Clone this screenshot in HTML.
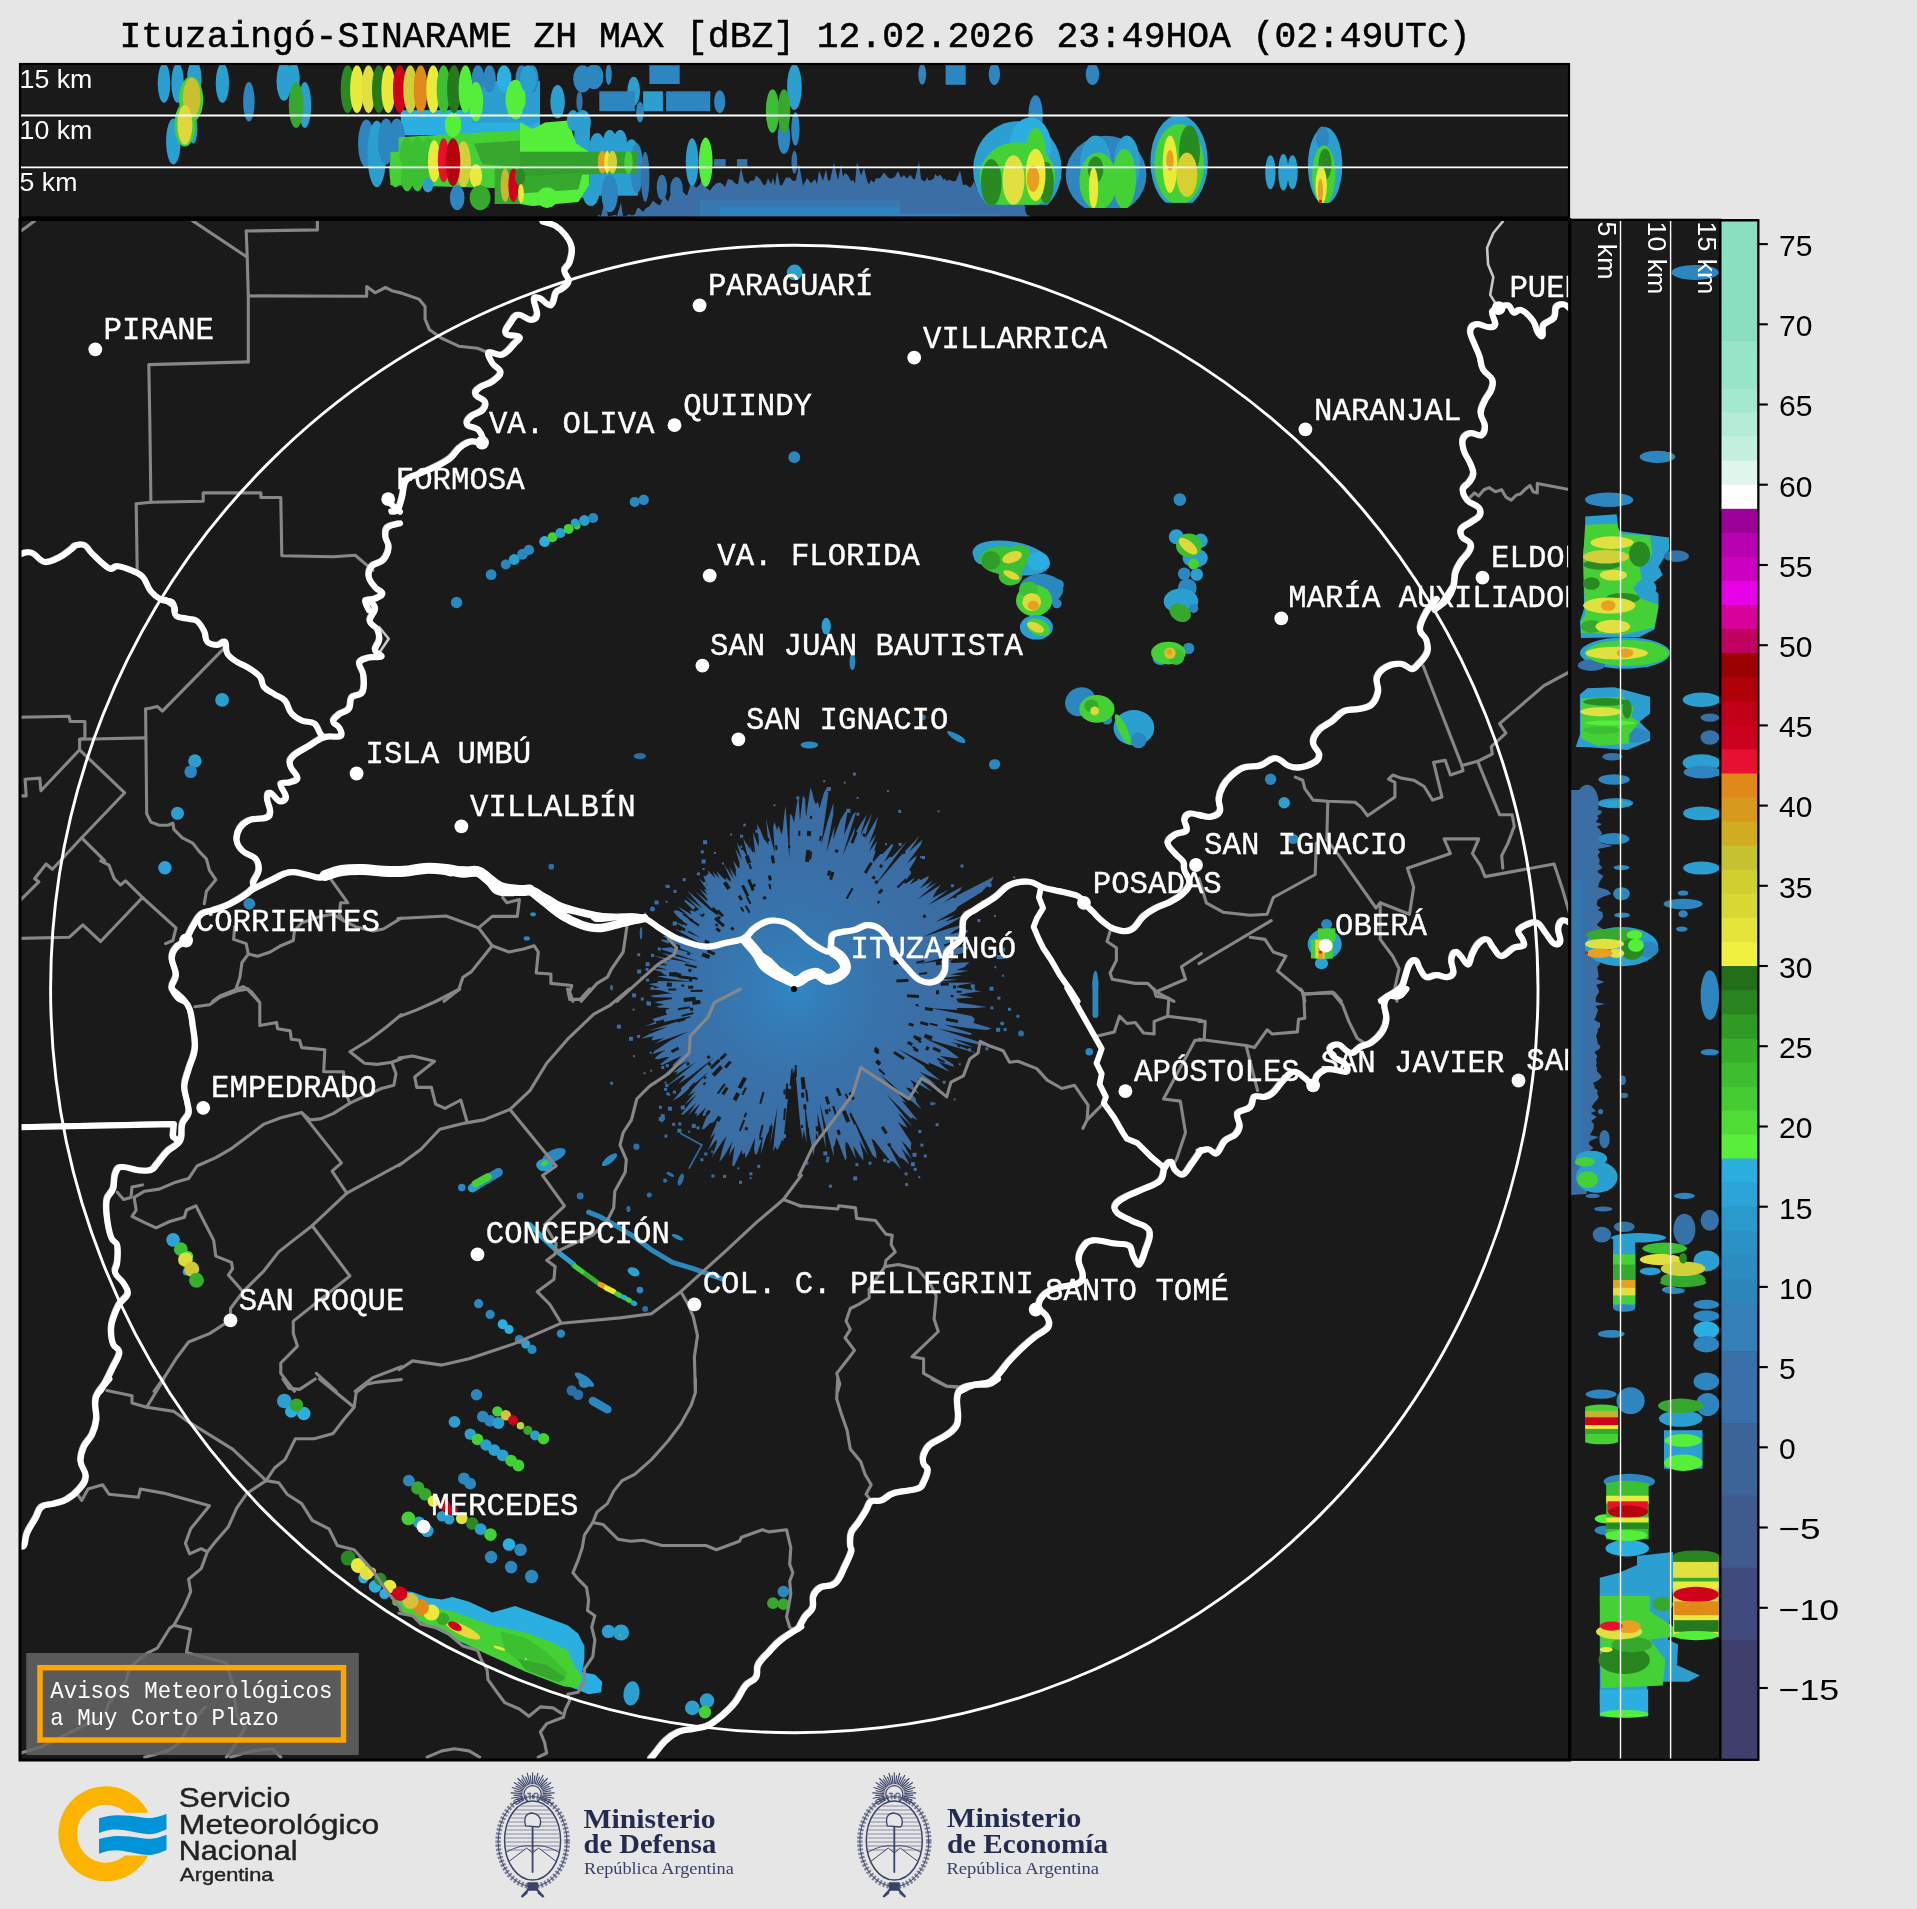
<!DOCTYPE html><html><head><meta charset="utf-8"><title>Radar</title><style>
html,body{margin:0;padding:0;background:#e6e6e6;}body{width:1917px;height:1909px;overflow:hidden;position:relative;font-family:"Liberation Sans",sans-serif;}
svg{position:absolute;left:0;top:0;display:block;will-change:transform;opacity:0.9999}
.mono{font-family:"Liberation Mono",monospace}.sans{font-family:"Liberation Sans",sans-serif}.serif{font-family:"Liberation Serif",serif}
</style></head><body>
<svg width="1917" height="1909" viewBox="0 0 1917 1909">
<rect width="1917" height="1909" fill="#e6e6e6"/>
<text class="mono" x="119.5" y="46.9" font-size="37.5" fill="#000" stroke="#000" stroke-width="0.55" textLength="1351" lengthAdjust="spacingAndGlyphs">Ituzaingó-SINARAME ZH MAX [dBZ] 12.02.2026 23:49HOA (02:49UTC)</text>
<defs><clipPath id="cm"><rect x="20" y="220" width="1549" height="1539"/></clipPath>
<clipPath id="ct"><rect x="20" y="64" width="1549" height="153"/></clipPath>
<clipPath id="cr"><rect x="1570" y="220" width="151" height="1539"/></clipPath>
<radialGradient id="rg" gradientUnits="userSpaceOnUse" cx="794" cy="989" r="210"><stop offset="0" stop-color="#2f88c4"/><stop offset="0.15" stop-color="#337db8"/><stop offset="0.4" stop-color="#3873ab"/><stop offset="0.65" stop-color="#3a6ea5"/><stop offset="1" stop-color="#3c6ba1"/></radialGradient>
</defs>
<rect x="19" y="63" width="1551" height="1697" fill="#1a1a1a"/>
<rect x="1569" y="219" width="190" height="1541" fill="#1a1a1a"/>
<g clip-path="url(#cm)">
<polygon points="965.3,989 981.3,991.2 968.4,993.1 958.4,994.7 973.6,997.4 956.5,998.5 956.9,1000.4 958.5,1002.4 987,1007 975.8,1008.1 956.2,1008 958.1,1010.1 931.1,1008.3 971.6,1016.1 974.6,1018.7 974.3,1020.8 973.2,1022.7 991.7,1028.6 986.6,1029.9 969,1028.3 943.5,1024.4 972.2,1033.4 970.1,1035.1 937.8,1028.4 984.1,1043.5 984.5,1046 953.1,1038.7 974.1,1047.5 950.3,1041.8 976.2,1052.9 947.9,1045 925,1038.4 946.3,1048.5 952.6,1053.1 959.2,1058 954.7,1058.3 946.3,1056.8 940.1,1056.1 953.3,1064.4 953.6,1066.8 938,1061.3 942.8,1065.9 950.2,1072 928.7,1062.6 928.7,1064.7 898.1,1049.1 923.9,1066 926.4,1069.6 940.5,1080.5 929.9,1076.2 919.3,1071.4 936.5,1085.1 919.3,1075.7 930.5,1085.8 916.3,1077.9 932,1091.7 919.9,1085 909.9,1079.5 913.7,1084.8 913.1,1086.6 920,1094.8 909.3,1088 905.8,1087.4 915.9,1098.8 916,1101.5 921.6,1109.4 900.5,1091.9 880.3,1074.3 906.6,1102.9 901.4,1100.2 917.7,1120.2 912.5,1117.6 910.8,1118.7 886.6,1094.3 912.8,1127.3 897.9,1112.8 907.4,1127.4 903.5,1125.9 897.9,1122 911.4,1142.9 910.8,1145.8 911.3,1150.4 901.4,1140.5 912,1159.6 901.3,1148.1 909.5,1164.6 902.8,1158.7 899.2,1157.3 886.9,1141.6 901.2,1169.8 893.5,1161.4 890.9,1161.4 883.1,1152 874.6,1140.7 871.4,1138.7 876,1152.2 876.6,1158.4 872.8,1155.4 849.1,1109 868.5,1156.2 859.3,1140.3 863.1,1154.5 863.4,1160.8 858.2,1153.3 853.1,1145.6 855.9,1159.1 848.2,1143.6 845.6,1141.7 845.4,1147.2 846.6,1157.7 845.4,1160.8 836.6,1137.6 835.6,1140.7 834.8,1144.8 833.4,1147.2 833.9,1157.3 819.6,1102.8 824.5,1132.3 826.1,1149 817.3,1112.9 817.9,1124.8 818.6,1138.6 815.9,1132.8 815.8,1144.3 814.6,1148.7 813.5,1155.7 809.1,1132.2 804.6,1102.5 806.6,1143.3 803.8,1129.3 802.7,1139.1 800.3,1125.3 797.9,1099.5 796,1076.9 795,1073.4 794,1068.3 793,1074 792.2,1067.8 791.2,1070 789.4,1087.4 787.3,1103.7 783.4,1141.2 781.7,1140 779.3,1146.6 777.1,1150.2 775.6,1146.5 773.1,1151.3 777.4,1107.1 770.4,1143.6 772.1,1122.1 768.9,1131.4 766.4,1135.4 760.9,1154.3 762.7,1136.4 756.9,1154.3 754.9,1154.1 754.1,1149 755.1,1137.5 749.4,1151.5 745.4,1158.4 745,1152.8 742.3,1154.6 741.8,1149.7 734.1,1166.3 732.1,1165.4 733.3,1155.7 734.7,1146.1 728.8,1156 732.4,1141.5 724.7,1155 719.4,1161.9 722.1,1150.5 726.5,1135.9 720.4,1144.5 711.8,1157.5 716.9,1142.4 716.3,1139.4 708,1150.6 715.6,1132.3 709.9,1138.7 716.4,1123.5 717,1118.8 712.8,1122.4 710.3,1123 704.4,1128.8 701.6,1129.5 704.3,1122 708.7,1112.3 703.6,1116.5 702.7,1114.6 706,1107.2 696.4,1117 697,1113.2 694.3,1113.6 700.1,1103.6 688.2,1115.1 696.3,1102.7 683.6,1114.5 681,1114.5 696.7,1094.5 684,1105.6 695.5,1091 688,1096.2 693.1,1088.8 708.3,1071.7 679.8,1096.8 672.8,1100.7 681.6,1090.2 680.8,1088.6 714.7,1057.2 689.1,1077 678,1084 685.3,1076 683.3,1075.5 665.2,1087.2 696.3,1061.8 675.5,1075.1 677.9,1071.3 673,1072.7 689.4,1059.6 664.2,1074.4 672.5,1066.9 673.1,1064.6 678.1,1059.6 681.1,1056 662.2,1065.1 659.8,1064.4 669.6,1057 666.3,1056.9 658.2,1059.2 654.6,1059 656.9,1055.9 665.2,1050 652.6,1053.9 654.5,1051.1 662.7,1045.7 670.3,1040.6 688.5,1031.6 654.4,1043.5 664,1038 652.1,1040.6 651.6,1039 654.1,1036.3 641.2,1038.6 649.1,1034.2 667.7,1026.8 648.4,1030.7 690.8,1017.3 690.1,1016.2 644.7,1026.2 655.2,1021.9 653.9,1020.5 652.4,1019.1 667.2,1014.4 666.1,1013.1 665.7,1011.6 665.8,1010.1 670.1,1007.9 660.1,1007.8 656,1006.8 664.3,1004.2 657.9,1003.3 654.4,1002 672.3,998.9 671.5,997.6 653.6,997.2 650,995.7 671.3,993.3 665.8,992 661.8,990.5 648.2,989 659.6,987.4 654.7,985.8 648.4,983.9 657.9,982.7 657.5,981.1 691.5,981.8 670.3,978.9 656.9,976.2 667.1,975.7 663.3,973.7 660.7,971.8 650.4,968.8 668.3,969.8 652.2,965.7 659.1,965.2 668,965.3 661,962.3 659.6,960.4 670.8,961.3 651.7,955.3 692,963.6 669.7,956.5 661.4,952.7 698.2,961.5 661.1,949.2 662.7,948 666.9,947.7 670.6,947.3 694.2,954 660.8,940.5 662.4,939.4 671.1,941 662.7,936 667,936 675.3,937.8 666.3,932.2 674.3,934 682.5,936.2 703.3,944.8 675.2,929.3 680.1,930.1 685.7,931.4 700.8,938 673.1,921.1 683.5,925.2 682.7,923 683.4,921.6 677,915.9 673.5,911.7 674.6,910.5 677.8,910.6 688.7,916.2 677.1,906.1 691.8,914.7 690.2,911.8 690.5,910.1 695.3,911.9 684.4,901.3 684.6,899.4 698.2,908.6 685.7,896 702.9,908.9 694.1,899 687.3,890.6 710,909.7 719.6,917.1 694.7,890.8 707.3,901.2 707.2,899.1 699.5,888.8 707.9,895.6 703.9,888.9 707.1,890.2 698.8,878.2 707.7,886.2 705.2,880.7 703.4,875.7 706,876.3 706.8,874.7 708.4,874 707.8,870.4 715.5,878.3 712.7,871.5 719.4,878.5 716.2,870.7 722.5,877.5 726.1,880.3 726.1,877.5 730.4,881.8 730.9,879.7 723.9,864.2 734,879.3 729,866.7 736.4,877.6 735.6,872.7 736,870 732.9,860 738.5,868.2 739.7,867 739.3,862.1 735.1,848 742.1,860.4 736.7,842.3 741.6,850.1 743.5,850.3 748.8,860.2 743.2,838.8 747.1,844.6 750.6,850 748.8,838 755.4,854.5 754,843.1 752.9,832.1 758.5,846.8 758.9,840.9 756.9,824 760.1,829.5 764,839.2 766.2,841.6 768.6,845 766,818.7 771.4,840.6 774.9,853.1 773.1,827 774.5,822.3 777.3,830.1 778.8,825.6 781.4,834.5 782.8,829.1 784,817.2 785.5,805.5 789.4,858.5 789.9,813.8 792,815.7 794,822.6 796.1,808.9 798.5,794.7 799.9,821.2 803,795.4 805.1,798.9 806,817 810.5,787.4 812.3,792.5 813.9,799.7 815.6,804 818.1,802.1 819.4,808.5 823.8,793.3 827.1,787.5 827.9,796.9 821.2,844.5 827.5,821.7 833.6,802.6 833.2,814.6 826.3,852.8 834.6,826 833.3,838.9 840.3,820 844.3,813.5 848.1,808.5 845.3,824.6 844,835.2 853.1,814.1 856.1,811.9 842.4,855.9 855,827.3 854,835.3 860.9,823.4 866.9,814.4 860.1,835.7 872.1,813.6 866.4,831.2 864.9,839.2 878.2,816.3 875.4,826.9 868.8,844.3 876.2,834.4 868.9,852 877.3,840.8 874.3,849.9 875.6,851.4 872.6,859.9 873.4,861.9 880.6,853.9 882.8,854 891.8,844.1 893.4,845.2 884.1,861.9 890.1,856.7 892.2,857 907.1,840.8 874.3,886.2 900.2,856.3 919.9,835.4 909.3,851.6 922.5,839.4 920.7,845 906.9,863.6 917,855.6 914.6,861.2 909.1,869.8 910.6,871.1 911.4,872.9 904,882.8 905.6,883.7 914.9,877.5 909.8,884.8 917.9,880 921.3,879.7 928.9,875.8 927.7,879.4 919.7,888.4 933,880.4 925.7,888.6 937,882.5 917.5,899.2 940.9,884.8 936.8,890.2 934.2,894.4 932.7,897.8 948.6,889.8 927.9,905.3 961.9,886.8 960.3,890.4 943.6,902.6 993.7,876.8 991.7,880.9 986.7,886.6 981.7,892 957.7,906.8 955.2,910.4 935.1,922.2 954.9,915.1 944.6,922 964.2,915.6 949.1,924.2 923,936.9 948.6,928.6 968,923.4 954.5,930.6 949.6,934.4 968.3,930.1 966.9,932.8 956.1,938.4 968.9,936.6 948.5,944.7 948.4,946.7 944.3,949.7 965.4,946.3 971,947 965.5,950.5 965.1,952.6 918.3,964.1 953.4,959 950,961.5 951.9,963.1 969.8,962.2 966.4,964.8 964.7,967 956.2,970 968.3,970.7 950,974.4 962.1,975.3 936,979.1 958,979.4 933.7,982.5 974,982.7 959,985.2 956.3,987.1" fill="url(#rg)"/>
<rect x="896.4" y="979.1" width="12" height="3" fill="#1a1a1a" transform="rotate(356 902.4 980.6)"/>
<rect x="956.6" y="990.8" width="5" height="2" fill="#1a1a1a" transform="rotate(1 959.1 991.8)"/>
<rect x="932.8" y="1048.3" width="8" height="3" fill="#1a1a1a" transform="rotate(23 936.8 1049.8)"/>
<rect x="722.8" y="883.6" width="8" height="4" fill="#1a1a1a" transform="rotate(237 726.8 885.6)"/>
<rect x="666.8" y="982.6" width="5" height="4" fill="#1a1a1a" transform="rotate(182 669.3 984.6)"/>
<rect x="688.1" y="921.2" width="12" height="2" fill="#1a1a1a" transform="rotate(214 694.1 922.2)"/>
<rect x="802.4" y="1105.3" width="5" height="3" fill="#1a1a1a" transform="rotate(85 804.9 1106.8)"/>
<rect x="781.7" y="1091.1" width="12" height="4" fill="#1a1a1a" transform="rotate(93 787.7 1093.1)"/>
<rect x="780.8" y="1088.5" width="12" height="2" fill="#1a1a1a" transform="rotate(94 786.8 1089.5)"/>
<rect x="877.0" y="901.2" width="3" height="2" fill="#1a1a1a" transform="rotate(314 878.5 902.2)"/>
<rect x="693.1" y="910.0" width="12" height="4" fill="#1a1a1a" transform="rotate(219 699.1 912.0)"/>
<rect x="767.0" y="838.6" width="3" height="2" fill="#1a1a1a" transform="rotate(260 768.5 839.6)"/>
<rect x="875.7" y="1060.5" width="5" height="4" fill="#1a1a1a" transform="rotate(41 878.2 1062.5)"/>
<rect x="730.9" y="927.2" width="3" height="3" fill="#1a1a1a" transform="rotate(224 732.4 928.7)"/>
<rect x="744.0" y="857.5" width="8" height="4" fill="#1a1a1a" transform="rotate(250 748.0 859.5)"/>
<rect x="806.5" y="831.5" width="5" height="4" fill="#1a1a1a" transform="rotate(276 809.0 833.5)"/>
<rect x="709.2" y="1062.5" width="12" height="3" fill="#1a1a1a" transform="rotate(136 715.2 1064.0)"/>
<rect x="915.6" y="1037.7" width="5" height="3" fill="#1a1a1a" transform="rotate(22 918.1 1039.2)"/>
<rect x="745.3" y="845.1" width="12" height="2" fill="#1a1a1a" transform="rotate(253 751.3 846.1)"/>
<rect x="796.8" y="832.3" width="5" height="2" fill="#1a1a1a" transform="rotate(272 799.3 833.3)"/>
<rect x="787.7" y="845.6" width="3" height="2" fill="#1a1a1a" transform="rotate(268 789.2 846.6)"/>
<rect x="800.6" y="1125.5" width="3" height="2" fill="#1a1a1a" transform="rotate(87 802.1 1126.5)"/>
<rect x="707.0" y="1055.6" width="3" height="3" fill="#1a1a1a" transform="rotate(141 708.5 1057.1)"/>
<rect x="935.9" y="961.0" width="5" height="4" fill="#1a1a1a" transform="rotate(350 938.4 963.0)"/>
<rect x="755.9" y="1096.9" width="12" height="2" fill="#1a1a1a" transform="rotate(106 761.9 1097.9)"/>
<rect x="656.1" y="1020.5" width="8" height="3" fill="#1a1a1a" transform="rotate(166 660.1 1022.0)"/>
<rect x="707.4" y="1125.2" width="5" height="4" fill="#1a1a1a" transform="rotate(121 709.9 1127.2)"/>
<rect x="929.7" y="1023.6" width="8" height="2" fill="#1a1a1a" transform="rotate(14 933.7 1024.6)"/>
<rect x="674.9" y="934.4" width="5" height="4" fill="#1a1a1a" transform="rotate(204 677.4 936.4)"/>
<rect x="681.5" y="1013.5" width="12" height="2" fill="#1a1a1a" transform="rotate(167 687.5 1014.5)"/>
<rect x="719.3" y="1055.0" width="8" height="3" fill="#1a1a1a" transform="rotate(136 723.3 1056.5)"/>
<rect x="789.8" y="1070.1" width="12" height="2" fill="#1a1a1a" transform="rotate(89 795.8 1071.1)"/>
<rect x="823.4" y="1098.9" width="8" height="3" fill="#1a1a1a" transform="rotate(73 827.4 1100.4)"/>
<rect x="677.9" y="1007.2" width="12" height="2" fill="#1a1a1a" transform="rotate(170 683.9 1008.2)"/>
<rect x="828.0" y="1109.1" width="3" height="2" fill="#1a1a1a" transform="rotate(74 829.5 1110.1)"/>
<rect x="752.5" y="884.0" width="3" height="3" fill="#1a1a1a" transform="rotate(249 754.0 885.5)"/>
<rect x="669.2" y="972.8" width="12" height="4" fill="#1a1a1a" transform="rotate(187 675.2 974.8)"/>
<rect x="685.1" y="940.7" width="8" height="2" fill="#1a1a1a" transform="rotate(204 689.1 941.7)"/>
<rect x="874.1" y="1050.3" width="5" height="3" fill="#1a1a1a" transform="rotate(37 876.6 1051.8)"/>
<rect x="809.5" y="816.4" width="3" height="2" fill="#1a1a1a" transform="rotate(276 811.0 817.4)"/>
<rect x="953.0" y="985.5" width="3" height="3" fill="#1a1a1a" transform="rotate(359 954.5 987.0)"/>
<rect x="875.0" y="880.6" width="3" height="3" fill="#1a1a1a" transform="rotate(308 876.5 882.1)"/>
<rect x="744.9" y="1127.2" width="3" height="3" fill="#1a1a1a" transform="rotate(109 746.4 1128.7)"/>
<rect x="846.3" y="1118.3" width="3" height="2" fill="#1a1a1a" transform="rotate(68 847.8 1119.3)"/>
<rect x="824.2" y="1110.2" width="5" height="3" fill="#1a1a1a" transform="rotate(75 826.7 1111.7)"/>
<rect x="678.5" y="975.8" width="12" height="3" fill="#1a1a1a" transform="rotate(186 684.5 977.3)"/>
<rect x="743.6" y="908.2" width="8" height="2" fill="#1a1a1a" transform="rotate(240 747.6 909.2)"/>
<rect x="684.8" y="964.9" width="12" height="2" fill="#1a1a1a" transform="rotate(193 690.8 965.9)"/>
<rect x="689.8" y="977.4" width="8" height="2" fill="#1a1a1a" transform="rotate(186 693.8 978.4)"/>
<rect x="703.0" y="1082.7" width="3" height="2" fill="#1a1a1a" transform="rotate(133 704.5 1083.7)"/>
<rect x="879.6" y="864.7" width="3" height="3" fill="#1a1a1a" transform="rotate(305 881.1 866.2)"/>
<rect x="855.6" y="824.5" width="3" height="3" fill="#1a1a1a" transform="rotate(291 857.1 826.0)"/>
<rect x="922.9" y="914.8" width="3" height="3" fill="#1a1a1a" transform="rotate(331 924.4 916.3)"/>
<rect x="944.0" y="943.4" width="8" height="2" fill="#1a1a1a" transform="rotate(344 948.0 944.4)"/>
<rect x="893.0" y="1054.0" width="12" height="3" fill="#1a1a1a" transform="rotate(32 899.0 1055.5)"/>
<rect x="913.3" y="1036.4" width="8" height="3" fill="#1a1a1a" transform="rotate(22 917.3 1037.9)"/>
<rect x="690.6" y="989.8" width="12" height="2" fill="#1a1a1a" transform="rotate(179 696.6 990.8)"/>
<rect x="836.2" y="1130.8" width="5" height="3" fill="#1a1a1a" transform="rotate(73 838.7 1132.3)"/>
<rect x="672.8" y="972.2" width="5" height="3" fill="#1a1a1a" transform="rotate(187 675.3 973.7)"/>
<rect x="692.4" y="1000.4" width="8" height="4" fill="#1a1a1a" transform="rotate(172 696.4 1002.4)"/>
<rect x="763.0" y="896.4" width="3" height="3" fill="#1a1a1a" transform="rotate(252 764.5 897.9)"/>
<rect x="723.9" y="1063.1" width="8" height="3" fill="#1a1a1a" transform="rotate(131 727.9 1064.6)"/>
<rect x="924.3" y="1035.0" width="8" height="4" fill="#1a1a1a" transform="rotate(20 928.3 1037.0)"/>
<rect x="690.1" y="1007.7" width="3" height="3" fill="#1a1a1a" transform="rotate(169 691.6 1009.2)"/>
<rect x="924.9" y="1007.6" width="8" height="3" fill="#1a1a1a" transform="rotate(8 928.9 1009.1)"/>
<rect x="778.6" y="1113.3" width="12" height="2" fill="#1a1a1a" transform="rotate(94 784.6 1114.3)"/>
<rect x="708.0" y="1062.6" width="3" height="3" fill="#1a1a1a" transform="rotate(138 709.5 1064.1)"/>
<rect x="677.9" y="928.6" width="3" height="2" fill="#1a1a1a" transform="rotate(207 679.4 929.6)"/>
<rect x="717.4" y="916.3" width="3" height="3" fill="#1a1a1a" transform="rotate(223 718.9 917.8)"/>
<rect x="764.3" y="1130.5" width="12" height="3" fill="#1a1a1a" transform="rotate(99 770.3 1132.0)"/>
<rect x="916.3" y="960.9" width="8" height="2" fill="#1a1a1a" transform="rotate(348 920.3 961.9)"/>
<rect x="742.8" y="1114.1" width="5" height="2" fill="#1a1a1a" transform="rotate(111 745.3 1115.1)"/>
<rect x="715.7" y="928.4" width="5" height="3" fill="#1a1a1a" transform="rotate(218 718.2 929.9)"/>
<rect x="797.2" y="1081.2" width="12" height="4" fill="#1a1a1a" transform="rotate(84 803.2 1083.2)"/>
<rect x="936.0" y="990.2" width="3" height="4" fill="#1a1a1a" transform="rotate(1 937.5 992.2)"/>
<rect x="711.3" y="909.4" width="8" height="3" fill="#1a1a1a" transform="rotate(225 715.3 910.9)"/>
<rect x="705.6" y="1111.1" width="5" height="3" fill="#1a1a1a" transform="rotate(125 708.1 1112.6)"/>
<rect x="747.7" y="865.5" width="5" height="2" fill="#1a1a1a" transform="rotate(250 750.2 866.5)"/>
<rect x="880.3" y="1128.7" width="8" height="3" fill="#1a1a1a" transform="rotate(57 884.3 1130.2)"/>
<rect x="711.4" y="1069.0" width="12" height="4" fill="#1a1a1a" transform="rotate(133 717.4 1071.0)"/>
<rect x="800.2" y="1093.7" width="5" height="3" fill="#1a1a1a" transform="rotate(85 802.7 1095.2)"/>
<rect x="953.7" y="896.0" width="3" height="2" fill="#1a1a1a" transform="rotate(330 955.2 897.0)"/>
<rect x="862.5" y="833.4" width="3" height="3" fill="#1a1a1a" transform="rotate(294 864.0 834.9)"/>
<rect x="872.3" y="876.1" width="3" height="3" fill="#1a1a1a" transform="rotate(306 873.8 877.6)"/>
<rect x="887.9" y="1143.4" width="3" height="3" fill="#1a1a1a" transform="rotate(59 889.4 1144.9)"/>
<rect x="721.0" y="1089.5" width="8" height="3" fill="#1a1a1a" transform="rotate(124 725.0 1091.0)"/>
<rect x="767.4" y="876.4" width="5" height="3" fill="#1a1a1a" transform="rotate(258 769.9 877.9)"/>
<rect x="716.0" y="1116.9" width="5" height="4" fill="#1a1a1a" transform="rotate(120 718.5 1118.9)"/>
<rect x="695.2" y="945.2" width="8" height="2" fill="#1a1a1a" transform="rotate(204 699.2 946.2)"/>
<rect x="827.8" y="874.3" width="8" height="3" fill="#1a1a1a" transform="rotate(288 831.8 875.8)"/>
<rect x="800.8" y="1094.6" width="12" height="2" fill="#1a1a1a" transform="rotate(83 806.8 1095.6)"/>
<rect x="679.5" y="922.1" width="8" height="2" fill="#1a1a1a" transform="rotate(211 683.5 923.1)"/>
<rect x="745.0" y="883.6" width="12" height="3" fill="#1a1a1a" transform="rotate(248 751.0 885.1)"/>
<rect x="953.0" y="916.1" width="5" height="2" fill="#1a1a1a" transform="rotate(336 955.5 917.1)"/>
<rect x="767.4" y="885.5" width="5" height="2" fill="#1a1a1a" transform="rotate(257 769.9 886.5)"/>
<rect x="755.3" y="1129.8" width="12" height="2" fill="#1a1a1a" transform="rotate(103 761.3 1130.8)"/>
<rect x="736.3" y="1080.9" width="12" height="4" fill="#1a1a1a" transform="rotate(119 742.3 1082.9)"/>
<rect x="847.7" y="1094.5" width="8" height="3" fill="#1a1a1a" transform="rotate(62 851.7 1096.0)"/>
<rect x="814.8" y="1127.3" width="5" height="3" fill="#1a1a1a" transform="rotate(81 817.3 1128.8)"/>
<rect x="919.1" y="972.5" width="8" height="2" fill="#1a1a1a" transform="rotate(353 923.1 973.5)"/>
<rect x="829.9" y="873.2" width="3" height="2" fill="#1a1a1a" transform="rotate(288 831.4 874.2)"/>
<rect x="668.3" y="943.4" width="12" height="3" fill="#1a1a1a" transform="rotate(200 674.3 944.9)"/>
<rect x="877.9" y="1070.9" width="8" height="2" fill="#1a1a1a" transform="rotate(43 881.9 1071.9)"/>
<rect x="707.1" y="951.1" width="8" height="3" fill="#1a1a1a" transform="rotate(204 711.1 952.6)"/>
<rect x="740.2" y="1090.2" width="8" height="2" fill="#1a1a1a" transform="rotate(116 744.2 1091.2)"/>
<rect x="687.1" y="952.7" width="3" height="2" fill="#1a1a1a" transform="rotate(199 688.6 953.7)"/>
<rect x="950.6" y="995.1" width="3" height="2" fill="#1a1a1a" transform="rotate(3 952.1 996.1)"/>
<rect x="846.6" y="1117.9" width="12" height="2" fill="#1a1a1a" transform="rotate(66 852.6 1118.9)"/>
<rect x="683.7" y="997.4" width="12" height="4" fill="#1a1a1a" transform="rotate(174 689.7 999.4)"/>
<rect x="701.9" y="953.8" width="8" height="4" fill="#1a1a1a" transform="rotate(201 705.9 955.8)"/>
<rect x="762.3" y="1137.6" width="12" height="2" fill="#1a1a1a" transform="rotate(100 768.3 1138.6)"/>
<rect x="675.1" y="932.1" width="5" height="2" fill="#1a1a1a" transform="rotate(206 677.6 933.1)"/>
<rect x="901.8" y="850.2" width="3" height="4" fill="#1a1a1a" transform="rotate(309 903.3 852.2)"/>
<rect x="744.7" y="899.2" width="8" height="2" fill="#1a1a1a" transform="rotate(243 748.7 900.2)"/>
<rect x="918.4" y="1040.6" width="3" height="2" fill="#1a1a1a" transform="rotate(23 919.9 1041.6)"/>
<rect x="893.3" y="960.0" width="8" height="4" fill="#1a1a1a" transform="rotate(345 897.3 962.0)"/>
<rect x="848.1" y="836.1" width="12" height="3" fill="#1a1a1a" transform="rotate(292 854.1 837.6)"/>
<rect x="736.0" y="1124.4" width="12" height="2" fill="#1a1a1a" transform="rotate(111 742.0 1125.4)"/>
<rect x="686.5" y="1062.3" width="3" height="3" fill="#1a1a1a" transform="rotate(145 688.0 1063.8)"/>
<rect x="907.0" y="994.6" width="12" height="3" fill="#1a1a1a" transform="rotate(3 913.0 996.1)"/>
<rect x="768.9" y="857.9" width="8" height="3" fill="#1a1a1a" transform="rotate(261 772.9 859.4)"/>
<rect x="716.2" y="911.9" width="8" height="3" fill="#1a1a1a" transform="rotate(226 720.2 913.4)"/>
<rect x="925.9" y="1046.4" width="3" height="4" fill="#1a1a1a" transform="rotate(24 927.4 1048.4)"/>
<rect x="782.0" y="1090.9" width="5" height="2" fill="#1a1a1a" transform="rotate(95 784.5 1091.9)"/>
<rect x="908.6" y="1023.1" width="5" height="3" fill="#1a1a1a" transform="rotate(17 911.1 1024.6)"/>
<rect x="843.3" y="1096.5" width="8" height="2" fill="#1a1a1a" transform="rotate(64 847.3 1097.5)"/>
<rect x="715.3" y="1087.7" width="12" height="2" fill="#1a1a1a" transform="rotate(126 721.3 1088.7)"/>
<rect x="688.2" y="985.8" width="5" height="3" fill="#1a1a1a" transform="rotate(181 690.7 987.3)"/>
<rect x="915.7" y="1004.2" width="3" height="2" fill="#1a1a1a" transform="rotate(7 917.2 1005.2)"/>
<rect x="704.5" y="940.5" width="5" height="3" fill="#1a1a1a" transform="rotate(208 707.0 942.0)"/>
<rect x="668.2" y="988.5" width="8" height="2" fill="#1a1a1a" transform="rotate(180 672.2 989.5)"/>
<rect x="907.5" y="1042.0" width="5" height="3" fill="#1a1a1a" transform="rotate(25 910.0 1043.5)"/>
<rect x="818.0" y="837.4" width="5" height="2" fill="#1a1a1a" transform="rotate(280 820.5 838.4)"/>
<rect x="773.8" y="846.5" width="5" height="2" fill="#1a1a1a" transform="rotate(263 776.3 847.5)"/>
<rect x="713.5" y="920.6" width="12" height="3" fill="#1a1a1a" transform="rotate(222 719.5 922.1)"/>
<rect x="681.3" y="984.6" width="3" height="2" fill="#1a1a1a" transform="rotate(182 682.8 985.6)"/>
<rect x="862.3" y="866.3" width="12" height="3" fill="#1a1a1a" transform="rotate(301 868.3 867.8)"/>
<rect x="737.9" y="896.3" width="5" height="3" fill="#1a1a1a" transform="rotate(240 740.4 897.8)"/>
<rect x="703.5" y="1076.5" width="3" height="2" fill="#1a1a1a" transform="rotate(135 705.0 1077.5)"/>
<rect x="688.4" y="968.9" width="3" height="3" fill="#1a1a1a" transform="rotate(190 689.9 970.4)"/>
<rect x="682.0" y="916.4" width="12" height="2" fill="#1a1a1a" transform="rotate(214 688.0 917.4)"/>
<rect x="732.4" y="1094.7" width="8" height="4" fill="#1a1a1a" transform="rotate(118 736.4 1096.7)"/>
<rect x="840.1" y="1114.5" width="12" height="4" fill="#1a1a1a" transform="rotate(68 846.1 1116.5)"/>
<rect x="957.6" y="1044.0" width="3" height="3" fill="#1a1a1a" transform="rotate(19 959.1 1045.5)"/>
<rect x="806.6" y="1128.7" width="3" height="2" fill="#1a1a1a" transform="rotate(84 808.1 1129.7)"/>
<rect x="835.1" y="849.6" width="3" height="3" fill="#1a1a1a" transform="rotate(287 836.6 851.1)"/>
<rect x="834.7" y="1090.6" width="8" height="3" fill="#1a1a1a" transform="rotate(67 838.7 1092.1)"/>
<rect x="692.7" y="976.9" width="3" height="2" fill="#1a1a1a" transform="rotate(186 694.2 977.9)"/>
<rect x="878.1" y="889.9" width="5" height="3" fill="#1a1a1a" transform="rotate(312 880.6 891.4)"/>
<rect x="913.5" y="1048.3" width="5" height="3" fill="#1a1a1a" transform="rotate(26 916.0 1049.8)"/>
<rect x="912.5" y="1046.5" width="3" height="2" fill="#1a1a1a" transform="rotate(26 914.0 1047.5)"/>
<rect x="826.5" y="871.7" width="5" height="3" fill="#1a1a1a" transform="rotate(287 829.0 873.2)"/>
<rect x="874.2" y="1047.9" width="5" height="3" fill="#1a1a1a" transform="rotate(36 876.7 1049.4)"/>
<rect x="843.6" y="892.5" width="12" height="2" fill="#1a1a1a" transform="rotate(300 849.6 893.5)"/>
<rect x="946.0" y="1018.8" width="12" height="3" fill="#1a1a1a" transform="rotate(11 952.0 1020.3)"/>
<rect x="937.0" y="1059.3" width="8" height="2" fill="#1a1a1a" transform="rotate(26 941.0 1060.3)"/>
<rect x="895.7" y="882.4" width="12" height="2" fill="#1a1a1a" transform="rotate(316 901.7 883.4)"/>
<rect x="688.7" y="1084.7" width="8" height="3" fill="#1a1a1a" transform="rotate(136 692.7 1086.2)"/>
<rect x="739.7" y="908.3" width="5" height="2" fill="#1a1a1a" transform="rotate(237 742.2 909.3)"/>
<rect x="801.7" y="853.9" width="12" height="4" fill="#1a1a1a" transform="rotate(276 807.7 855.9)"/>
<rect x="920.3" y="1022.1" width="8" height="3" fill="#1a1a1a" transform="rotate(15 924.3 1023.6)"/>
<rect x="715.1" y="923.9" width="3" height="2" fill="#1a1a1a" transform="rotate(220 716.6 924.9)"/>
<rect x="940.7" y="982.6" width="8" height="3" fill="#1a1a1a" transform="rotate(358 944.7 984.1)"/>
<rect x="806.7" y="854.5" width="8" height="2" fill="#1a1a1a" transform="rotate(277 810.7 855.5)"/>
<rect x="671.0" y="1048.4" width="8" height="3" fill="#1a1a1a" transform="rotate(153 675.0 1049.9)"/>
<rect x="677.3" y="1019.4" width="8" height="2" fill="#1a1a1a" transform="rotate(164 681.3 1020.4)"/>
<rect x="689.2" y="978.5" width="3" height="3" fill="#1a1a1a" transform="rotate(185 690.7 980.0)"/>
<rect x="759.2" y="1137.0" width="3" height="3" fill="#1a1a1a" transform="rotate(103 760.7 1138.5)"/>
<rect x="739.2" y="889.2" width="12" height="3" fill="#1a1a1a" transform="rotate(244 745.2 890.7)"/>
<rect x="829.0" y="1110.7" width="12" height="2" fill="#1a1a1a" transform="rotate(72 835.0 1111.7)"/>
<rect x="696.9" y="872.4" width="3" height="3" fill="#3a6ea5"/>
<rect x="757.2" y="1164.8" width="3" height="3" fill="#3a6ea5"/>
<rect x="739.0" y="1180.8" width="3" height="3" fill="#3a6ea5"/>
<rect x="990.4" y="1006.4" width="3" height="3" fill="#3a6ea5"/>
<rect x="668.2" y="1093.8" width="2" height="2" fill="#3a6ea5"/>
<rect x="886.9" y="790.1" width="2" height="2" fill="#3a6ea5"/>
<rect x="657.8" y="947.5" width="3" height="3" fill="#3a6ea5"/>
<rect x="942.7" y="1080.7" width="3" height="3" fill="#3a6ea5"/>
<rect x="1003.6" y="1028.1" width="3" height="3" fill="#3a6ea5"/>
<rect x="1002.1" y="974.7" width="2" height="2" fill="#3a6ea5"/>
<rect x="721.9" y="862.5" width="2" height="2" fill="#3a6ea5"/>
<rect x="678.3" y="1122.5" width="3" height="3" fill="#3a6ea5"/>
<rect x="632.6" y="1008.6" width="2" height="2" fill="#3a6ea5"/>
<rect x="1001.1" y="947.7" width="4" height="4" fill="#3a6ea5"/>
<rect x="649.7" y="1051.8" width="2" height="2" fill="#3a6ea5"/>
<rect x="970.8" y="984.3" width="4" height="4" fill="#3a6ea5"/>
<rect x="700.8" y="850.4" width="3" height="3" fill="#3a6ea5"/>
<rect x="637.1" y="969.5" width="4" height="4" fill="#3a6ea5"/>
<rect x="680.8" y="1105.5" width="4" height="4" fill="#3a6ea5"/>
<rect x="953.6" y="1098.5" width="2" height="2" fill="#3a6ea5"/>
<rect x="905.1" y="1183.1" width="3" height="3" fill="#3a6ea5"/>
<rect x="703.1" y="840.2" width="4" height="4" fill="#3a6ea5"/>
<rect x="824.2" y="791.7" width="4" height="4" fill="#3a6ea5"/>
<rect x="913.7" y="1167.8" width="3" height="3" fill="#3a6ea5"/>
<rect x="993.9" y="915.0" width="2" height="2" fill="#3a6ea5"/>
<rect x="933.5" y="1102.6" width="2" height="2" fill="#3a6ea5"/>
<rect x="825.3" y="794.0" width="2" height="2" fill="#3a6ea5"/>
<rect x="958.8" y="1063.2" width="2" height="2" fill="#3a6ea5"/>
<rect x="646.1" y="978.6" width="3" height="3" fill="#3a6ea5"/>
<rect x="826.9" y="787.1" width="4" height="4" fill="#3a6ea5"/>
<rect x="616.9" y="1024.6" width="4" height="4" fill="#3a6ea5"/>
<rect x="887.1" y="1160.1" width="3" height="3" fill="#3a6ea5"/>
<rect x="898.6" y="842.9" width="3" height="3" fill="#3a6ea5"/>
<rect x="923.8" y="1154.5" width="3" height="3" fill="#3a6ea5"/>
<rect x="650.2" y="1083.2" width="2" height="2" fill="#3a6ea5"/>
<rect x="665.8" y="1064.2" width="3" height="3" fill="#3a6ea5"/>
<rect x="846.4" y="808.8" width="4" height="4" fill="#3a6ea5"/>
<rect x="918.2" y="1176.2" width="2" height="2" fill="#3a6ea5"/>
<rect x="654.4" y="1082.3" width="2" height="2" fill="#3a6ea5"/>
<rect x="666.3" y="1092.3" width="3" height="3" fill="#3a6ea5"/>
<rect x="782.0" y="1134.1" width="4" height="4" fill="#3a6ea5"/>
<rect x="700.4" y="1158.2" width="3" height="3" fill="#3a6ea5"/>
<rect x="653.7" y="924.7" width="2" height="2" fill="#3a6ea5"/>
<rect x="664.1" y="1087.8" width="3" height="3" fill="#3a6ea5"/>
<rect x="823.3" y="1151.4" width="4" height="4" fill="#3a6ea5"/>
<rect x="658.9" y="1105.8" width="3" height="3" fill="#3a6ea5"/>
<rect x="648.7" y="1034.1" width="2" height="2" fill="#3a6ea5"/>
<rect x="904.6" y="1172.4" width="3" height="3" fill="#3a6ea5"/>
<rect x="664.6" y="1081.6" width="2" height="2" fill="#3a6ea5"/>
<rect x="755.3" y="829.8" width="3" height="3" fill="#3a6ea5"/>
<rect x="647.0" y="1001.6" width="4" height="4" fill="#3a6ea5"/>
<rect x="773.5" y="804.3" width="2" height="2" fill="#3a6ea5"/>
<rect x="997.4" y="996.6" width="3" height="3" fill="#3a6ea5"/>
<rect x="672.2" y="1122.8" width="3" height="3" fill="#3a6ea5"/>
<rect x="885.0" y="843.2" width="2" height="2" fill="#3a6ea5"/>
<rect x="711.4" y="1174.5" width="3" height="3" fill="#3a6ea5"/>
<rect x="968.1" y="1048.3" width="3" height="3" fill="#3a6ea5"/>
<rect x="654.6" y="900.5" width="4" height="4" fill="#3a6ea5"/>
<rect x="702.6" y="868.0" width="2" height="2" fill="#3a6ea5"/>
<rect x="749.7" y="1177.2" width="2" height="2" fill="#3a6ea5"/>
<rect x="665.3" y="1084.0" width="3" height="3" fill="#3a6ea5"/>
<rect x="704.3" y="1152.5" width="3" height="3" fill="#3a6ea5"/>
<rect x="843.7" y="781.6" width="2" height="2" fill="#3a6ea5"/>
<rect x="989.5" y="986.7" width="4" height="4" fill="#3a6ea5"/>
<rect x="682.7" y="878.1" width="3" height="3" fill="#3a6ea5"/>
<rect x="703.7" y="881.9" width="3" height="3" fill="#3a6ea5"/>
<rect x="672.7" y="921.6" width="4" height="4" fill="#3a6ea5"/>
<rect x="643.5" y="1072.2" width="2" height="2" fill="#3a6ea5"/>
<rect x="883.2" y="1158.8" width="3" height="3" fill="#3a6ea5"/>
<rect x="667.9" y="1106.7" width="4" height="4" fill="#3a6ea5"/>
<rect x="856.6" y="796.9" width="2" height="2" fill="#3a6ea5"/>
<rect x="898.2" y="809.9" width="3" height="3" fill="#3a6ea5"/>
<rect x="713.9" y="851.9" width="2" height="2" fill="#3a6ea5"/>
<rect x="743.2" y="824.4" width="2" height="2" fill="#3a6ea5"/>
<rect x="987.6" y="883.1" width="4" height="4" fill="#3a6ea5"/>
<rect x="711.2" y="1150.7" width="2" height="2" fill="#3a6ea5"/>
<rect x="910.9" y="1162.2" width="4" height="4" fill="#3a6ea5"/>
<rect x="996.1" y="1027.8" width="4" height="4" fill="#3a6ea5"/>
<rect x="853.2" y="1176.4" width="4" height="4" fill="#3a6ea5"/>
<rect x="632.1" y="993.4" width="4" height="4" fill="#3a6ea5"/>
<rect x="640.5" y="976.5" width="3" height="3" fill="#3a6ea5"/>
<rect x="823.2" y="780.2" width="2" height="2" fill="#3a6ea5"/>
<rect x="696.5" y="1126.4" width="3" height="3" fill="#3a6ea5"/>
<rect x="658.7" y="1117.0" width="4" height="4" fill="#3a6ea5"/>
<rect x="629.0" y="1036.8" width="4" height="4" fill="#3a6ea5"/>
<rect x="677.4" y="1128.7" width="4" height="4" fill="#3a6ea5"/>
<rect x="744.0" y="823.7" width="2" height="2" fill="#3a6ea5"/>
<rect x="740.1" y="834.7" width="3" height="3" fill="#3a6ea5"/>
<rect x="688.1" y="1130.7" width="2" height="2" fill="#3a6ea5"/>
<rect x="788.1" y="1085.9" width="3" height="3" fill="#3a6ea5"/>
<rect x="660.7" y="1114.1" width="4" height="4" fill="#3a6ea5"/>
<rect x="950.9" y="884.2" width="3" height="3" fill="#3a6ea5"/>
<rect x="1000.0" y="955.0" width="4" height="4" fill="#3a6ea5"/>
<rect x="672.9" y="1090.6" width="3" height="3" fill="#3a6ea5"/>
<rect x="796.3" y="796.5" width="3" height="3" fill="#3a6ea5"/>
<rect x="650.8" y="986.9" width="3" height="3" fill="#3a6ea5"/>
<rect x="651.7" y="923.3" width="3" height="3" fill="#3a6ea5"/>
<rect x="640.8" y="997.5" width="3" height="3" fill="#3a6ea5"/>
<rect x="856.4" y="812.7" width="3" height="3" fill="#3a6ea5"/>
<rect x="826.4" y="1156.6" width="3" height="3" fill="#3a6ea5"/>
<rect x="935.6" y="1123.2" width="3" height="3" fill="#3a6ea5"/>
<rect x="960.5" y="864.5" width="3" height="3" fill="#3a6ea5"/>
<rect x="664.4" y="1134.6" width="3" height="3" fill="#3a6ea5"/>
<rect x="665.5" y="884.8" width="3" height="3" fill="#3a6ea5"/>
<rect x="930.4" y="1102.2" width="3" height="3" fill="#3a6ea5"/>
<rect x="651.0" y="953.8" width="3" height="3" fill="#3a6ea5"/>
<rect x="749.4" y="1172.3" width="3" height="3" fill="#3a6ea5"/>
<rect x="646.3" y="1001.4" width="3" height="3" fill="#3a6ea5"/>
<rect x="852.9" y="772.6" width="3" height="3" fill="#3a6ea5"/>
<rect x="922.0" y="856.1" width="3" height="3" fill="#3a6ea5"/>
<rect x="673.5" y="889.9" width="3" height="3" fill="#3a6ea5"/>
<rect x="637.2" y="953.2" width="3" height="3" fill="#3a6ea5"/>
<rect x="723.1" y="1174.9" width="3" height="3" fill="#3a6ea5"/>
<rect x="701.6" y="859.5" width="4" height="4" fill="#3a6ea5"/>
<rect x="637.1" y="1034.9" width="3" height="3" fill="#3a6ea5"/>
<rect x="977.4" y="919.1" width="3" height="3" fill="#3a6ea5"/>
<rect x="917.7" y="878.8" width="2" height="2" fill="#3a6ea5"/>
<rect x="644.2" y="912.4" width="2" height="2" fill="#3a6ea5"/>
<rect x="735.5" y="1156.6" width="2" height="2" fill="#3a6ea5"/>
<rect x="855.4" y="1163.2" width="3" height="3" fill="#3a6ea5"/>
<rect x="920.1" y="856.2" width="2" height="2" fill="#3a6ea5"/>
<rect x="920.4" y="1143.6" width="3" height="3" fill="#3a6ea5"/>
<rect x="994.3" y="966.2" width="2" height="2" fill="#3a6ea5"/>
<rect x="633.0" y="1055.1" width="2" height="2" fill="#3a6ea5"/>
<rect x="645.6" y="962.2" width="4" height="4" fill="#3a6ea5"/>
<rect x="1013.2" y="876.3" width="2" height="2" fill="#3a6ea5"/>
<rect x="650.2" y="1069.7" width="2" height="2" fill="#3a6ea5"/>
<rect x="740.2" y="845.7" width="2" height="2" fill="#3a6ea5"/>
<rect x="918.3" y="1130.0" width="3" height="3" fill="#3a6ea5"/>
<rect x="825.9" y="1159.4" width="3" height="3" fill="#3a6ea5"/>
<rect x="1002.3" y="955.7" width="3" height="3" fill="#3a6ea5"/>
<rect x="937.5" y="810.3" width="2" height="2" fill="#3a6ea5"/>
<rect x="666.8" y="884.9" width="3" height="3" fill="#3a6ea5"/>
<rect x="963.6" y="911.2" width="3" height="3" fill="#3a6ea5"/>
<rect x="962.0" y="944.0" width="2" height="2" fill="#3a6ea5"/>
<rect x="737.3" y="1167.4" width="2" height="2" fill="#3a6ea5"/>
<rect x="661.3" y="1066.0" width="3" height="3" fill="#3a6ea5"/>
<rect x="730.1" y="833.5" width="2" height="2" fill="#3a6ea5"/>
<rect x="972.1" y="988.3" width="3" height="3" fill="#3a6ea5"/>
<rect x="996.7" y="955.1" width="4" height="4" fill="#3a6ea5"/>
<rect x="691.8" y="1123.9" width="4" height="4" fill="#3a6ea5"/>
<rect x="1007.9" y="1007.8" width="3" height="3" fill="#3a6ea5"/>
<rect x="985.4" y="1047.3" width="3" height="3" fill="#3a6ea5"/>
<rect x="645.6" y="967.9" width="3" height="3" fill="#3a6ea5"/>
<rect x="981.4" y="900.1" width="3" height="3" fill="#3a6ea5"/>
<rect x="912.5" y="1152.8" width="4" height="4" fill="#3a6ea5"/>
<rect x="828.9" y="1184.7" width="3" height="3" fill="#3a6ea5"/>
<rect x="805.4" y="1161.8" width="3" height="3" fill="#3a6ea5"/>
<rect x="665.6" y="900.8" width="2" height="2" fill="#3a6ea5"/>
<rect x="868.5" y="1161.7" width="3" height="3" fill="#3a6ea5"/>
<polygon points="399,1590.6 412.6,1592 427.2,1597.5 441.9,1599.6 452.4,1597.1 469.1,1601.7 492.2,1612.6 515.2,1605.9 544.6,1616.8 567.6,1625.2 578.1,1633.5 584.4,1646.1 584.4,1658.7 582.3,1672.3 594.9,1674.4 602.2,1681.7 601.2,1692.2 588.6,1694.3 578.1,1690.1 525.7,1670.2 462.9,1643 399,1610.5" fill="#2baee0"/>
<polygon points="399,1600 452.4,1611.5 494.3,1626.2 525.7,1632.5 550.9,1641.9 567.6,1650.3 573.9,1665 582.3,1677.5 578.1,1688 563.4,1686.3 525.7,1671.7 483.8,1652.8 441.9,1631.9 399,1610.5" fill="#45d135"/>
<polygon points="500.6,1631.4 525.7,1637.7 546.7,1652.4 567.6,1673.3 563.4,1681.7 525.7,1667.1 504.8,1650.3" fill="#3cc030"/>
<polygon points="517.3,1658.7 546.7,1665 565.5,1677.5 559.2,1682.8 525.7,1670.2" fill="#36a82e"/>
<ellipse cx="639.9" cy="756.1" rx="6.3" ry="3.1" fill="#2a6fa8"/>
<ellipse cx="551.3" cy="866.7" rx="2.9" ry="2.9" fill="#2a6fa8"/>
<ellipse cx="539.3" cy="895.9" rx="3.8" ry="2.9" fill="#2a88be"/>
<ellipse cx="533.1" cy="914.3" rx="2.9" ry="2.1" fill="#2a88be"/>
<ellipse cx="526.8" cy="938.4" rx="3.1" ry="2.1" fill="#2a88be"/>
<ellipse cx="652.5" cy="909.1" rx="2.5" ry="2.5" fill="#2a6fa8"/>
<ellipse cx="641" cy="933.2" rx="1.3" ry="6.3" fill="#2a6fa8"/>
<ellipse cx="699.6" cy="912.2" rx="4.2" ry="2.5" fill="#2a6fa8"/>
<ellipse cx="687.1" cy="930" rx="2.1" ry="2.1" fill="#2a6fa8"/>
<ellipse cx="611.6" cy="987.6" rx="1.5" ry="2.9" fill="#2a6fa8"/>
<ellipse cx="826.2" cy="626.2" rx="4.6" ry="8.4" fill="#2b9fd0"/>
<ellipse cx="852.4" cy="661.8" rx="2.9" ry="8.4" fill="#2a88be"/>
<ellipse cx="956.1" cy="737.2" rx="10.5" ry="2.9" fill="#2a88be" transform="rotate(32 956.1 737.2)"/>
<ellipse cx="809.4" cy="745" rx="8.8" ry="3.4" fill="#2a88be"/>
<ellipse cx="994.4" cy="764.9" rx="5.4" ry="4.6" fill="#2a88be"/>
<ellipse cx="922.6" cy="717.3" rx="3.4" ry="2.9" fill="#2a6fa8"/>
<ellipse cx="1095.4" cy="983.4" rx="2.9" ry="12.6" fill="#2a88be"/>
<ellipse cx="633.6" cy="1271.8" rx="6.3" ry="4.2" fill="#2b9fd0" transform="rotate(25 633.6 1271.8)"/>
<ellipse cx="609.5" cy="1159.7" rx="9.4" ry="3.4" fill="#2a88be" transform="rotate(-38 609.5 1159.7)"/>
<ellipse cx="554" cy="1155.5" rx="12.6" ry="5.9" fill="#2a88be" transform="rotate(-25 554 1155.5)"/>
<ellipse cx="544.6" cy="1165" rx="8.4" ry="6.3" fill="#2b9fd0"/>
<ellipse cx="544.6" cy="1163.3" rx="3.8" ry="2.5" fill="#45d135" transform="rotate(-30 544.6 1163.3)"/>
<ellipse cx="677.6" cy="1237.2" rx="6.3" ry="2.1" fill="#2a88be" transform="rotate(25 677.6 1237.2)"/>
<ellipse cx="628.4" cy="1209" rx="2.1" ry="3.1" fill="#2a6fa8"/>
<ellipse cx="584.4" cy="1379.7" rx="11.5" ry="3.8" fill="#2a88be" transform="rotate(35 584.4 1379.7)"/>
<ellipse cx="670.3" cy="1174.4" rx="4.2" ry="1.7" fill="#2a6fa8" transform="rotate(30 670.3 1174.4)"/>
<ellipse cx="680.8" cy="1179.6" rx="2.5" ry="6.3" fill="#2a6fa8" transform="rotate(20 680.8 1179.6)"/>
<ellipse cx="663" cy="1119.9" rx="3.1" ry="1.3" fill="#2a6fa8" transform="rotate(-50 663 1119.9)"/>
<ellipse cx="631.5" cy="1693.3" rx="8" ry="12.2" fill="#2b9fd0" transform="rotate(8 631.5 1693.3)"/>
<ellipse cx="462.9" cy="1630.4" rx="18.9" ry="5" fill="#e8d83a" transform="rotate(25 462.9 1630.4)"/>
<ellipse cx="454.9" cy="1626.2" rx="7.5" ry="3.8" fill="#d0021b" transform="rotate(28 454.9 1626.2)"/>
<ellipse cx="499.5" cy="1648.2" rx="6.3" ry="1.5" fill="#eaea3a" transform="rotate(20 499.5 1648.2)"/>
<ellipse cx="525.7" cy="1659.3" rx="1" ry="1" fill="#eaea3a"/>
<ellipse cx="1011.3" cy="558" rx="39.3" ry="16.5" fill="#2b9fd0" transform="rotate(10 1011.3 558)"/>
<ellipse cx="981.4" cy="554.9" rx="7.9" ry="9.4" fill="#2b9fd0"/>
<ellipse cx="1038" cy="561.1" rx="11" ry="9.4" fill="#2baee0"/>
<ellipse cx="1003.4" cy="560.4" rx="23.6" ry="14.1" fill="#3cbf33" transform="rotate(5 1003.4 560.4)"/>
<ellipse cx="990.9" cy="560.4" rx="9.4" ry="9.4" fill="#2f9e28"/>
<ellipse cx="1019.1" cy="553.3" rx="11" ry="8.6" fill="#3cbf33"/>
<ellipse cx="1012.1" cy="557.2" rx="10.2" ry="5.5" fill="#e0d83a" transform="rotate(-20 1012.1 557.2)"/>
<ellipse cx="1010.5" cy="576.1" rx="11.8" ry="9.4" fill="#3cbf33"/>
<ellipse cx="1011.3" cy="575" rx="8.6" ry="3.5" fill="#e0d83a" transform="rotate(25 1011.3 575)"/>
<ellipse cx="1041.1" cy="589.4" rx="22" ry="15.7" fill="#2a88be"/>
<ellipse cx="1056.9" cy="603.6" rx="4.7" ry="4.7" fill="#2a88be"/>
<ellipse cx="1058.4" cy="584.7" rx="5.5" ry="5.5" fill="#2a88be"/>
<ellipse cx="1034.1" cy="600.4" rx="18.1" ry="15.7" fill="#45d135"/>
<ellipse cx="1028.6" cy="589.4" rx="9.4" ry="7.9" fill="#3cbf33"/>
<ellipse cx="1031.7" cy="602" rx="9.4" ry="9.1" fill="#e0d83a"/>
<ellipse cx="1033.3" cy="605.5" rx="5.7" ry="4.7" fill="#e8a020"/>
<ellipse cx="1036.4" cy="627.2" rx="16.5" ry="12.3" fill="#2b9fd0"/>
<ellipse cx="1038.3" cy="627.2" rx="12.3" ry="7.9" fill="#45d135" transform="rotate(25 1038.3 627.2)"/>
<ellipse cx="1035.6" cy="627.2" rx="9.1" ry="4.4" fill="#e0d83a" transform="rotate(25 1035.6 627.2)"/>
<ellipse cx="1179.8" cy="499.5" rx="6.3" ry="6.3" fill="#2a88be"/>
<ellipse cx="1176.3" cy="536.8" rx="7.5" ry="7.5" fill="#2b9fd0"/>
<ellipse cx="1200.7" cy="540.7" rx="7.1" ry="7.1" fill="#2b9fd0"/>
<ellipse cx="1195.2" cy="558" rx="12.6" ry="9.4" fill="#2b9fd0"/>
<ellipse cx="1188.9" cy="545.4" rx="12.9" ry="11.8" fill="#3cbf33"/>
<ellipse cx="1188.1" cy="546.2" rx="11.3" ry="5.3" fill="#e0d83a" transform="rotate(40 1188.1 546.2)"/>
<ellipse cx="1193.6" cy="564" rx="5.5" ry="5.5" fill="#45d135"/>
<ellipse cx="1184.2" cy="573.7" rx="6.3" ry="6.3" fill="#2a88be"/>
<ellipse cx="1196.7" cy="574.5" rx="6.3" ry="6.3" fill="#2b9fd0"/>
<ellipse cx="1187.3" cy="587.9" rx="9.4" ry="9.4" fill="#2a88be"/>
<ellipse cx="1181" cy="601.2" rx="17.3" ry="12.6" fill="#2b9fd0"/>
<ellipse cx="1193.6" cy="608.3" rx="4.7" ry="4.7" fill="#2a88be"/>
<ellipse cx="1180.2" cy="612.7" rx="11.3" ry="8.6" fill="#36a82e" transform="rotate(30 1180.2 612.7)"/>
<ellipse cx="1188.6" cy="648.4" rx="5.7" ry="5.7" fill="#2a88be"/>
<ellipse cx="1160.6" cy="658.6" rx="7.9" ry="6.3" fill="#2b9fd0"/>
<ellipse cx="1168.4" cy="653.1" rx="17.3" ry="11.3" fill="#45d135"/>
<ellipse cx="1176.3" cy="657" rx="7.9" ry="7.9" fill="#3cbf33"/>
<ellipse cx="1170" cy="653.1" rx="5.7" ry="5.7" fill="#e0c030"/>
<ellipse cx="1169.2" cy="652.3" rx="2.8" ry="2.8" fill="#e8a020"/>
<ellipse cx="1080.4" cy="701.8" rx="15.7" ry="14.1" fill="#2a88be" transform="rotate(-30 1080.4 701.8)"/>
<ellipse cx="1107.2" cy="719.9" rx="5" ry="4.7" fill="#2a88be"/>
<ellipse cx="1096.9" cy="708.9" rx="17.6" ry="13.8" fill="#45d135"/>
<ellipse cx="1091.4" cy="705.7" rx="7.1" ry="6.3" fill="#36a82e"/>
<ellipse cx="1094.6" cy="710.8" rx="4.4" ry="4.4" fill="#e0d83a"/>
<ellipse cx="1133.9" cy="727.7" rx="20.4" ry="17.6" fill="#2b9fd0"/>
<ellipse cx="1138.6" cy="740.3" rx="7.9" ry="7.9" fill="#2a88be"/>
<ellipse cx="1122.9" cy="729.3" rx="4.4" ry="16.5" fill="#45d135" transform="rotate(-25 1122.9 729.3)"/>
<ellipse cx="957.9" cy="737.2" rx="8.6" ry="2.5" fill="#2a88be" transform="rotate(30 957.9 737.2)"/>
<ellipse cx="994.8" cy="763.9" rx="5.5" ry="4.7" fill="#2a88be"/>
<ellipse cx="1326.6" cy="924.3" rx="5.5" ry="5.3" fill="#2e86c0"/>
<ellipse cx="1321.5" cy="963.2" rx="6.6" ry="6" fill="#2ba3d8"/>
<ellipse cx="1324.7" cy="944.1" rx="17" ry="15.1" fill="#2b9fd0"/>
<path d="M472.3 1188 L498.5 1172.3" fill="none" stroke="#2a88be" stroke-width="8.8" stroke-linecap="round" stroke-linejoin="round"/>
<path d="M472.3 1188 L475.4 1185.9" fill="none" stroke="#2b9fd0" stroke-width="8.4" stroke-linecap="round" stroke-linejoin="round"/>
<path d="M475.4 1183.8 L488 1176.9" fill="none" stroke="#45d135" stroke-width="7.5" stroke-linecap="round" stroke-linejoin="round"/>
<path d="M529.9 1224.7 L546.7 1241.4 L559.2 1253 L573.9 1264.5" fill="none" stroke="#2b9fd0" stroke-width="5" stroke-linecap="round" stroke-linejoin="round"/>
<path d="M573.9 1265.5 L597 1282.3" fill="none" stroke="#36ae2e" stroke-width="5" stroke-linecap="round" stroke-linejoin="round"/>
<path d="M575 1266.2 L582.3 1271.8" fill="none" stroke="#45d135" stroke-width="4.6" stroke-linecap="round" stroke-linejoin="round"/>
<path d="M600.1 1284.4 L604.3 1286.5" fill="none" stroke="#e0a020" stroke-width="5.4" stroke-linecap="round" stroke-linejoin="round"/>
<path d="M606.4 1288 L613.7 1291.7" fill="none" stroke="#e8e83a" stroke-width="5.4" stroke-linecap="round" stroke-linejoin="round"/>
<path d="M616.9 1293.8 L620 1295.5" fill="none" stroke="#45d135" stroke-width="5" stroke-linecap="round" stroke-linejoin="round"/>
<path d="M623.2 1297 L625.2 1298" fill="none" stroke="#2baee0" stroke-width="5" stroke-linecap="round" stroke-linejoin="round"/>
<path d="M628 1299.7 L629.4 1300.5" fill="none" stroke="#45d135" stroke-width="5" stroke-linecap="round" stroke-linejoin="round"/>
<path d="M633 1302.8 L634.7 1303.7" fill="none" stroke="#2b9fd0" stroke-width="5" stroke-linecap="round" stroke-linejoin="round"/>
<path d="M588.6 1212.1 L601.2 1217.3 L617.9 1226.8 L634.7 1237.2 L651.4 1249.8 L672.4 1262.4 L693.3 1268.7 L722.7 1279.2" fill="none" stroke="#2a88be" stroke-width="5" stroke-linecap="round" stroke-linejoin="round"/>
<path d="M680.8 1133.5 L701.7 1145.1" fill="none" stroke="#2a6fa8" stroke-width="1.7" stroke-linecap="round" stroke-linejoin="round"/>
<path d="M701.7 1145.1 L689.2 1168.1" fill="none" stroke="#2a6fa8" stroke-width="1.7" stroke-linecap="round" stroke-linejoin="round"/>
<path d="M1095.4 981.6 L1095.4 1015.1" fill="none" stroke="#2a88be" stroke-width="5.9" stroke-linecap="round" stroke-linejoin="round"/>
<path d="M592.8 1401 L607.4 1409.3" fill="none" stroke="#2a88be" stroke-width="8.4" stroke-linecap="round" stroke-linejoin="round"/>
<circle cx="794.6" cy="272.4" r="7.8" fill="#2b9fd0"/>
<circle cx="794.3" cy="457.2" r="5.9" fill="#2a88be"/>
<circle cx="634.7" cy="501.9" r="5" fill="#2a88be"/>
<circle cx="643.7" cy="499.8" r="5.2" fill="#2a88be"/>
<circle cx="491.1" cy="574.6" r="5.4" fill="#2a88be"/>
<circle cx="505.8" cy="564.5" r="5" fill="#2a88be"/>
<circle cx="514.2" cy="559.5" r="5.4" fill="#2b9fd0"/>
<circle cx="522.6" cy="554.1" r="5.4" fill="#2a88be"/>
<circle cx="528.9" cy="549.9" r="5.2" fill="#2a88be"/>
<circle cx="544.6" cy="541.5" r="5.4" fill="#2baee0"/>
<circle cx="552.5" cy="537.3" r="5" fill="#45d135"/>
<circle cx="560.3" cy="533.1" r="5" fill="#2b9fd0"/>
<circle cx="568.7" cy="528.9" r="5" fill="#45d135"/>
<circle cx="577.1" cy="526" r="3.4" fill="#45d135"/>
<circle cx="575" cy="522.6" r="4.2" fill="#2b9fd0"/>
<circle cx="584.4" cy="520.5" r="5.4" fill="#2b9fd0"/>
<circle cx="593.2" cy="518" r="5" fill="#2a88be"/>
<circle cx="456.6" cy="602.5" r="5.7" fill="#2a88be"/>
<circle cx="1179.7" cy="499.6" r="5.9" fill="#2a88be"/>
<circle cx="222.1" cy="699.9" r="6.9" fill="#2b9fd0"/>
<circle cx="194.9" cy="760.9" r="6.7" fill="#2b9fd0"/>
<circle cx="190.7" cy="771.8" r="6.3" fill="#2e86c0"/>
<circle cx="177.5" cy="813.3" r="6.5" fill="#2b9fd0"/>
<circle cx="164.9" cy="867.8" r="6.7" fill="#2ba0dc"/>
<circle cx="249.3" cy="903.8" r="5.9" fill="#2a88be"/>
<circle cx="1270.6" cy="779.2" r="5.7" fill="#2a88be"/>
<circle cx="1284.2" cy="802.8" r="5.7" fill="#2b9fd0"/>
<circle cx="1293.2" cy="838.9" r="5.2" fill="#2a88be"/>
<circle cx="173.1" cy="1239.8" r="6.9" fill="#2ba3d8"/>
<circle cx="180.8" cy="1249.2" r="6.9" fill="#3cbf33"/>
<circle cx="188" cy="1256.1" r="5.2" fill="#4fe03a"/>
<circle cx="186.5" cy="1271.8" r="3.8" fill="#2ba3d8"/>
<circle cx="185.4" cy="1259.7" r="7.3" fill="#dede3a"/>
<circle cx="191.7" cy="1269.1" r="7.5" fill="#cfc93a"/>
<circle cx="196.5" cy="1280.2" r="7.5" fill="#36ae2e"/>
<circle cx="461.8" cy="1187.6" r="3.8" fill="#2a88be"/>
<circle cx="478.6" cy="1303.7" r="4.6" fill="#2a88be"/>
<circle cx="490.1" cy="1314.4" r="4.6" fill="#2a88be"/>
<circle cx="502.7" cy="1324.2" r="5" fill="#2baee0"/>
<circle cx="509" cy="1329.4" r="4.6" fill="#2baee0"/>
<circle cx="519.4" cy="1339.5" r="4.6" fill="#2a88be"/>
<circle cx="525.7" cy="1344.1" r="4.6" fill="#2b9fd0"/>
<circle cx="532" cy="1349.4" r="4.6" fill="#2a88be"/>
<circle cx="560.9" cy="1333.6" r="4.2" fill="#2a88be"/>
<circle cx="639.9" cy="1290.1" r="3.4" fill="#2a88be"/>
<circle cx="645.2" cy="1308.9" r="2.9" fill="#2a6fa8"/>
<circle cx="580.2" cy="1196" r="3.4" fill="#2a6fa8"/>
<circle cx="636.4" cy="1146.7" r="3.1" fill="#2a6fa8"/>
<circle cx="649.3" cy="1194.9" r="2.5" fill="#2a6fa8"/>
<circle cx="665.1" cy="1180.7" r="2.1" fill="#2a6fa8"/>
<circle cx="611.6" cy="1083.2" r="1.7" fill="#2a6fa8"/>
<circle cx="1089.2" cy="1051.8" r="3.8" fill="#2a88be"/>
<circle cx="1017.9" cy="1016.2" r="1.7" fill="#2a6fa8"/>
<circle cx="1021.1" cy="1033.4" r="2.9" fill="#2a6fa8"/>
<circle cx="1002.2" cy="1023.5" r="2.1" fill="#2a6fa8"/>
<circle cx="284.3" cy="1401" r="7.3" fill="#2b9fd0"/>
<circle cx="291.3" cy="1411.4" r="6.3" fill="#2baee0"/>
<circle cx="303.8" cy="1413.5" r="6.7" fill="#2baee0"/>
<circle cx="296.5" cy="1405.1" r="6.7" fill="#36a82e"/>
<circle cx="363.5" cy="1578" r="5.2" fill="#2baee0"/>
<circle cx="375.1" cy="1586.4" r="6.3" fill="#2baee0"/>
<circle cx="384.5" cy="1593.7" r="5.2" fill="#2baee0"/>
<circle cx="348.2" cy="1558.1" r="7.5" fill="#2a8a22"/>
<circle cx="358.3" cy="1565.4" r="7.5" fill="#eaea3a"/>
<circle cx="366.7" cy="1572.8" r="7.1" fill="#e0e040"/>
<circle cx="371.9" cy="1571.7" r="4.2" fill="#eaea3a"/>
<circle cx="380.3" cy="1579.1" r="6.3" fill="#2a8a22"/>
<circle cx="389.7" cy="1586.4" r="6.7" fill="#eaea3a"/>
<circle cx="396" cy="1602.1" r="3.8" fill="#45d135"/>
<circle cx="398.1" cy="1593.7" r="6.3" fill="#d0021b"/>
<circle cx="476.5" cy="1394.7" r="5.7" fill="#2a88be"/>
<circle cx="454.5" cy="1421.9" r="5.9" fill="#2b9fd0"/>
<circle cx="482.8" cy="1416.7" r="5.9" fill="#2a88be"/>
<circle cx="490.1" cy="1420.9" r="5.9" fill="#2a88be"/>
<circle cx="498.5" cy="1423" r="5.9" fill="#2b9fd0"/>
<circle cx="497.4" cy="1411.4" r="5.2" fill="#45d135"/>
<circle cx="505.8" cy="1415.2" r="5.2" fill="#d8c03a"/>
<circle cx="513.1" cy="1420.2" r="5" fill="#d0021b"/>
<circle cx="520.5" cy="1425.7" r="3.8" fill="#b8d83a"/>
<circle cx="527.8" cy="1430.3" r="4.6" fill="#36a82e"/>
<circle cx="535.1" cy="1435.5" r="5" fill="#2b9fd0"/>
<circle cx="543.5" cy="1438.7" r="5.7" fill="#45d135"/>
<circle cx="470.2" cy="1434.1" r="5.7" fill="#2b9fd0"/>
<circle cx="477.5" cy="1439.3" r="5.9" fill="#45d135"/>
<circle cx="485.9" cy="1445" r="5.7" fill="#2b9fd0"/>
<circle cx="494.3" cy="1450.2" r="5.9" fill="#2b9fd0"/>
<circle cx="502.7" cy="1455.4" r="5.9" fill="#2b9fd0"/>
<circle cx="511.1" cy="1460.7" r="5.9" fill="#45d135"/>
<circle cx="518.4" cy="1465.5" r="5.9" fill="#45d135"/>
<circle cx="463.9" cy="1478.5" r="5.9" fill="#2a88be"/>
<circle cx="470.2" cy="1483.7" r="5.9" fill="#2a88be"/>
<circle cx="441.9" cy="1516.2" r="5.2" fill="#2b9fd0"/>
<circle cx="449.2" cy="1519.3" r="5.2" fill="#2b9fd0"/>
<circle cx="408.8" cy="1480.6" r="5.9" fill="#2a88be"/>
<circle cx="417.8" cy="1487.9" r="6.7" fill="#36a82e"/>
<circle cx="425.1" cy="1494.2" r="6.3" fill="#36a82e"/>
<circle cx="433.5" cy="1501.1" r="5.9" fill="#eaea3a"/>
<circle cx="445" cy="1505.7" r="5.4" fill="#d0021b"/>
<circle cx="452.4" cy="1510.3" r="5.4" fill="#d0021b"/>
<circle cx="461.8" cy="1518.3" r="5.9" fill="#e0e040"/>
<circle cx="472.3" cy="1523.5" r="6.3" fill="#2a8a22"/>
<circle cx="480.7" cy="1529.2" r="5.9" fill="#2b9fd0"/>
<circle cx="490.5" cy="1534.6" r="6.3" fill="#45d135"/>
<circle cx="418.9" cy="1522.5" r="5.9" fill="#2b9fd0"/>
<circle cx="427.2" cy="1530.9" r="6.3" fill="#2b9fd0"/>
<circle cx="408.4" cy="1518.3" r="6.9" fill="#45d135"/>
<circle cx="509" cy="1544.5" r="6.3" fill="#2baee0"/>
<circle cx="520.5" cy="1549.7" r="6.3" fill="#2a88be"/>
<circle cx="491.1" cy="1557.1" r="6.3" fill="#2a88be"/>
<circle cx="511.1" cy="1567.1" r="6.3" fill="#2a88be"/>
<circle cx="531.6" cy="1576.5" r="6.7" fill="#2a88be"/>
<circle cx="584.4" cy="1382.1" r="5.9" fill="#2a88be"/>
<circle cx="571.8" cy="1390.5" r="5.2" fill="#2a6fa8"/>
<circle cx="578.1" cy="1394.7" r="5.2" fill="#2a6fa8"/>
<circle cx="783.4" cy="1591.6" r="5.9" fill="#2a88be"/>
<circle cx="773" cy="1603.2" r="5.9" fill="#36a82e"/>
<circle cx="783.4" cy="1604.2" r="5.9" fill="#36a82e"/>
<circle cx="608.5" cy="1631.4" r="6.7" fill="#2b9fd0"/>
<circle cx="621.1" cy="1632.5" r="8" fill="#2b9fd0"/>
<circle cx="620" cy="1635.2" r="1.3" fill="#45d135"/>
<circle cx="692.3" cy="1707.9" r="7.3" fill="#2b9fd0"/>
<circle cx="707" cy="1700.6" r="7.3" fill="#2b9fd0"/>
<circle cx="704.9" cy="1712.1" r="6.3" fill="#45d135"/>
<circle cx="443" cy="1618.9" r="6.3" fill="#36a82e"/>
<circle cx="431.4" cy="1612.6" r="8" fill="#eaea3a"/>
<circle cx="421" cy="1607.3" r="8" fill="#e08a1a"/>
<circle cx="410.5" cy="1601.1" r="8" fill="#d8c03a"/>
<circle cx="400" cy="1593.7" r="7.3" fill="#d0021b"/>
<polygon points="1317.8,928.3 1335.4,928.3 1335.4,940.9 1317.8,940.9" fill="#45d135"/>
<polygon points="1310.9,939.7 1332.9,939.7 1332.9,958.5 1310.9,958.5" fill="#45d135"/>
<polygon points="1315.3,939.7 1324.7,939.7 1324.7,958.5 1315.3,958.5" fill="#e0d83a"/>
<polygon points="1318.4,947.8 1323.1,947.8 1323.1,958.5 1318.4,958.5" fill="#e8a020"/>
<polygon points="1319,951 1321.9,951 1321.9,953.5 1319,953.5" fill="#e8102a"/>
<g fill="none" stroke="#878787" stroke-width="3.1" stroke-linejoin="round" stroke-linecap="round">
<path d="M21 231 L34.6 220.9"/>
<path d="M192.8 220.9 L246.2 256.5"/>
<path d="M246.2 231 L247.2 256.5 L248.3 295.9 L248.3 361.9"/>
<path d="M246.2 231 L317.4 229.9 L317.4 220.9"/>
<path d="M248.3 295.9 L366.7 296.3 L366.7 286.5 L375.1 292.8 L385.5 287.5 L391.8 290.7 L400 292.8"/>
<path d="M248.3 361.9 L148.8 364.6 L149.8 419.5 L150.9 502.3"/>
<path d="M136.2 503.8 L150.9 502.3 L203.2 501.3 L203.2 492.9 L260.9 492.9 L260.9 497.5 L280.8 497.5 L281.8 555.7 L333.2 556.8 L355.2 555.3 L373 570.4"/>
<path d="M136.2 503.8 L137.2 570.4"/>
<path d="M399 292.3 L418.9 299.1 L425.1 306.4 L425.1 319 L429.3 329.4 L440.9 337.8 L458.7 346.2 L477.5 348.3 L488 352.5"/>
<path d="M1470.3 497.1 L1474.5 492.9 L1478.7 496 L1483.9 489.7 L1489.2 487.6 L1495.4 491.8 L1501.7 489.7 L1505.9 497.1 L1511.2 500.2 L1516.4 495 L1520.6 493.9 L1525.8 488.7 L1530 485.5 L1533.2 491.8 L1537.3 492.9 L1537.3 483.4 L1569.8 489.7"/>
<path d="M18.9 717.3 L69.1 716.3 L70.2 721.5 L84.9 721.5 L84.9 738.3 L79.6 739.3 L79.6 749.8"/>
<path d="M79.6 739.3 L145.6 737.9"/>
<path d="M145.6 709 L146.7 813.7 L150.9 822.1 L159.2 825.2 L167.6 825.2 L172.9 823.2 L173.9 829.4 L182.3 837.8 L192.8 843.1 L199.1 851.4 L206.4 858.8 L209.5 870.3 L215.8 879.7 L206.4 891.3 L204.3 903.8"/>
<path d="M145.6 709 L150.9 707.9 L157.2 706.4 L162.4 711.1 L224.2 648.2"/>
<path d="M79.6 749.8 L124.7 792.8 L81.7 837.8 L52.4 869.3 L46.1 864 L34.6 878.7 L38.8 881.8 L18.9 901.7"/>
<path d="M79.6 749.8 L40.9 790.7 L39.8 778.1 L25.1 779.2 L26.2 795.9 L18.9 795.9"/>
<path d="M81.7 837.8 L104.8 860.9 L100.6 860.9 L109 865.1 L114.2 878.7 L120.5 885 L125.7 880.8 L142.5 897.5 L176 927.9 L172.9 940.5 L165.5 943.6"/>
<path d="M142.5 897.5 L100.6 941.5 L82.8 924.8 L69.1 937.3 L18.9 938.4"/>
<path d="M331.1 879.7 L347.8 902.8 L340.5 902.8 L339.4 914.3 L343.6 920.6"/>
<path d="M234.7 926.9 L233.6 939.4 L246.2 943.6 L248.3 954.1 L257.7 956.2 L270.3 952 L280.8 945.7 L293.3 940.5 L294.4 931.1 L301.7 922.7 L320.6 916.4 L333.2 914.3 L343.6 920.6 L356.2 926.9 L373 931.1 L383.4 929 L401.3 918.1"/>
<path d="M248.3 954.1 L242 962.5 L239.9 977.2 L235.7 989.7 L243.1 986.6 L251.4 991.8 L258.8 1001.3"/>
<path d="M235.7 989.7 L220 996 L212.7 1001.3"/>
<path d="M397.9 918.5 L446.1 916 L478.6 927.9 L492.2 945.7 L471.2 971.9 L462.9 977.2 L458.7 989.7 L444 1001.3"/>
<path d="M478.6 927.9 L492.2 916.4 L517.3 916.4 L519.4 899.6 L506.9 902.8 L502.7 897.5"/>
<path d="M492.2 945.7 L509 952 L523.6 948.9 L534.1 945.7 L538.3 952 L536.2 973 L550.9 974 L550.9 983.4 L571.8 985.5 L569.7 991.8 L572.9 1001.3"/>
<path d="M627.3 923.7 L623.2 952 L611.6 968.8 L607.4 977.2 L597 983.4 L581.2 1001.3"/>
<path d="M668.2 938.4 L676.6 947.8 L674.5 954.1 L657.7 964.6 L638.9 981.4 L616.9 1001.3"/>
<path d="M1110.1 931.1 L1107 941.5 L1116.4 947.8 L1116.4 960.4 L1110.1 973 L1112.2 979.3 L1135.3 983.4 L1147.8 983.4 L1156.2 991.8 L1174 1001.3"/>
<path d="M1201.3 953.7 L1181.4 966.7 L1185.5 979.3 L1156.2 991.8"/>
<path d="M1423.2 666 L1461.9 765.5"/>
<path d="M1569.8 671.7 L1543.6 685.9 L1535.3 693.2 L1499.6 723.6 L1505.9 733.1 L1491.3 746.7 L1492.3 754 L1477.6 761.3 L1461.9 765.5 L1463 770.8 L1450.4 775 L1445.2 760.3 L1433.6 762.4 L1442 797 L1432.6 800.1 L1424.2 786.5 L1413.7 780.2 L1401.2 778.1 L1392.8 775 L1388.6 779.2 L1394.9 782.3 L1394.9 797 L1384.4 804.3 L1367.6 815.8 L1361.3 807.4 L1355.1 802.2 L1327.8 801.2 L1313.1 800.1 L1304.8 788.6 L1302.7 780.2 L1295.3 777.1"/>
<path d="M1477.6 761.3 L1499.6 814.8 L1512.2 814.8 L1514.3 826.3 L1508 843.1 L1501.7 855.6 L1502.8 868.2"/>
<path d="M1327.8 801.2 L1326.8 839.9 L1338.3 854.6 L1376 908 L1380.2 902.8 L1409.5 914.3 L1413.7 887.1 L1407.4 868.2 L1450.4 853.5 L1444.1 838.9 L1478.7 838.9 L1472.4 853.5 L1480.8 866.1 L1485 876.6 L1502.8 873.4 L1554.1 864 L1562.5 889.2 L1569.8 914.3"/>
<path d="M1316.3 843.1 L1315.2 874.5 L1294.3 886 L1273.3 897.5 L1267.1 914.3 L1250.3 915.3 L1223 912.2 L1206.3 902.8 L1199 878.7"/>
<path d="M1271.2 920.6 L1199 963.5"/>
<path d="M1250.3 937.3 L1265 939.4 L1273.3 952 L1285.9 956.2 L1277.5 970.9 L1302.7 991.8 L1304.8 1001.3"/>
<path d="M1302.7 993.9 L1334.1 992.9 L1341.4 1001.3"/>
<path d="M1380.2 902.8 L1380.2 939.4 L1392.8 956.2 L1399.1 968.8 L1394.9 987.6 L1397 1001.3"/>
<path d="M194.9 1006.8 L209.5 1004.7 L220 997.3 L236.8 991 L248.3 989"/>
<path d="M247.2 989 L259.8 1002.6 L259.8 1025.6 L276.6 1022.5 L277.6 1028.8 L290.2 1030.9 L291.3 1039.2 L299.6 1040.3 L301.7 1047.6 L324.8 1049.7 L323.7 1071.7 L343.6 1071.7 L343.6 1088.5 L349.9 1103.1"/>
<path d="M401.3 1014.7 L385.5 1027.7 L368.8 1040.3 L349.9 1051.8 L364.6 1063.3 L377.2 1064.4 L391.8 1062.3 L401.3 1058.7"/>
<path d="M391.8 1062.3 L396 1073.8 L393.9 1085.3 L381.4 1088.5 L349.9 1103.1 L333.2 1113.6 L320.6 1118.9 L310.1 1119.9 L301.7 1112.6 L280.8 1117.8 L264 1124.1 L247.2 1136.7 L230.5 1149.2 L215.8 1157.6 L197 1166 L188.6 1178.6 L173.9 1182.8 L159.2 1189.1 L144.6 1191.2 L134.1 1197.4 L136.2 1210 L132 1216.3 L144.6 1222.6 L156.1 1227.8 L169.7 1221.5 L184.4 1217.3 L186.5 1210 L195.9 1205.8 L213.7 1240.4 L215.8 1256.1 L231.5 1262.4 L232.6 1268.7 L228.4 1275 L243.1 1291.7"/>
<path d="M117.3 1192.2 L123.6 1199.5 L131 1197.4 L132 1187 L142.5 1184.9"/>
<path d="M301.7 1112.6 L341.5 1162.9 L332.1 1171.2 L346.8 1193.2 L401.3 1163.5"/>
<path d="M346.8 1193.2 L312.2 1225.7 L293.3 1240.4 L278.7 1251.9 L264 1270.8 L243.1 1291.7 L230.5 1308.5 L230.5 1320 L209.5 1333.6 L188.6 1342 L176 1358.8 L165.5 1375.5 L154 1391.3"/>
<path d="M312.2 1225.7 L349.9 1276 L293.3 1321.1 L293.3 1333.6 L297.5 1346.2 L280.8 1363 L280.8 1373.4 L294.4 1391.3"/>
<path d="M401.3 1366.7 L373 1377.6 L355.2 1391.3"/>
<path d="M316.4 1373.4 L336.3 1391.3"/>
<path d="M399 1016.6 L416.8 1009.9 L435.6 1001.5 L459.7 989"/>
<path d="M567.6 989 L569.7 999.4 L580.2 999.4 L589.6 989"/>
<path d="M629.4 989 L609.5 1005.7 L593.8 1014.1 L567.6 1039.2 L546.7 1063.3 L529.9 1090.6 L510 1109.4 L483.8 1119.9 L465 1123.1 L439.8 1129.3 L421 1149.2 L399 1165.6"/>
<path d="M399 1058.1 L412.6 1056 L434.6 1061.2 L414.7 1077 L416.8 1087.4 L431.4 1087.4 L435.6 1104.2 L445 1108.4 L460.8 1100 L467.1 1122"/>
<path d="M510 1109.4 L556.1 1166 L542.5 1175.4 L564.5 1205.8 L544.6 1224.7 L556.1 1243.5 L555.1 1254 L546.7 1260.3 L555.1 1266.6 L554 1279.2 L537.2 1291.7 L549.8 1304.3 L561.3 1323.2"/>
<path d="M556.1 1251.9 L573.9 1243.5 L592.8 1235.2 L607.4 1220.5 L613.7 1207.9 L614.8 1191.2 L625.2 1172.3 L626.3 1159.7 L620 1145.1 L623.2 1132.5 L631.5 1119.9 L636.8 1099 L649.3 1086.4 L668.2 1073.8 L689.2 1052.9 L690.2 1036.1 L708 1017.2 L714.3 1002.6 L740.5 989"/>
<path d="M399 1369.7 L412.6 1360.9 L441.9 1365.1 L469.1 1358.8 L513.1 1344.1 L561.3 1323.2 L620 1317.9 L651.4 1313.7 L680.8 1291.7 L726.9 1249.8 L756.2 1222.6 L783.4 1199.5 L801.3 1175.4"/>
<path d="M783.4 1199.5 L801.3 1206.2"/>
<path d="M680.8 1291.7 L688.1 1304.3 L693.3 1316.9 L697.5 1335.7 L694.4 1356.7 L695.4 1391.3"/>
<path d="M799 1175.4 L812.6 1147.2 L833.5 1119.9 L852.4 1094.8 L860.8 1067.5 L909 1099 L921.5 1078 L928.9 1082.2 L946.7 1096.9 L950.9 1082.2 L963.4 1075.9 L969.7 1059.1 L978.1 1052.9 L980.2 1041.3 L988.6 1045.5 L1003.2 1050.8 L1009.5 1062.3 L1017.9 1061.2 L1036.8 1068.6 L1047.2 1080.1 L1061.9 1088.5 L1074.5 1085.3 L1088.1 1105.2 L1087.1 1119.9 L1082.9 1128.3"/>
<path d="M1087.1 1119.9 L1101.7 1105.2"/>
<path d="M799 1205.8 L837.7 1209 L838.8 1205.8 L855.5 1207.9 L856.6 1218.4 L875.4 1220.5 L885.9 1234.1 L892.2 1235.2 L891.1 1244.6 L895.3 1251.9 L885.9 1260.3 L884.9 1266.6 L869.1 1289.6 L869.1 1298 L858.7 1304.3 L850.3 1308.5 L846.1 1321.1 L850.3 1329.4 L845 1337.8 L854.5 1350.4 L848.2 1358.8 L836.7 1373.4 L839.8 1383.9 L837.7 1391.3"/>
<path d="M884.9 1266.6 L898.5 1264.5 L917.3 1268.7 L929.9 1283.3 L936.2 1295.9 L934.1 1319 L938.3 1331.5 L912.1 1356.7 L923.6 1358.8 L923.6 1373.4 L946.7 1386 L961.3 1387.1"/>
<path d="M1154.1 989 L1156.2 996.3 L1168.8 998.4 L1167.7 1016.2 L1201.3 1020.4"/>
<path d="M1097.5 1036.1 L1114.3 1031.9 L1119.5 1016.2 L1126.9 1023.5 L1135.3 1022.5 L1143.6 1033 L1154.1 1034 L1154.1 1021.4 L1167.7 1016.2"/>
<path d="M1201.3 1040.3 L1195 1040.3 L1163.5 1099 L1180.3 1101.1 L1185.5 1132.5 L1177.2 1157.6 L1175.1 1161.8"/>
<path d="M1199 1021.4 L1205.2 1021.4 L1204.2 1039.2"/>
<path d="M1199 1039.2 L1246.1 1045.5 L1254.5 1047.6 L1267.1 1029.8 L1272.3 1034 L1297.4 1031.9 L1298.5 1019.3 L1304.8 1018.3 L1303.7 994.2 L1300.6 989"/>
<path d="M1303.7 994.2 L1332 992.1 L1342.5 1004.7 L1348.8 1021.4 L1357.2 1038.2 L1363.4 1042.4"/>
<path d="M1246.1 1045.5 L1257.6 1090.6"/>
<path d="M106.9 1390.5 L132 1395.7 L132 1403 L146.7 1407.2 L173.9 1411.4 L188.6 1421.9 L232.6 1449.1 L266.1 1480.6"/>
<path d="M163.9 1379 L146.7 1407.2"/>
<path d="M401.3 1379.6 L377.2 1382.1 L366.7 1384.2 L356.2 1392.6 L354.1 1407.2 L343.6 1419.8 L333.2 1433.4 L314.3 1438.7 L295.4 1438.7 L285 1459.6 L274.5 1468 L266.1 1480.6 L247.2 1493.1 L236.8 1507.8 L228.4 1526.7 L215.8 1541.3 L207.4 1551.8 L201.2 1568.6 L188.6 1579.1 L190.7 1591.6 L184.4 1606.3 L173.9 1625.2 L190.7 1629.3 L186.5 1652.4 L226.3 1662.9 L232.6 1683.8 L236.8 1715.3 L245.2 1727.8 L232.6 1748.8 L226.3 1757.2"/>
<path d="M173.9 1625.2 L169.7 1628.3 L157.2 1648.2 L146.7 1653.4 L129.9 1667.1 L125.7 1681.7 L109 1702.7 L104.8 1715.3 L83.8 1725.7 L62.9 1736.2 L41.9 1746.7 L21 1753"/>
<path d="M266.1 1480.6 L278.7 1482.7 L287.1 1494.2 L301.7 1503.6 L312.2 1520.4 L329 1528.8 L337.3 1545.5 L354.1 1549.7 L373 1570.7 L385.5 1589.5 L401.3 1609.4"/>
<path d="M77.5 1494.2 L81.7 1500.5 L88 1489 L102.7 1484.8 L109 1494.2 L138.3 1497.3 L140.4 1489 L163.4 1493.1 L209.5 1505.7 L190.7 1528.8 L185.4 1543.4 L189.6 1553.9 L201.2 1548.7 L207.4 1551.8"/>
<path d="M282.9 1379 L289.2 1388.4 L299.6 1389.4 L315.3 1379"/>
<path d="M319.5 1379 L354.1 1407.2"/>
<path d="M144.6 1757.2 L167.6 1750.9 L180.2 1742.5 L188.6 1725.7 L205.3 1706.9"/>
<path d="M230.5 1757.2 L251.4 1750.9 L272.4 1748.8 L280.8 1757.2"/>
<path d="M695.4 1379 L695.4 1392.6 L691.3 1405.1 L680.8 1424 L668.2 1440.8 L651.4 1459.6 L634.7 1474.3 L622.1 1480.6 L613.7 1491.1 L607.4 1503.6 L597 1512 L592.8 1522.5 L584.4 1535.1 L582.3 1547.6 L578.1 1560.2 L572.9 1572.8 L578.1 1579.1 L586.5 1587.4 L588.6 1600 L587.5 1610.5 L594.9 1615.7 L591.7 1627.2 L594.9 1639.8 L592.8 1656.6 L584.4 1669.2 L584.4 1681.7 L578.1 1692.2 L567.6 1694.3 L569.7 1700.6 L565.5 1709 L563.4 1717.3 L546.7 1723.6 L540.4 1732 L544.6 1742.5 L546.7 1753 L538.3 1757.2"/>
<path d="M592.8 1522.5 L603.2 1524.6 L617.9 1539.2 L630.5 1541.3 L643.1 1540.3 L661.9 1545.5 L705.9 1545.5 L716.4 1549.7 L739.4 1541.3 L741.5 1537.2 L762.5 1529.8 L768.8 1531.9 L786.6 1529.8 L790.8 1547.6 L789.7 1564.4 L792.9 1572.8 L789.7 1581.2 L790.8 1593.7 L788.7 1606.3 L786.6 1616.8 L789.7 1627.2 L796 1631.4"/>
<path d="M399 1613.2 L412.6 1615.7 L421 1624.1 L437.7 1628.3 L448.2 1633.5 L462.9 1646.1 L477.5 1650.3 L481.7 1660.8 L487 1669.2 L488 1679.6 L498.5 1694.3 L504.8 1702.7 L519.4 1709 L528.9 1716.3 L540.4 1706.9 L553 1707.9 L561.3 1713.2"/>
<path d="M427.2 1757.2 L441.9 1750.9 L454.5 1748.8 L469.1 1750.9 L479.6 1757.2"/>
<path d="M837.7 1379 L836.7 1398.9 L841.9 1415.6 L847.1 1430.3 L850.3 1449.1 L860.8 1461.7 L865 1474.3 L871.2 1484.8 L866 1494.2 L871.2 1500.5"/>
<path d="M932 1379 L946.7 1386.3 L957.2 1387.3"/>
</g>
<g fill="none" stroke="#c8c8c8" stroke-width="2.6" stroke-linejoin="round" stroke-linecap="round">
<path d="M1502.8 221.5 L1493.3 233 L1487.1 247.7 L1488.1 264.5 L1493.3 277.1 L1490.2 294.9 L1498.6 308.1"/>
<path d="M379.3 627.2 L388.7 638.8 L380.3 651.3"/>
</g>
<g fill="none" stroke="#cfcfcf" stroke-width="3" stroke-linejoin="round" stroke-linecap="round" transform="translate(-2,-1.5)">
<path d="M18.9 554.7 C21.4 554.3 26.2 551.1 31.4 552.6 C36.6 554.1 39.1 561.2 45 562 C50.9 562.8 55.6 559.3 60.8 556.8 C66.0 554.3 68.1 551.7 71.2 549.4 C74.3 547.1 73.8 546.1 76.5 545.3 C79.2 544.5 81.8 543.6 84.9 545.3 C88.0 547.0 87.4 549.0 92.2 553.6 C97.0 558.2 104.0 565.8 109 568.3 C114.0 570.8 113.3 566.0 117.3 566.2 C121.3 566.4 123.9 567.3 128.9 569.4 C133.9 571.5 138.1 572.3 142.5 576.7 C146.9 581.1 147.1 586.8 150.9 591.4 C154.7 596.0 157.1 597.6 161.3 599.7 C165.5 601.8 169.1 599.7 171.8 601.8 C174.5 603.9 174.4 608.4 175 610"/>
<path d="M385.5 499.2 L400 511.7"/>
<path d="M400 523.3 C397.5 524.1 390.5 524.7 387.6 527.4 C384.7 530.1 385.3 532.9 385.5 536.9 C385.7 540.9 389.1 542.7 388.7 547.3 C388.3 551.9 386.8 556.1 383.4 559.9 C380.0 563.7 374.8 562.8 371.9 566.2 C369.0 569.6 368.2 572.5 368.8 576.7 C369.4 580.9 372.4 583.9 375.1 587.2 C377.8 590.5 382.4 591.1 382.4 593.4 C382.4 595.7 378.5 597.2 375.1 598.7 C371.7 600.2 366.9 598.5 365.6 600.8 C364.3 603.1 368.2 608.2 368.8 610"/>
<path d="M542.5 221.5 C545.0 222.3 550.5 223.0 555.1 225.7 C559.7 228.4 562.2 230.7 565.5 235.1 C568.8 239.5 571.0 242.2 571.8 247.7 C572.6 253.2 571.2 257.8 569.7 262.4 C568.2 267.0 564.7 267.0 564.5 270.8 C564.3 274.6 569.1 277.6 568.7 281.2 C568.3 284.8 564.9 286.3 562.4 288.6 C559.9 290.9 558.4 289.5 556.1 292.8 C553.8 296.1 554.3 304.3 550.9 305.3 C547.5 306.3 542.7 299.0 539.3 298 C535.9 297.0 534.5 296.7 534.1 300.1 C533.7 303.5 537.8 310.8 537.2 314.8 C536.6 318.8 534.8 320.0 531 320 C527.2 320.0 522.4 314.4 518.4 314.8 C514.4 315.2 513.6 318.3 511.1 322.1 C508.6 325.9 504.1 330.7 505.8 333.6 C507.5 336.5 517.7 334.7 519.4 336.8 C521.1 338.9 517.5 340.5 514.2 344.1 C510.9 347.7 507.7 352.9 502.7 354.6 C497.7 356.3 491.2 350.8 489.1 352.5 C487.0 354.2 489.9 359.0 492.2 363 C494.5 367.0 500.6 368.6 500.6 372.4 C500.6 376.2 496.2 378.9 492.2 381.8 C488.2 384.7 484.1 384.6 480.7 387.1 C477.3 389.6 474.6 391.5 475.4 394.4 C476.2 397.3 483.4 398.6 484.9 401.7 C486.4 404.8 485.5 407.2 482.8 410.1 C480.1 413.0 474.3 413.5 471.2 416.4 C468.1 419.3 465.6 422.1 467.1 424.8 C468.6 427.5 475.5 426.4 478.6 430 C481.7 433.6 484.3 440.3 482.8 442.6 C481.3 444.9 475.8 440.5 471.2 441.5 C466.6 442.5 463.9 444.4 459.7 447.8 C455.5 451.2 455.1 454.5 450.3 458.3 C445.5 462.1 441.9 463.6 435.6 466.7 C429.3 469.8 424.8 471.3 418.9 474 C413.0 476.7 409.7 475.7 406.3 480.3 C402.9 484.9 403.8 491.2 402.1 497.1 C400.4 503.0 400.0 506.7 397.9 509.6 C395.8 512.5 392.9 511.3 391.6 511.7"/>
<path d="M1498.6 308.1 C1500.5 307.5 1504.9 304.4 1508 305.3 C1511.1 306.2 1511.2 311.7 1513.9 312.7 C1516.6 313.7 1517.7 308.5 1521.6 310.2 C1525.5 311.9 1530.0 316.6 1533.2 321.1 C1536.4 325.6 1535.9 329.7 1537.8 332.6 C1539.7 335.5 1541.4 337.2 1542.6 335.7 C1543.8 334.2 1541.3 328.8 1543.6 325.2 C1545.9 321.6 1551.6 321.5 1554.1 317.9 C1556.6 314.3 1554.3 310.1 1556.2 307.4 C1558.1 304.7 1560.8 304.1 1563.5 304.3 C1566.2 304.5 1568.5 307.7 1569.8 308.5"/>
<path d="M1498.6 308.1 C1497.3 309.0 1492.9 309.5 1492.3 312.7 C1491.7 315.9 1496.0 321.3 1495.4 324.2 C1494.8 327.1 1493.0 327.3 1489.2 327.3 C1485.4 327.3 1480.4 323.4 1476.6 324.2 C1472.8 325.0 1470.7 327.5 1470.3 331.5 C1469.9 335.5 1472.6 339.1 1474.5 344.1 C1476.4 349.1 1478.0 351.7 1479.7 356.7 C1481.4 361.7 1480.4 364.6 1482.9 369.2 C1485.4 373.8 1490.6 375.5 1492.3 379.7 C1494.0 383.9 1492.8 386.0 1491.3 390.2 C1489.8 394.4 1487.1 396.1 1485 400.7 C1482.9 405.3 1480.8 408.2 1480.8 413.2 C1480.8 418.2 1484.8 421.4 1485 425.8 C1485.2 430.2 1484.7 433.7 1481.8 435.2 C1478.9 436.7 1474.1 432.4 1470.3 433.2 C1466.5 434.0 1464.3 435.8 1463 439.4 C1461.7 443.0 1462.5 446.2 1464 451 C1465.5 455.8 1468.4 458.9 1470.3 463.5 C1472.2 468.1 1473.6 470.2 1473.4 474 C1473.2 477.8 1471.4 479.3 1469.3 482.4 C1467.2 485.5 1463.4 486.1 1463 489.7 C1462.6 493.3 1464.1 496.6 1467.2 500.2 C1470.3 503.8 1476.2 504.4 1478.7 507.5 C1481.2 510.6 1481.2 513.0 1479.7 515.9 C1478.2 518.8 1474.9 519.7 1471.3 522.2 C1467.7 524.7 1463.8 525.6 1461.9 528.5 C1460.0 531.4 1460.2 534.0 1461.9 536.9 C1463.6 539.8 1468.8 540.3 1470.3 543.2 C1471.8 546.1 1471.2 547.7 1469.3 551.5 C1467.4 555.3 1463.6 557.8 1460.9 562 C1458.2 566.2 1457.1 567.5 1455.6 572.5 C1454.1 577.5 1455.2 581.8 1453.5 587.2 C1451.8 592.6 1450.5 595.5 1447.2 599.7 C1443.9 603.9 1439.3 606.0 1436.8 608.1 C1434.3 610.2 1435.1 609.6 1434.7 610"/>
<path d="M165.5 600 C167.2 601.3 171.8 603.2 173.9 606.3 C176.0 609.4 173.1 613.2 176 615.7 C178.9 618.2 184.4 617.8 188.6 618.9 C192.8 620.0 193.9 618.5 197 621 C200.1 623.5 202.2 627.2 204.3 631.4 C206.4 635.6 204.7 639.2 207.4 641.9 C210.1 644.6 214.3 645.0 217.9 645 C221.5 645.0 223.3 640.2 225.2 641.9 C227.1 643.6 225.0 649.4 227.3 653.4 C229.6 657.4 232.8 659.1 236.8 661.8 C240.8 664.5 242.6 664.2 247.2 667.1 C251.8 670.0 256.4 672.5 259.8 676.5 C263.2 680.5 261.1 683.4 264 687 C266.9 690.6 270.3 691.6 274.5 694.3 C278.7 697.0 281.6 696.8 285 700.6 C288.4 704.4 288.0 709.1 291.3 713.1 C294.6 717.1 297.1 718.4 301.7 720.5 C306.3 722.6 310.5 720.9 314.3 723.6 C318.1 726.3 318.5 731.4 320.6 734.1 C322.7 736.8 324.0 736.6 324.8 737.2"/>
<path d="M368.8 600 C370.1 601.7 374.9 604.2 375.1 608.4 C375.3 612.6 369.4 616.8 369.8 621 C370.2 625.2 375.3 625.5 377.2 629.3 C379.1 633.1 379.7 635.6 379.3 639.8 C378.9 644.0 374.7 646.9 375.1 650.3 C375.5 653.7 382.7 655.1 381.4 656.6 C380.1 658.1 373.2 656.3 368.8 657.6 C364.4 658.9 360.5 659.3 359.4 662.9 C358.3 666.5 362.9 669.5 363.5 675.4 C364.1 681.3 364.8 687.8 362.5 692.2 C360.2 696.6 354.7 694.0 352 697.4 C349.3 700.8 351.4 705.6 348.9 709 C346.4 712.4 342.5 711.7 339.4 714.2 C336.3 716.7 333.2 718.8 333.2 721.5 C333.2 724.2 337.9 724.9 339.4 727.8 C340.9 730.7 343.4 734.3 340.5 736.2 C337.6 738.1 331.3 735.1 324.8 737.2 C318.3 739.3 314.3 742.9 308 746.7 C301.7 750.5 296.9 752.3 293.3 756.1 C289.7 759.9 289.4 761.1 290.2 765.5 C291.0 769.9 297.5 774.7 297.5 778.1 C297.5 781.5 293.5 781.0 290.2 782.3 C286.9 783.6 281.6 781.5 280.8 784.4 C280.0 787.3 286.2 793.6 286 797 C285.8 800.4 282.8 802.0 279.7 801.2 C276.6 800.4 272.8 793.2 270.3 792.8 C267.8 792.4 267.2 795.3 267.2 799.1 C267.2 802.9 270.5 807.8 270.3 811.6 C270.1 815.4 270.1 816.2 266.1 817.9 C262.1 819.6 255.6 817.9 250.4 820 C245.2 822.1 242.6 824.2 239.9 828.4 C237.2 832.6 236.2 836.4 236.8 841 C237.4 845.6 239.3 847.8 243.1 851.4 C246.9 855.0 252.5 855.0 255.6 858.8 C258.7 862.6 259.2 865.7 258.8 870.3 C258.4 874.9 255.0 877.8 253.5 881.8 C252.0 885.8 256.0 885.8 251.4 890.2 C246.8 894.6 238.0 899.8 230.5 903.8 C223.0 907.8 219.6 908.0 213.7 910.1 C207.8 912.2 205.4 910.9 201.2 914.3 C197.0 917.7 196.0 921.7 192.8 926.9 C189.6 932.1 188.8 936.3 185.4 940.5 C182.0 944.7 178.7 944.2 176 947.8 C173.3 951.4 171.8 952.8 171.8 958.3 C171.8 963.8 176.0 969.2 176 975.1 C176.0 981.0 171.4 983.0 171.8 987.6 C172.2 992.2 175.6 995.4 178.1 998.1 C180.6 1000.8 183.1 1000.7 184.4 1001.3"/>
<path d="M397.9 871.3 C400.8 871.1 408.0 871.1 412.6 870.3 C417.2 869.5 416.4 867.8 421 867.2 C425.6 866.6 429.7 866.0 435.6 867.2 C441.5 868.4 444.8 873.0 450.3 873.4 C455.8 873.8 457.5 869.3 462.9 869.3 C468.3 869.3 472.5 870.9 477.5 873.4 C482.5 875.9 484.2 878.2 488 881.8 C491.8 885.4 492.2 889.0 496.4 891.3 C500.6 893.6 503.6 893.3 509 893.3 C514.4 893.3 518.6 891.9 523.6 891.3 C528.6 890.7 529.9 889.0 534.1 890.2 C538.3 891.4 540.4 894.1 544.6 897.5 C548.8 900.9 550.5 904.5 555.1 907 C559.7 909.5 563.0 909.1 567.6 910.1 C572.2 911.1 572.6 910.9 578.1 912.2 C583.6 913.5 591.5 915.6 594.9 916.4"/>
<path d="M1060 891.3 C1061.6 891.7 1064.5 892.3 1068.2 893.3 C1071.9 894.3 1075.6 894.6 1078.7 896.5 C1081.8 898.4 1081.0 899.7 1083.9 902.8 C1086.8 905.9 1089.7 908.6 1093.3 912.2 C1096.9 915.8 1097.5 917.2 1101.7 920.6 C1105.9 924.0 1108.4 927.1 1114.3 929 C1120.2 930.9 1125.2 932.5 1131.1 930 C1137.0 927.5 1138.6 920.8 1143.6 916.4 C1148.6 912.0 1150.7 910.9 1156.2 908 C1161.7 905.1 1165.5 904.6 1170.9 901.7 C1176.3 898.8 1179.6 897.1 1183.4 893.3 C1187.2 889.5 1189.5 887.5 1189.7 882.9 C1189.9 878.3 1185.8 874.5 1184.5 870.3 C1183.2 866.1 1185.3 865.3 1183.4 861.9 C1181.5 858.5 1178.2 857.3 1175.1 853.5 C1172.0 849.7 1167.7 846.9 1167.7 843.1 C1167.7 839.3 1171.3 837.2 1175.1 834.7 C1178.9 832.2 1184.7 833.4 1186.6 830.5 C1188.5 827.6 1183.9 823.4 1184.5 820 C1185.1 816.6 1186.3 814.5 1189.7 813.7 C1193.1 812.9 1199.0 815.4 1201.3 815.8"/>
<path d="M1436.8 599 C1434.7 601.7 1429.7 606.5 1426.3 612.6 C1422.9 618.7 1420.0 623.9 1420 629.3 C1420.0 634.7 1424.8 635.2 1426.3 639.8 C1427.8 644.4 1429.0 647.4 1427.3 652.4 C1425.6 657.4 1421.0 661.7 1417.9 665 C1414.8 668.3 1414.9 669.3 1411.6 669.1 C1408.3 668.9 1406.2 664.3 1401.2 663.9 C1396.2 663.5 1391.3 664.4 1386.5 667.1 C1381.7 669.8 1378.8 672.5 1377.1 677.5 C1375.4 682.5 1379.2 686.7 1378.1 692.2 C1377.0 697.7 1375.6 701.4 1371.8 704.8 C1368.0 708.2 1364.6 707.7 1359.2 709 C1353.8 710.3 1350.0 708.6 1344.6 711.1 C1339.2 713.6 1337.0 717.7 1332 721.5 C1327.0 725.3 1323.2 725.7 1319.4 729.9 C1315.6 734.1 1313.1 737.5 1313.1 742.5 C1313.1 747.5 1319.4 750.9 1319.4 755.1 C1319.4 759.3 1317.3 760.9 1313.1 763.4 C1308.9 765.9 1303.5 767.2 1298.5 767.6 C1293.5 768.0 1292.6 767.4 1288 765.5 C1283.4 763.6 1280.8 758.2 1275.4 758.2 C1270.0 758.2 1267.1 763.6 1260.8 765.5 C1254.5 767.4 1249.9 765.5 1244 767.6 C1238.1 769.7 1235.6 772.2 1231.4 776 C1227.2 779.8 1225.5 781.9 1223 786.5 C1220.5 791.1 1219.5 794.1 1218.9 799.1 C1218.3 804.1 1221.6 808.0 1219.9 811.6 C1218.2 815.2 1214.7 816.3 1210.5 816.9 C1206.3 817.5 1201.3 815.2 1199 814.8"/>
<path d="M1569.8 922.7 C1568.3 922.3 1564.8 919.3 1562.5 920.6 C1560.2 921.9 1558.7 924.8 1558.3 929 C1557.9 933.2 1561.2 938.6 1560.4 941.5 C1559.6 944.4 1557.0 945.3 1554.1 943.6 C1551.2 941.9 1549.1 937.4 1545.7 933.2 C1542.3 929.0 1541.1 924.4 1537.3 922.7 C1533.5 921.0 1530.7 923.1 1526.9 924.8 C1523.1 926.5 1519.3 928.2 1518.5 931.1 C1517.7 934.0 1521.7 936.5 1522.7 939.4 C1523.7 942.3 1525.4 944.0 1523.7 945.7 C1522.0 947.4 1518.7 945.7 1514.3 947.8 C1509.9 949.9 1505.9 956.2 1501.7 956.2 C1497.5 956.2 1496.2 951.2 1493.3 947.8 C1490.4 944.4 1490.0 940.2 1487.1 939.4 C1484.2 938.6 1481.6 940.7 1478.7 943.6 C1475.8 946.5 1474.5 949.9 1472.4 954.1 C1470.3 958.3 1470.5 964.2 1468.2 964.6 C1465.9 965.0 1463.4 958.7 1460.9 956.2 C1458.4 953.7 1457.5 951.2 1455.6 952 C1453.7 952.8 1451.8 956.2 1451.4 960.4 C1451.0 964.6 1454.3 969.6 1453.5 973 C1452.7 976.4 1450.5 976.8 1447.2 977.2 C1443.9 977.6 1441.0 975.1 1436.8 975.1 C1432.6 975.1 1429.7 978.5 1426.3 977.2 C1422.9 975.9 1422.1 972.2 1420 968.8 C1417.9 965.4 1417.9 961.2 1415.8 960.4 C1413.7 959.6 1411.6 961.2 1409.5 964.6 C1407.4 968.0 1407.0 972.6 1405.3 977.2 C1403.6 981.8 1404.5 983.8 1401.2 987.6 C1397.9 991.4 1392.6 993.3 1388.6 996 C1384.6 998.7 1382.7 1000.2 1381.2 1001.3"/>
<path d="M171.8 989 C173.9 990.9 178.7 994.4 182.3 998.4 C185.9 1002.4 187.5 1003.5 189.6 1008.9 C191.7 1014.3 191.7 1017.6 192.8 1025.6 C193.9 1033.6 195.7 1039.9 194.9 1048.7 C194.1 1057.5 190.7 1062.1 188.6 1069.6 C186.5 1077.1 184.6 1079.7 184.4 1086.4 C184.2 1093.1 186.7 1097.7 187.5 1103.1 C188.3 1108.5 189.6 1109.4 188.6 1113.6 C187.6 1117.8 184.0 1118.6 182.3 1124.1 C180.6 1129.6 183.1 1135.5 180.2 1140.9 C177.3 1146.3 172.2 1146.7 167.6 1151.3 C163.0 1155.9 160.5 1160.1 157.2 1163.9 C153.9 1167.7 154.7 1168.9 150.9 1170.2 C147.1 1171.5 144.2 1170.8 138.3 1170.2 C132.4 1169.6 126.1 1166.3 121.5 1167.1 C116.9 1167.9 116.9 1170.0 115.2 1174.4 C113.5 1178.8 114.8 1184.1 113.1 1189.1 C111.4 1194.1 108.1 1194.1 106.9 1199.5 C105.7 1204.9 106.1 1208.8 106.9 1216.3 C107.7 1223.8 109.0 1231.3 111.1 1237.2 C113.2 1243.1 116.1 1240.6 117.3 1245.6 C118.5 1250.6 117.7 1256.9 117.3 1262.4 C116.9 1267.9 113.9 1268.7 115.2 1272.9 C116.5 1277.1 121.1 1279.1 123.6 1283.3 C126.1 1287.5 128.6 1289.6 127.8 1293.8 C127.0 1298.0 122.3 1299.3 119.4 1304.3 C116.5 1309.3 114.8 1314.0 113.1 1319 C111.4 1324.0 111.1 1324.4 111.1 1329.4 C111.1 1334.4 111.4 1339.5 113.1 1344.1 C114.8 1348.7 119.4 1347.9 119.4 1352.5 C119.4 1357.1 116.0 1360.9 113.1 1367.2 C110.2 1373.5 107.4 1379.1 104.8 1383.9 C102.2 1388.7 101.1 1389.8 100.2 1391.3"/>
<path d="M18.9 1127.2 L173.9 1124.1 L172.9 1136.7 L178.1 1140.9"/>
<path d="M1201.3 1150.3 C1199.4 1153.0 1195.4 1159.1 1191.8 1163.9 C1188.2 1168.7 1186.7 1173.1 1183.4 1174.4 C1180.1 1175.7 1177.6 1172.7 1175.1 1170.2 C1172.6 1167.7 1173.0 1162.2 1170.9 1161.8 C1168.8 1161.4 1166.7 1164.3 1164.6 1168.1 C1162.5 1171.9 1164.6 1176.5 1160.4 1180.7 C1156.2 1184.9 1150.3 1186.0 1143.6 1189.1 C1136.9 1192.2 1132.3 1193.5 1126.9 1196.4 C1121.5 1199.3 1118.5 1200.6 1116.4 1203.7 C1114.3 1206.8 1113.5 1208.7 1116.4 1212.1 C1119.3 1215.5 1125.2 1217.6 1131.1 1220.5 C1137.0 1223.4 1141.9 1223.9 1145.7 1226.8 C1149.5 1229.7 1149.9 1230.6 1149.9 1235.2 C1149.9 1239.8 1147.8 1243.9 1145.7 1249.8 C1143.6 1255.7 1141.9 1263.2 1139.4 1264.5 C1136.9 1265.8 1135.3 1259.9 1133.2 1256.1 C1131.1 1252.3 1132.8 1248.1 1129 1245.6 C1125.2 1243.1 1121.4 1244.5 1114.3 1243.5 C1107.2 1242.5 1099.6 1239.6 1093.3 1240.4 C1087.0 1241.2 1085.8 1243.7 1082.9 1247.7 C1080.0 1251.7 1078.7 1254.8 1078.7 1260.3 C1078.7 1265.8 1082.9 1270.4 1082.9 1275 C1082.9 1279.6 1083.3 1280.8 1078.7 1283.3 C1074.1 1285.8 1066.5 1285.4 1059.8 1287.5 C1053.1 1289.6 1049.4 1290.0 1045.2 1293.8 C1041.0 1297.6 1038.5 1301.8 1038.9 1306.4 C1039.3 1311.0 1045.3 1312.7 1047.2 1316.9 C1049.1 1321.1 1050.4 1323.5 1048.3 1327.3 C1046.2 1331.1 1041.6 1331.9 1036.8 1335.7 C1032.0 1339.5 1029.7 1341.2 1024.2 1346.2 C1018.7 1351.2 1014.1 1355.9 1009.5 1360.9 C1004.9 1365.9 1005.0 1367.2 1001.2 1371.4 C997.4 1375.6 996.2 1379.1 990.7 1381.8 C985.2 1384.5 980.0 1383.1 973.9 1385 C967.8 1386.9 963.0 1390.0 960.3 1391.3"/>
<path d="M1406.4 989 C1404.9 990.5 1402.7 994.8 1399.1 996.3 C1395.5 997.8 1391.5 994.6 1388.6 996.3 C1385.7 998.0 1384.8 1000.1 1384.4 1004.7 C1384.0 1009.3 1386.9 1013.9 1386.5 1019.3 C1386.1 1024.7 1385.2 1027.3 1382.3 1031.9 C1379.4 1036.5 1376.0 1039.5 1371.8 1042.4 C1367.6 1045.3 1365.1 1044.5 1361.3 1046.6 C1357.5 1048.7 1355.9 1052.1 1353 1052.9 C1350.1 1053.7 1349.6 1052.5 1346.7 1050.8 C1343.8 1049.1 1341.7 1044.9 1338.3 1044.5 C1334.9 1044.1 1330.7 1046.2 1329.9 1048.7 C1329.1 1051.2 1331.2 1054.2 1334.1 1057.1 C1337.0 1060.0 1342.1 1060.4 1344.6 1063.3 C1347.1 1066.2 1348.8 1070.4 1346.7 1071.7 C1344.6 1073.0 1338.3 1070.0 1334.1 1069.6 C1329.9 1069.2 1329.1 1068.3 1325.7 1069.6 C1322.3 1070.9 1319.8 1072.8 1317.3 1075.9 C1314.8 1079.0 1315.6 1084.9 1313.1 1085.3 C1310.6 1085.7 1308.6 1080.7 1304.8 1078 C1301.0 1075.3 1298.5 1071.3 1294.3 1071.7 C1290.1 1072.1 1288.0 1075.9 1283.8 1080.1 C1279.6 1084.3 1277.1 1089.3 1273.3 1092.7 C1269.5 1096.1 1268.8 1096.1 1265 1096.9 C1261.2 1097.7 1257.4 1094.8 1254.5 1096.9 C1251.6 1099.0 1253.7 1104.0 1250.3 1107.3 C1246.9 1110.6 1239.8 1109.8 1237.7 1113.6 C1235.6 1117.4 1240.2 1122.0 1239.8 1126.2 C1239.4 1130.4 1238.5 1131.7 1235.6 1134.6 C1232.7 1137.5 1228.9 1137.1 1225.1 1140.9 C1221.3 1144.7 1220.1 1151.7 1216.8 1153.4 C1213.5 1155.1 1212.0 1149.5 1208.4 1149.2 C1204.8 1148.9 1200.9 1151.3 1199 1151.8"/>
<path d="M109.4 1379 C107.2 1381.7 101.3 1387.8 98.5 1392.6 C95.7 1397.4 95.7 1397.6 95.3 1403 C94.9 1408.4 97.0 1413.5 96.4 1419.8 C95.8 1426.1 94.7 1429.0 92.2 1434.5 C89.7 1440.0 86.1 1441.7 83.8 1447.1 C81.5 1452.5 80.3 1455.8 80.7 1461.7 C81.1 1467.6 86.1 1470.9 85.9 1476.4 C85.7 1481.9 83.4 1484.4 79.6 1489 C75.8 1493.6 72.1 1496.5 67.1 1499.4 C62.1 1502.3 59.5 1502.1 54.5 1503.6 C49.5 1505.1 45.7 1503.9 41.9 1506.8 C38.1 1509.7 38.5 1513.1 35.6 1518.3 C32.7 1523.5 29.5 1527.6 27.2 1533 C24.9 1538.4 25.8 1542.9 24.1 1545.5 C22.4 1548.1 19.9 1545.9 18.9 1546"/>
<path d="M801.3 1626.8 C797.3 1629.4 787.9 1634.7 781.4 1639.8 C774.9 1644.9 773.4 1647.4 768.8 1652.4 C764.2 1657.4 760.8 1660.0 758.3 1665 C755.8 1670.0 758.7 1673.3 756.2 1677.5 C753.7 1681.7 749.9 1680.9 745.7 1685.9 C741.5 1690.9 739.9 1696.8 735.3 1702.7 C730.7 1708.6 728.2 1710.7 722.7 1715.3 C717.2 1719.9 713.9 1723.0 708 1725.7 C702.1 1728.4 699.2 1727.6 693.3 1728.9 C687.4 1730.2 684.1 1729.7 678.7 1732 C673.3 1734.3 670.7 1736.2 666.1 1740.4 C661.5 1744.6 658.7 1749.2 655.6 1753 C652.5 1756.8 651.4 1758.0 650.4 1759.3"/>
<path d="M998 1379 C996.1 1380.0 993.8 1383.0 988.6 1384.2 C983.4 1385.4 977.3 1384.2 971.8 1385.2 C966.3 1386.2 964.2 1386.7 961.3 1389.4 C958.4 1392.1 957.8 1393.2 957.2 1398.9 C956.6 1404.6 958.6 1411.8 958.2 1417.7 C957.8 1423.6 957.8 1424.4 955.1 1428.2 C952.4 1432.0 949.6 1433.2 944.6 1436.6 C939.6 1440.0 934.1 1441.2 929.9 1445 C925.7 1448.8 924.9 1451.6 923.6 1455.4 C922.3 1459.2 922.8 1460.9 923.6 1463.8 C924.4 1466.7 927.8 1466.3 927.8 1470.1 C927.8 1473.9 925.7 1478.9 923.6 1482.7 C921.5 1486.5 923.2 1486.9 917.3 1489 C911.4 1491.1 901.4 1490.8 894.3 1493.1 C887.2 1495.4 886.3 1498.8 881.7 1500.5 C877.1 1502.2 874.3 1499.4 871.2 1501.5 C868.1 1503.6 868.5 1506.8 866 1511 C863.5 1515.2 861.6 1518.1 858.7 1522.5 C855.8 1526.9 853.0 1528.4 851.3 1533 C849.6 1537.6 850.3 1541.7 850.3 1545.5 C850.3 1549.3 852.4 1547.6 851.3 1551.8 C850.2 1556.0 848.1 1560.2 845 1566.5 C841.9 1572.8 840.4 1579.0 835.6 1583.2 C830.8 1587.4 825.4 1584.9 821 1587.4 C816.6 1589.9 815.3 1591.6 813.6 1595.8 C811.9 1600.0 814.3 1604.2 812.6 1608.4 C810.9 1612.6 807.9 1612.8 805.2 1616.8 C802.5 1620.8 800.2 1626.0 799 1628.3"/>
<path d="M251.4 890.2 C255.2 888.3 262.7 884.4 270.3 880.8 C277.9 877.2 282.1 873.7 289.2 872.4 C296.3 871.1 299.6 873.5 305.9 874.5 C312.2 875.5 314.7 878.0 320.6 877.6 C326.5 877.2 328.2 874.3 335.3 872.4 C342.4 870.5 347.8 868.8 356.2 868.2 C364.6 867.6 368.2 868.7 377.2 869.3 C386.2 869.9 396.5 870.9 401.3 871.3"/>
<path d="M594 917.8 C595.2 918.0 594.0 919.2 600 919 C606.0 918.8 615.4 916.8 624.1 916.6 C632.8 916.4 636.2 915.4 643.4 917.8 C650.6 920.2 653.0 924.4 660.2 928.7 C667.4 933.0 670.3 935.9 679.5 939.5 C688.7 943.1 696.8 946.0 706 946.7 C715.2 947.4 717.6 944.8 725.3 943.1 C733.0 941.4 738.8 941.2 744.6 938.3 C750.4 935.4 749.4 932.2 754.2 928.7 C759.0 925.2 762.9 922.4 768.7 921 C774.5 919.6 777.8 920.4 783.1 921.9 C788.4 923.4 790.4 925.2 795.2 928.7 C800.0 932.2 801.9 935.4 807.2 939.5 C812.5 943.6 817.1 947.0 821.7 949.2 C826.3 951.4 827.9 953.1 830.1 950.4 C832.3 947.7 830.3 939.5 832.5 935.9 C834.7 932.3 836.4 933.5 841 932.3 C845.6 931.1 850.1 931.3 855.4 929.9 C860.7 928.5 862.7 925.3 867.5 925.1 C872.3 924.9 875.2 925.6 879.5 928.7 C883.8 931.8 885.8 935.4 889.2 940.7 C892.6 946.0 892.6 949.4 896.4 955.2 C900.2 961.0 903.6 964.5 908.4 969.6 C913.2 974.7 915.2 978.1 920.5 980.5 C925.8 982.9 930.1 983.4 934.9 981.7 C939.7 980.0 942.2 977.8 944.6 972 C947.0 966.2 943.6 959.5 947 952.8 C950.4 946.1 958.0 945.1 961.4 938.3 C964.8 931.5 961.0 924.8 963.9 919 C966.8 913.2 969.6 913.7 975.9 909.4 C982.2 905.1 988.5 902.1 995.2 897.3 C1001.9 892.5 1002.9 888.4 1009.6 885.3 C1016.3 882.2 1022.1 881.2 1028.9 881.7 C1035.7 882.2 1037.2 885.8 1043.4 887.7 C1049.6 889.6 1056.7 890.6 1060 891.3"/>
<path d="M754.2 950.4 L768.7 960 L778.3 969.6 L790.4 976.9"/>
<path d="M529.5 889.9 C532.8 891.4 539.9 894.1 546.2 897.2 C552.5 900.3 553.7 902.7 560.8 905.6 C567.9 908.5 573.3 909.7 581.7 911.8 C590.1 913.9 593.8 915.0 602.6 916 C611.4 917.0 617.2 916.6 625.5 917 C633.8 917.4 640.5 917.9 644.3 918.1"/>
</g>
<g fill="none" stroke="#fff" stroke-width="6.1" stroke-linejoin="round" stroke-linecap="round">
<path d="M18.9 554.7 C21.4 554.3 26.2 551.1 31.4 552.6 C36.6 554.1 39.1 561.2 45 562 C50.9 562.8 55.6 559.3 60.8 556.8 C66.0 554.3 68.1 551.7 71.2 549.4 C74.3 547.1 73.8 546.1 76.5 545.3 C79.2 544.5 81.8 543.6 84.9 545.3 C88.0 547.0 87.4 549.0 92.2 553.6 C97.0 558.2 104.0 565.8 109 568.3 C114.0 570.8 113.3 566.0 117.3 566.2 C121.3 566.4 123.9 567.3 128.9 569.4 C133.9 571.5 138.1 572.3 142.5 576.7 C146.9 581.1 147.1 586.8 150.9 591.4 C154.7 596.0 157.1 597.6 161.3 599.7 C165.5 601.8 169.1 599.7 171.8 601.8 C174.5 603.9 174.4 608.4 175 610"/>
<path d="M385.5 499.2 L400 511.7"/>
<path d="M400 523.3 C397.5 524.1 390.5 524.7 387.6 527.4 C384.7 530.1 385.3 532.9 385.5 536.9 C385.7 540.9 389.1 542.7 388.7 547.3 C388.3 551.9 386.8 556.1 383.4 559.9 C380.0 563.7 374.8 562.8 371.9 566.2 C369.0 569.6 368.2 572.5 368.8 576.7 C369.4 580.9 372.4 583.9 375.1 587.2 C377.8 590.5 382.4 591.1 382.4 593.4 C382.4 595.7 378.5 597.2 375.1 598.7 C371.7 600.2 366.9 598.5 365.6 600.8 C364.3 603.1 368.2 608.2 368.8 610"/>
<path d="M542.5 221.5 C545.0 222.3 550.5 223.0 555.1 225.7 C559.7 228.4 562.2 230.7 565.5 235.1 C568.8 239.5 571.0 242.2 571.8 247.7 C572.6 253.2 571.2 257.8 569.7 262.4 C568.2 267.0 564.7 267.0 564.5 270.8 C564.3 274.6 569.1 277.6 568.7 281.2 C568.3 284.8 564.9 286.3 562.4 288.6 C559.9 290.9 558.4 289.5 556.1 292.8 C553.8 296.1 554.3 304.3 550.9 305.3 C547.5 306.3 542.7 299.0 539.3 298 C535.9 297.0 534.5 296.7 534.1 300.1 C533.7 303.5 537.8 310.8 537.2 314.8 C536.6 318.8 534.8 320.0 531 320 C527.2 320.0 522.4 314.4 518.4 314.8 C514.4 315.2 513.6 318.3 511.1 322.1 C508.6 325.9 504.1 330.7 505.8 333.6 C507.5 336.5 517.7 334.7 519.4 336.8 C521.1 338.9 517.5 340.5 514.2 344.1 C510.9 347.7 507.7 352.9 502.7 354.6 C497.7 356.3 491.2 350.8 489.1 352.5 C487.0 354.2 489.9 359.0 492.2 363 C494.5 367.0 500.6 368.6 500.6 372.4 C500.6 376.2 496.2 378.9 492.2 381.8 C488.2 384.7 484.1 384.6 480.7 387.1 C477.3 389.6 474.6 391.5 475.4 394.4 C476.2 397.3 483.4 398.6 484.9 401.7 C486.4 404.8 485.5 407.2 482.8 410.1 C480.1 413.0 474.3 413.5 471.2 416.4 C468.1 419.3 465.6 422.1 467.1 424.8 C468.6 427.5 475.5 426.4 478.6 430 C481.7 433.6 484.3 440.3 482.8 442.6 C481.3 444.9 475.8 440.5 471.2 441.5 C466.6 442.5 463.9 444.4 459.7 447.8 C455.5 451.2 455.1 454.5 450.3 458.3 C445.5 462.1 441.9 463.6 435.6 466.7 C429.3 469.8 424.8 471.3 418.9 474 C413.0 476.7 409.7 475.7 406.3 480.3 C402.9 484.9 403.8 491.2 402.1 497.1 C400.4 503.0 400.0 506.7 397.9 509.6 C395.8 512.5 392.9 511.3 391.6 511.7"/>
<path d="M1498.6 308.1 C1500.5 307.5 1504.9 304.4 1508 305.3 C1511.1 306.2 1511.2 311.7 1513.9 312.7 C1516.6 313.7 1517.7 308.5 1521.6 310.2 C1525.5 311.9 1530.0 316.6 1533.2 321.1 C1536.4 325.6 1535.9 329.7 1537.8 332.6 C1539.7 335.5 1541.4 337.2 1542.6 335.7 C1543.8 334.2 1541.3 328.8 1543.6 325.2 C1545.9 321.6 1551.6 321.5 1554.1 317.9 C1556.6 314.3 1554.3 310.1 1556.2 307.4 C1558.1 304.7 1560.8 304.1 1563.5 304.3 C1566.2 304.5 1568.5 307.7 1569.8 308.5"/>
<path d="M1498.6 308.1 C1497.3 309.0 1492.9 309.5 1492.3 312.7 C1491.7 315.9 1496.0 321.3 1495.4 324.2 C1494.8 327.1 1493.0 327.3 1489.2 327.3 C1485.4 327.3 1480.4 323.4 1476.6 324.2 C1472.8 325.0 1470.7 327.5 1470.3 331.5 C1469.9 335.5 1472.6 339.1 1474.5 344.1 C1476.4 349.1 1478.0 351.7 1479.7 356.7 C1481.4 361.7 1480.4 364.6 1482.9 369.2 C1485.4 373.8 1490.6 375.5 1492.3 379.7 C1494.0 383.9 1492.8 386.0 1491.3 390.2 C1489.8 394.4 1487.1 396.1 1485 400.7 C1482.9 405.3 1480.8 408.2 1480.8 413.2 C1480.8 418.2 1484.8 421.4 1485 425.8 C1485.2 430.2 1484.7 433.7 1481.8 435.2 C1478.9 436.7 1474.1 432.4 1470.3 433.2 C1466.5 434.0 1464.3 435.8 1463 439.4 C1461.7 443.0 1462.5 446.2 1464 451 C1465.5 455.8 1468.4 458.9 1470.3 463.5 C1472.2 468.1 1473.6 470.2 1473.4 474 C1473.2 477.8 1471.4 479.3 1469.3 482.4 C1467.2 485.5 1463.4 486.1 1463 489.7 C1462.6 493.3 1464.1 496.6 1467.2 500.2 C1470.3 503.8 1476.2 504.4 1478.7 507.5 C1481.2 510.6 1481.2 513.0 1479.7 515.9 C1478.2 518.8 1474.9 519.7 1471.3 522.2 C1467.7 524.7 1463.8 525.6 1461.9 528.5 C1460.0 531.4 1460.2 534.0 1461.9 536.9 C1463.6 539.8 1468.8 540.3 1470.3 543.2 C1471.8 546.1 1471.2 547.7 1469.3 551.5 C1467.4 555.3 1463.6 557.8 1460.9 562 C1458.2 566.2 1457.1 567.5 1455.6 572.5 C1454.1 577.5 1455.2 581.8 1453.5 587.2 C1451.8 592.6 1450.5 595.5 1447.2 599.7 C1443.9 603.9 1439.3 606.0 1436.8 608.1 C1434.3 610.2 1435.1 609.6 1434.7 610"/>
<path d="M165.5 600 C167.2 601.3 171.8 603.2 173.9 606.3 C176.0 609.4 173.1 613.2 176 615.7 C178.9 618.2 184.4 617.8 188.6 618.9 C192.8 620.0 193.9 618.5 197 621 C200.1 623.5 202.2 627.2 204.3 631.4 C206.4 635.6 204.7 639.2 207.4 641.9 C210.1 644.6 214.3 645.0 217.9 645 C221.5 645.0 223.3 640.2 225.2 641.9 C227.1 643.6 225.0 649.4 227.3 653.4 C229.6 657.4 232.8 659.1 236.8 661.8 C240.8 664.5 242.6 664.2 247.2 667.1 C251.8 670.0 256.4 672.5 259.8 676.5 C263.2 680.5 261.1 683.4 264 687 C266.9 690.6 270.3 691.6 274.5 694.3 C278.7 697.0 281.6 696.8 285 700.6 C288.4 704.4 288.0 709.1 291.3 713.1 C294.6 717.1 297.1 718.4 301.7 720.5 C306.3 722.6 310.5 720.9 314.3 723.6 C318.1 726.3 318.5 731.4 320.6 734.1 C322.7 736.8 324.0 736.6 324.8 737.2"/>
<path d="M368.8 600 C370.1 601.7 374.9 604.2 375.1 608.4 C375.3 612.6 369.4 616.8 369.8 621 C370.2 625.2 375.3 625.5 377.2 629.3 C379.1 633.1 379.7 635.6 379.3 639.8 C378.9 644.0 374.7 646.9 375.1 650.3 C375.5 653.7 382.7 655.1 381.4 656.6 C380.1 658.1 373.2 656.3 368.8 657.6 C364.4 658.9 360.5 659.3 359.4 662.9 C358.3 666.5 362.9 669.5 363.5 675.4 C364.1 681.3 364.8 687.8 362.5 692.2 C360.2 696.6 354.7 694.0 352 697.4 C349.3 700.8 351.4 705.6 348.9 709 C346.4 712.4 342.5 711.7 339.4 714.2 C336.3 716.7 333.2 718.8 333.2 721.5 C333.2 724.2 337.9 724.9 339.4 727.8 C340.9 730.7 343.4 734.3 340.5 736.2 C337.6 738.1 331.3 735.1 324.8 737.2 C318.3 739.3 314.3 742.9 308 746.7 C301.7 750.5 296.9 752.3 293.3 756.1 C289.7 759.9 289.4 761.1 290.2 765.5 C291.0 769.9 297.5 774.7 297.5 778.1 C297.5 781.5 293.5 781.0 290.2 782.3 C286.9 783.6 281.6 781.5 280.8 784.4 C280.0 787.3 286.2 793.6 286 797 C285.8 800.4 282.8 802.0 279.7 801.2 C276.6 800.4 272.8 793.2 270.3 792.8 C267.8 792.4 267.2 795.3 267.2 799.1 C267.2 802.9 270.5 807.8 270.3 811.6 C270.1 815.4 270.1 816.2 266.1 817.9 C262.1 819.6 255.6 817.9 250.4 820 C245.2 822.1 242.6 824.2 239.9 828.4 C237.2 832.6 236.2 836.4 236.8 841 C237.4 845.6 239.3 847.8 243.1 851.4 C246.9 855.0 252.5 855.0 255.6 858.8 C258.7 862.6 259.2 865.7 258.8 870.3 C258.4 874.9 255.0 877.8 253.5 881.8 C252.0 885.8 256.0 885.8 251.4 890.2 C246.8 894.6 238.0 899.8 230.5 903.8 C223.0 907.8 219.6 908.0 213.7 910.1 C207.8 912.2 205.4 910.9 201.2 914.3 C197.0 917.7 196.0 921.7 192.8 926.9 C189.6 932.1 188.8 936.3 185.4 940.5 C182.0 944.7 178.7 944.2 176 947.8 C173.3 951.4 171.8 952.8 171.8 958.3 C171.8 963.8 176.0 969.2 176 975.1 C176.0 981.0 171.4 983.0 171.8 987.6 C172.2 992.2 175.6 995.4 178.1 998.1 C180.6 1000.8 183.1 1000.7 184.4 1001.3"/>
<path d="M397.9 871.3 C400.8 871.1 408.0 871.1 412.6 870.3 C417.2 869.5 416.4 867.8 421 867.2 C425.6 866.6 429.7 866.0 435.6 867.2 C441.5 868.4 444.8 873.0 450.3 873.4 C455.8 873.8 457.5 869.3 462.9 869.3 C468.3 869.3 472.5 870.9 477.5 873.4 C482.5 875.9 484.2 878.2 488 881.8 C491.8 885.4 492.2 889.0 496.4 891.3 C500.6 893.6 503.6 893.3 509 893.3 C514.4 893.3 518.6 891.9 523.6 891.3 C528.6 890.7 529.9 889.0 534.1 890.2 C538.3 891.4 540.4 894.1 544.6 897.5 C548.8 900.9 550.5 904.5 555.1 907 C559.7 909.5 563.0 909.1 567.6 910.1 C572.2 911.1 572.6 910.9 578.1 912.2 C583.6 913.5 591.5 915.6 594.9 916.4"/>
<path d="M1060 891.3 C1061.6 891.7 1064.5 892.3 1068.2 893.3 C1071.9 894.3 1075.6 894.6 1078.7 896.5 C1081.8 898.4 1081.0 899.7 1083.9 902.8 C1086.8 905.9 1089.7 908.6 1093.3 912.2 C1096.9 915.8 1097.5 917.2 1101.7 920.6 C1105.9 924.0 1108.4 927.1 1114.3 929 C1120.2 930.9 1125.2 932.5 1131.1 930 C1137.0 927.5 1138.6 920.8 1143.6 916.4 C1148.6 912.0 1150.7 910.9 1156.2 908 C1161.7 905.1 1165.5 904.6 1170.9 901.7 C1176.3 898.8 1179.6 897.1 1183.4 893.3 C1187.2 889.5 1189.5 887.5 1189.7 882.9 C1189.9 878.3 1185.8 874.5 1184.5 870.3 C1183.2 866.1 1185.3 865.3 1183.4 861.9 C1181.5 858.5 1178.2 857.3 1175.1 853.5 C1172.0 849.7 1167.7 846.9 1167.7 843.1 C1167.7 839.3 1171.3 837.2 1175.1 834.7 C1178.9 832.2 1184.7 833.4 1186.6 830.5 C1188.5 827.6 1183.9 823.4 1184.5 820 C1185.1 816.6 1186.3 814.5 1189.7 813.7 C1193.1 812.9 1199.0 815.4 1201.3 815.8"/>
<path d="M1436.8 599 C1434.7 601.7 1429.7 606.5 1426.3 612.6 C1422.9 618.7 1420.0 623.9 1420 629.3 C1420.0 634.7 1424.8 635.2 1426.3 639.8 C1427.8 644.4 1429.0 647.4 1427.3 652.4 C1425.6 657.4 1421.0 661.7 1417.9 665 C1414.8 668.3 1414.9 669.3 1411.6 669.1 C1408.3 668.9 1406.2 664.3 1401.2 663.9 C1396.2 663.5 1391.3 664.4 1386.5 667.1 C1381.7 669.8 1378.8 672.5 1377.1 677.5 C1375.4 682.5 1379.2 686.7 1378.1 692.2 C1377.0 697.7 1375.6 701.4 1371.8 704.8 C1368.0 708.2 1364.6 707.7 1359.2 709 C1353.8 710.3 1350.0 708.6 1344.6 711.1 C1339.2 713.6 1337.0 717.7 1332 721.5 C1327.0 725.3 1323.2 725.7 1319.4 729.9 C1315.6 734.1 1313.1 737.5 1313.1 742.5 C1313.1 747.5 1319.4 750.9 1319.4 755.1 C1319.4 759.3 1317.3 760.9 1313.1 763.4 C1308.9 765.9 1303.5 767.2 1298.5 767.6 C1293.5 768.0 1292.6 767.4 1288 765.5 C1283.4 763.6 1280.8 758.2 1275.4 758.2 C1270.0 758.2 1267.1 763.6 1260.8 765.5 C1254.5 767.4 1249.9 765.5 1244 767.6 C1238.1 769.7 1235.6 772.2 1231.4 776 C1227.2 779.8 1225.5 781.9 1223 786.5 C1220.5 791.1 1219.5 794.1 1218.9 799.1 C1218.3 804.1 1221.6 808.0 1219.9 811.6 C1218.2 815.2 1214.7 816.3 1210.5 816.9 C1206.3 817.5 1201.3 815.2 1199 814.8"/>
<path d="M1569.8 922.7 C1568.3 922.3 1564.8 919.3 1562.5 920.6 C1560.2 921.9 1558.7 924.8 1558.3 929 C1557.9 933.2 1561.2 938.6 1560.4 941.5 C1559.6 944.4 1557.0 945.3 1554.1 943.6 C1551.2 941.9 1549.1 937.4 1545.7 933.2 C1542.3 929.0 1541.1 924.4 1537.3 922.7 C1533.5 921.0 1530.7 923.1 1526.9 924.8 C1523.1 926.5 1519.3 928.2 1518.5 931.1 C1517.7 934.0 1521.7 936.5 1522.7 939.4 C1523.7 942.3 1525.4 944.0 1523.7 945.7 C1522.0 947.4 1518.7 945.7 1514.3 947.8 C1509.9 949.9 1505.9 956.2 1501.7 956.2 C1497.5 956.2 1496.2 951.2 1493.3 947.8 C1490.4 944.4 1490.0 940.2 1487.1 939.4 C1484.2 938.6 1481.6 940.7 1478.7 943.6 C1475.8 946.5 1474.5 949.9 1472.4 954.1 C1470.3 958.3 1470.5 964.2 1468.2 964.6 C1465.9 965.0 1463.4 958.7 1460.9 956.2 C1458.4 953.7 1457.5 951.2 1455.6 952 C1453.7 952.8 1451.8 956.2 1451.4 960.4 C1451.0 964.6 1454.3 969.6 1453.5 973 C1452.7 976.4 1450.5 976.8 1447.2 977.2 C1443.9 977.6 1441.0 975.1 1436.8 975.1 C1432.6 975.1 1429.7 978.5 1426.3 977.2 C1422.9 975.9 1422.1 972.2 1420 968.8 C1417.9 965.4 1417.9 961.2 1415.8 960.4 C1413.7 959.6 1411.6 961.2 1409.5 964.6 C1407.4 968.0 1407.0 972.6 1405.3 977.2 C1403.6 981.8 1404.5 983.8 1401.2 987.6 C1397.9 991.4 1392.6 993.3 1388.6 996 C1384.6 998.7 1382.7 1000.2 1381.2 1001.3"/>
<path d="M171.8 989 C173.9 990.9 178.7 994.4 182.3 998.4 C185.9 1002.4 187.5 1003.5 189.6 1008.9 C191.7 1014.3 191.7 1017.6 192.8 1025.6 C193.9 1033.6 195.7 1039.9 194.9 1048.7 C194.1 1057.5 190.7 1062.1 188.6 1069.6 C186.5 1077.1 184.6 1079.7 184.4 1086.4 C184.2 1093.1 186.7 1097.7 187.5 1103.1 C188.3 1108.5 189.6 1109.4 188.6 1113.6 C187.6 1117.8 184.0 1118.6 182.3 1124.1 C180.6 1129.6 183.1 1135.5 180.2 1140.9 C177.3 1146.3 172.2 1146.7 167.6 1151.3 C163.0 1155.9 160.5 1160.1 157.2 1163.9 C153.9 1167.7 154.7 1168.9 150.9 1170.2 C147.1 1171.5 144.2 1170.8 138.3 1170.2 C132.4 1169.6 126.1 1166.3 121.5 1167.1 C116.9 1167.9 116.9 1170.0 115.2 1174.4 C113.5 1178.8 114.8 1184.1 113.1 1189.1 C111.4 1194.1 108.1 1194.1 106.9 1199.5 C105.7 1204.9 106.1 1208.8 106.9 1216.3 C107.7 1223.8 109.0 1231.3 111.1 1237.2 C113.2 1243.1 116.1 1240.6 117.3 1245.6 C118.5 1250.6 117.7 1256.9 117.3 1262.4 C116.9 1267.9 113.9 1268.7 115.2 1272.9 C116.5 1277.1 121.1 1279.1 123.6 1283.3 C126.1 1287.5 128.6 1289.6 127.8 1293.8 C127.0 1298.0 122.3 1299.3 119.4 1304.3 C116.5 1309.3 114.8 1314.0 113.1 1319 C111.4 1324.0 111.1 1324.4 111.1 1329.4 C111.1 1334.4 111.4 1339.5 113.1 1344.1 C114.8 1348.7 119.4 1347.9 119.4 1352.5 C119.4 1357.1 116.0 1360.9 113.1 1367.2 C110.2 1373.5 107.4 1379.1 104.8 1383.9 C102.2 1388.7 101.1 1389.8 100.2 1391.3"/>
<path d="M18.9 1127.2 L173.9 1124.1 L172.9 1136.7 L178.1 1140.9"/>
<path d="M1201.3 1150.3 C1199.4 1153.0 1195.4 1159.1 1191.8 1163.9 C1188.2 1168.7 1186.7 1173.1 1183.4 1174.4 C1180.1 1175.7 1177.6 1172.7 1175.1 1170.2 C1172.6 1167.7 1173.0 1162.2 1170.9 1161.8 C1168.8 1161.4 1166.7 1164.3 1164.6 1168.1 C1162.5 1171.9 1164.6 1176.5 1160.4 1180.7 C1156.2 1184.9 1150.3 1186.0 1143.6 1189.1 C1136.9 1192.2 1132.3 1193.5 1126.9 1196.4 C1121.5 1199.3 1118.5 1200.6 1116.4 1203.7 C1114.3 1206.8 1113.5 1208.7 1116.4 1212.1 C1119.3 1215.5 1125.2 1217.6 1131.1 1220.5 C1137.0 1223.4 1141.9 1223.9 1145.7 1226.8 C1149.5 1229.7 1149.9 1230.6 1149.9 1235.2 C1149.9 1239.8 1147.8 1243.9 1145.7 1249.8 C1143.6 1255.7 1141.9 1263.2 1139.4 1264.5 C1136.9 1265.8 1135.3 1259.9 1133.2 1256.1 C1131.1 1252.3 1132.8 1248.1 1129 1245.6 C1125.2 1243.1 1121.4 1244.5 1114.3 1243.5 C1107.2 1242.5 1099.6 1239.6 1093.3 1240.4 C1087.0 1241.2 1085.8 1243.7 1082.9 1247.7 C1080.0 1251.7 1078.7 1254.8 1078.7 1260.3 C1078.7 1265.8 1082.9 1270.4 1082.9 1275 C1082.9 1279.6 1083.3 1280.8 1078.7 1283.3 C1074.1 1285.8 1066.5 1285.4 1059.8 1287.5 C1053.1 1289.6 1049.4 1290.0 1045.2 1293.8 C1041.0 1297.6 1038.5 1301.8 1038.9 1306.4 C1039.3 1311.0 1045.3 1312.7 1047.2 1316.9 C1049.1 1321.1 1050.4 1323.5 1048.3 1327.3 C1046.2 1331.1 1041.6 1331.9 1036.8 1335.7 C1032.0 1339.5 1029.7 1341.2 1024.2 1346.2 C1018.7 1351.2 1014.1 1355.9 1009.5 1360.9 C1004.9 1365.9 1005.0 1367.2 1001.2 1371.4 C997.4 1375.6 996.2 1379.1 990.7 1381.8 C985.2 1384.5 980.0 1383.1 973.9 1385 C967.8 1386.9 963.0 1390.0 960.3 1391.3"/>
<path d="M1406.4 989 C1404.9 990.5 1402.7 994.8 1399.1 996.3 C1395.5 997.8 1391.5 994.6 1388.6 996.3 C1385.7 998.0 1384.8 1000.1 1384.4 1004.7 C1384.0 1009.3 1386.9 1013.9 1386.5 1019.3 C1386.1 1024.7 1385.2 1027.3 1382.3 1031.9 C1379.4 1036.5 1376.0 1039.5 1371.8 1042.4 C1367.6 1045.3 1365.1 1044.5 1361.3 1046.6 C1357.5 1048.7 1355.9 1052.1 1353 1052.9 C1350.1 1053.7 1349.6 1052.5 1346.7 1050.8 C1343.8 1049.1 1341.7 1044.9 1338.3 1044.5 C1334.9 1044.1 1330.7 1046.2 1329.9 1048.7 C1329.1 1051.2 1331.2 1054.2 1334.1 1057.1 C1337.0 1060.0 1342.1 1060.4 1344.6 1063.3 C1347.1 1066.2 1348.8 1070.4 1346.7 1071.7 C1344.6 1073.0 1338.3 1070.0 1334.1 1069.6 C1329.9 1069.2 1329.1 1068.3 1325.7 1069.6 C1322.3 1070.9 1319.8 1072.8 1317.3 1075.9 C1314.8 1079.0 1315.6 1084.9 1313.1 1085.3 C1310.6 1085.7 1308.6 1080.7 1304.8 1078 C1301.0 1075.3 1298.5 1071.3 1294.3 1071.7 C1290.1 1072.1 1288.0 1075.9 1283.8 1080.1 C1279.6 1084.3 1277.1 1089.3 1273.3 1092.7 C1269.5 1096.1 1268.8 1096.1 1265 1096.9 C1261.2 1097.7 1257.4 1094.8 1254.5 1096.9 C1251.6 1099.0 1253.7 1104.0 1250.3 1107.3 C1246.9 1110.6 1239.8 1109.8 1237.7 1113.6 C1235.6 1117.4 1240.2 1122.0 1239.8 1126.2 C1239.4 1130.4 1238.5 1131.7 1235.6 1134.6 C1232.7 1137.5 1228.9 1137.1 1225.1 1140.9 C1221.3 1144.7 1220.1 1151.7 1216.8 1153.4 C1213.5 1155.1 1212.0 1149.5 1208.4 1149.2 C1204.8 1148.9 1200.9 1151.3 1199 1151.8"/>
<path d="M109.4 1379 C107.2 1381.7 101.3 1387.8 98.5 1392.6 C95.7 1397.4 95.7 1397.6 95.3 1403 C94.9 1408.4 97.0 1413.5 96.4 1419.8 C95.8 1426.1 94.7 1429.0 92.2 1434.5 C89.7 1440.0 86.1 1441.7 83.8 1447.1 C81.5 1452.5 80.3 1455.8 80.7 1461.7 C81.1 1467.6 86.1 1470.9 85.9 1476.4 C85.7 1481.9 83.4 1484.4 79.6 1489 C75.8 1493.6 72.1 1496.5 67.1 1499.4 C62.1 1502.3 59.5 1502.1 54.5 1503.6 C49.5 1505.1 45.7 1503.9 41.9 1506.8 C38.1 1509.7 38.5 1513.1 35.6 1518.3 C32.7 1523.5 29.5 1527.6 27.2 1533 C24.9 1538.4 25.8 1542.9 24.1 1545.5 C22.4 1548.1 19.9 1545.9 18.9 1546"/>
<path d="M801.3 1626.8 C797.3 1629.4 787.9 1634.7 781.4 1639.8 C774.9 1644.9 773.4 1647.4 768.8 1652.4 C764.2 1657.4 760.8 1660.0 758.3 1665 C755.8 1670.0 758.7 1673.3 756.2 1677.5 C753.7 1681.7 749.9 1680.9 745.7 1685.9 C741.5 1690.9 739.9 1696.8 735.3 1702.7 C730.7 1708.6 728.2 1710.7 722.7 1715.3 C717.2 1719.9 713.9 1723.0 708 1725.7 C702.1 1728.4 699.2 1727.6 693.3 1728.9 C687.4 1730.2 684.1 1729.7 678.7 1732 C673.3 1734.3 670.7 1736.2 666.1 1740.4 C661.5 1744.6 658.7 1749.2 655.6 1753 C652.5 1756.8 651.4 1758.0 650.4 1759.3"/>
<path d="M998 1379 C996.1 1380.0 993.8 1383.0 988.6 1384.2 C983.4 1385.4 977.3 1384.2 971.8 1385.2 C966.3 1386.2 964.2 1386.7 961.3 1389.4 C958.4 1392.1 957.8 1393.2 957.2 1398.9 C956.6 1404.6 958.6 1411.8 958.2 1417.7 C957.8 1423.6 957.8 1424.4 955.1 1428.2 C952.4 1432.0 949.6 1433.2 944.6 1436.6 C939.6 1440.0 934.1 1441.2 929.9 1445 C925.7 1448.8 924.9 1451.6 923.6 1455.4 C922.3 1459.2 922.8 1460.9 923.6 1463.8 C924.4 1466.7 927.8 1466.3 927.8 1470.1 C927.8 1473.9 925.7 1478.9 923.6 1482.7 C921.5 1486.5 923.2 1486.9 917.3 1489 C911.4 1491.1 901.4 1490.8 894.3 1493.1 C887.2 1495.4 886.3 1498.8 881.7 1500.5 C877.1 1502.2 874.3 1499.4 871.2 1501.5 C868.1 1503.6 868.5 1506.8 866 1511 C863.5 1515.2 861.6 1518.1 858.7 1522.5 C855.8 1526.9 853.0 1528.4 851.3 1533 C849.6 1537.6 850.3 1541.7 850.3 1545.5 C850.3 1549.3 852.4 1547.6 851.3 1551.8 C850.2 1556.0 848.1 1560.2 845 1566.5 C841.9 1572.8 840.4 1579.0 835.6 1583.2 C830.8 1587.4 825.4 1584.9 821 1587.4 C816.6 1589.9 815.3 1591.6 813.6 1595.8 C811.9 1600.0 814.3 1604.2 812.6 1608.4 C810.9 1612.6 807.9 1612.8 805.2 1616.8 C802.5 1620.8 800.2 1626.0 799 1628.3"/>
<path d="M251.4 890.2 C255.2 888.3 262.7 884.4 270.3 880.8 C277.9 877.2 282.1 873.7 289.2 872.4 C296.3 871.1 299.6 873.5 305.9 874.5 C312.2 875.5 314.7 878.0 320.6 877.6 C326.5 877.2 328.2 874.3 335.3 872.4 C342.4 870.5 347.8 868.8 356.2 868.2 C364.6 867.6 368.2 868.7 377.2 869.3 C386.2 869.9 396.5 870.9 401.3 871.3"/>
<path d="M594 917.8 C595.2 918.0 594.0 919.2 600 919 C606.0 918.8 615.4 916.8 624.1 916.6 C632.8 916.4 636.2 915.4 643.4 917.8 C650.6 920.2 653.0 924.4 660.2 928.7 C667.4 933.0 670.3 935.9 679.5 939.5 C688.7 943.1 696.8 946.0 706 946.7 C715.2 947.4 717.6 944.8 725.3 943.1 C733.0 941.4 738.8 941.2 744.6 938.3 C750.4 935.4 749.4 932.2 754.2 928.7 C759.0 925.2 762.9 922.4 768.7 921 C774.5 919.6 777.8 920.4 783.1 921.9 C788.4 923.4 790.4 925.2 795.2 928.7 C800.0 932.2 801.9 935.4 807.2 939.5 C812.5 943.6 817.1 947.0 821.7 949.2 C826.3 951.4 827.9 953.1 830.1 950.4 C832.3 947.7 830.3 939.5 832.5 935.9 C834.7 932.3 836.4 933.5 841 932.3 C845.6 931.1 850.1 931.3 855.4 929.9 C860.7 928.5 862.7 925.3 867.5 925.1 C872.3 924.9 875.2 925.6 879.5 928.7 C883.8 931.8 885.8 935.4 889.2 940.7 C892.6 946.0 892.6 949.4 896.4 955.2 C900.2 961.0 903.6 964.5 908.4 969.6 C913.2 974.7 915.2 978.1 920.5 980.5 C925.8 982.9 930.1 983.4 934.9 981.7 C939.7 980.0 942.2 977.8 944.6 972 C947.0 966.2 943.6 959.5 947 952.8 C950.4 946.1 958.0 945.1 961.4 938.3 C964.8 931.5 961.0 924.8 963.9 919 C966.8 913.2 969.6 913.7 975.9 909.4 C982.2 905.1 988.5 902.1 995.2 897.3 C1001.9 892.5 1002.9 888.4 1009.6 885.3 C1016.3 882.2 1022.1 881.2 1028.9 881.7 C1035.7 882.2 1037.2 885.8 1043.4 887.7 C1049.6 889.6 1056.7 890.6 1060 891.3"/>
<path d="M754.2 950.4 L768.7 960 L778.3 969.6 L790.4 976.9"/>
<path d="M529.5 889.9 C532.8 891.4 539.9 894.1 546.2 897.2 C552.5 900.3 553.7 902.7 560.8 905.6 C567.9 908.5 573.3 909.7 581.7 911.8 C590.1 913.9 593.8 915.0 602.6 916 C611.4 917.0 617.2 916.6 625.5 917 C633.8 917.4 640.5 917.9 644.3 918.1"/>
</g>
<g fill="none" stroke="#fff" stroke-width="5.8" stroke-linejoin="round" stroke-linecap="round">
<path d="M1041 887.1 L1038.9 897.5 L1043.1 908 L1036.8 918.5 L1033.6 926.9 L1038.9 939.4 L1043.1 947.8 L1051.4 960.4 L1059.8 975.1 L1070.3 989.7 L1077.6 1001.3"/>
<path d="M1067.2 987.9 L1101.7 1048.7 L1096.5 1063.3 L1101.7 1073.8 L1099.6 1084.3 L1105.9 1096.9 L1103.8 1103.1 L1114.3 1117.8 L1122.7 1132.5 L1126.9 1138.8 L1137.3 1143 L1152 1157.6 L1164.6 1168.1"/>
</g>
<g fill="none" stroke="#fff" stroke-width="8.5" stroke-linejoin="round" stroke-linecap="round">
<path d="M529.5 889.9 C532.8 892.6 539.5 898.3 546.2 903.5 C552.9 908.7 555.8 911.7 562.9 916 C570.0 920.3 574.6 922.6 581.7 925 C588.8 927.4 591.3 928.2 598.4 928.1 C605.5 928.0 610.1 925.9 617.2 924.3 C624.3 922.7 628.5 921.4 633.9 920.2 C639.3 919.0 642.2 918.5 644.3 918.1"/>
</g>
<g fill="none" stroke="#fff" stroke-width="11" stroke-linejoin="round" stroke-linecap="round">
<path d="M745.8 940.2 C748.0 942.7 753.0 947.9 756.6 952.8 C760.2 957.7 760.5 961.0 763.9 964.8 C767.3 968.6 769.2 969.3 773.5 972 C777.8 974.7 780.9 976.2 785.5 978.1 C790.1 980.0 792.1 982.2 796.4 981.7 C800.7 981.2 803.1 977.4 807.2 975.7 C811.3 974.0 813.0 972.6 816.9 973.3 C820.8 974.0 822.2 978.8 826.5 979.3 C830.8 979.8 834.8 977.9 838.6 975.7 C842.4 973.5 844.6 971.8 845.3 968.4 C846.0 965.0 844.6 962.2 842.2 958.8 C839.8 955.4 835.1 953.0 833.3 951.6"/>
<path d="M325 875.5 C328.3 874.5 334.2 871.7 341.7 870.5 C349.2 869.3 354.2 869.3 362.6 869.5 C371.0 869.7 375.2 870.9 383.5 871.3 C391.8 871.7 396.0 871.9 404.3 871.3 C412.6 870.7 416.8 868.8 425.2 868.4 C433.6 868.0 438.6 868.7 446.1 869.5 C453.6 870.3 456.5 871.8 462.8 872.2 C469.1 872.6 472.4 870.3 477.4 871.5 C482.4 872.7 483.2 875.2 487.8 878.4 C492.4 881.6 494.0 885.0 500.3 887.4 C506.6 889.8 513.3 890.0 519.1 890.5 C524.9 891.0 527.4 890.0 529.5 889.9"/>
</g>
<circle cx="794.3" cy="989" r="743.7" fill="none" stroke="#fff" stroke-width="2.9"/>
<circle cx="794" cy="989" r="3" fill="#000"/>
<circle cx="699.6" cy="305.3" r="6.9" fill="#fff"/>
<circle cx="674.5" cy="425.2" r="6.9" fill="#fff"/>
<circle cx="482.1" cy="442.6" r="6.9" fill="#fff"/>
<circle cx="709.7" cy="575.6" r="6.9" fill="#fff"/>
<circle cx="914.2" cy="357.7" r="6.9" fill="#fff"/>
<circle cx="1305.4" cy="429.4" r="6.9" fill="#fff"/>
<circle cx="1498.6" cy="308.1" r="6.9" fill="#fff"/>
<circle cx="1482.5" cy="577.7" r="6.9" fill="#fff"/>
<circle cx="356.6" cy="773.5" r="6.9" fill="#fff"/>
<circle cx="186.1" cy="940.5" r="6.9" fill="#fff"/>
<circle cx="702.4" cy="665.6" r="6.9" fill="#fff"/>
<circle cx="738.4" cy="739.3" r="6.9" fill="#fff"/>
<circle cx="461.4" cy="826.3" r="6.9" fill="#fff"/>
<circle cx="1083.9" cy="902.8" r="6.9" fill="#fff"/>
<circle cx="1281.3" cy="618.4" r="6.9" fill="#fff"/>
<circle cx="1196" cy="865" r="6.9" fill="#fff"/>
<circle cx="1325.7" cy="945.7" r="6.9" fill="#fff"/>
<circle cx="203.2" cy="1107.8" r="6.9" fill="#fff"/>
<circle cx="230.5" cy="1320.4" r="6.9" fill="#fff"/>
<circle cx="477.5" cy="1254.4" r="6.9" fill="#fff"/>
<circle cx="694.4" cy="1304.3" r="6.9" fill="#fff"/>
<circle cx="1125.4" cy="1091.2" r="6.9" fill="#fff"/>
<circle cx="1035.7" cy="1309.5" r="6.9" fill="#fff"/>
<circle cx="1313.1" cy="1085.3" r="6.9" fill="#fff"/>
<circle cx="1518.5" cy="1080.5" r="6.9" fill="#fff"/>
<circle cx="423.5" cy="1526.7" r="6.9" fill="#fff"/>
<circle cx="388.2" cy="499.2" r="6.9" fill="#fff"/>
<circle cx="95.3" cy="349.3" r="6.9" fill="#fff"/>
<text class="mono" x="707.9" y="294.9" font-size="32" fill="#fff" stroke="#fff" stroke-width="0.4" textLength="165.6" lengthAdjust="spacingAndGlyphs">PARAGUARÍ</text>
<text class="mono" x="683.2" y="415.3" font-size="32" fill="#fff" stroke="#fff" stroke-width="0.4" textLength="128.8" lengthAdjust="spacingAndGlyphs">QUIINDY</text>
<text class="mono" x="488.9" y="432.5" font-size="32" fill="#fff" stroke="#fff" stroke-width="0.4" textLength="165.6" lengthAdjust="spacingAndGlyphs">VA. OLIVA</text>
<text class="mono" x="717.3" y="565.2" font-size="32" fill="#fff" stroke="#fff" stroke-width="0.4" textLength="202.4" lengthAdjust="spacingAndGlyphs">VA. FLORIDA</text>
<text class="mono" x="923.1" y="347.9" font-size="32" fill="#fff" stroke="#fff" stroke-width="0.4" textLength="184" lengthAdjust="spacingAndGlyphs">VILLARRICA</text>
<text class="mono" x="1314.1" y="419.5" font-size="32" fill="#fff" stroke="#fff" stroke-width="0.4" textLength="147.2" lengthAdjust="spacingAndGlyphs">NARANJAL</text>
<text class="mono" x="1509.4" y="297" font-size="32" fill="#fff" stroke="#fff" stroke-width="0.4" textLength="239.2" lengthAdjust="spacingAndGlyphs">PUERTO IGUAZÚ</text>
<text class="mono" x="1491.1" y="567.3" font-size="32" fill="#fff" stroke="#fff" stroke-width="0.4" textLength="147.2" lengthAdjust="spacingAndGlyphs">ELDORADO</text>
<text class="mono" x="365.5" y="763.4" font-size="32" fill="#fff" stroke="#fff" stroke-width="0.4" textLength="165.6" lengthAdjust="spacingAndGlyphs">ISLA UMBÚ</text>
<text class="mono" x="195.8" y="930.6" font-size="32" fill="#fff" stroke="#fff" stroke-width="0.4" textLength="184" lengthAdjust="spacingAndGlyphs">CORRIENTES</text>
<text class="mono" x="710" y="654.9" font-size="32" fill="#fff" stroke="#fff" stroke-width="0.4" textLength="312.8" lengthAdjust="spacingAndGlyphs">SAN JUAN BAUTISTA</text>
<text class="mono" x="746" y="728.9" font-size="32" fill="#fff" stroke="#fff" stroke-width="0.4" textLength="202.4" lengthAdjust="spacingAndGlyphs">SAN IGNACIO</text>
<text class="mono" x="470.1" y="815.8" font-size="32" fill="#fff" stroke="#fff" stroke-width="0.4" textLength="165.6" lengthAdjust="spacingAndGlyphs">VILLALBÍN</text>
<text class="mono" x="850.6" y="957.9" font-size="32" fill="#fff" stroke="#fff" stroke-width="0.4" textLength="165.6" lengthAdjust="spacingAndGlyphs">ITUZAINGÓ</text>
<text class="mono" x="1092.8" y="893.3" font-size="32" fill="#fff" stroke="#fff" stroke-width="0.4" textLength="128.8" lengthAdjust="spacingAndGlyphs">POSADAS</text>
<text class="mono" x="1288.3" y="607" font-size="32" fill="#fff" stroke="#fff" stroke-width="0.4" textLength="312.8" lengthAdjust="spacingAndGlyphs">MARÍA AUXILIADORA</text>
<text class="mono" x="1204.1" y="854" font-size="32" fill="#fff" stroke="#fff" stroke-width="0.4" textLength="202.4" lengthAdjust="spacingAndGlyphs">SAN IGNACIO</text>
<text class="mono" x="1335" y="935.3" font-size="32" fill="#fff" stroke="#fff" stroke-width="0.4" textLength="92" lengthAdjust="spacingAndGlyphs">OBERÁ</text>
<text class="mono" x="211.1" y="1096.9" font-size="32" fill="#fff" stroke="#fff" stroke-width="0.4" textLength="165.6" lengthAdjust="spacingAndGlyphs">EMPEDRADO</text>
<text class="mono" x="238.8" y="1310" font-size="32" fill="#fff" stroke="#fff" stroke-width="0.4" textLength="165.6" lengthAdjust="spacingAndGlyphs">SAN ROQUE</text>
<text class="mono" x="485.8" y="1243.1" font-size="32" fill="#fff" stroke="#fff" stroke-width="0.4" textLength="184" lengthAdjust="spacingAndGlyphs">CONCEPCIÓN</text>
<text class="mono" x="702.7" y="1293.2" font-size="32" fill="#fff" stroke="#fff" stroke-width="0.4" textLength="331.2" lengthAdjust="spacingAndGlyphs">COL. C. PELLEGRINI</text>
<text class="mono" x="1134.1" y="1080.5" font-size="32" fill="#fff" stroke="#fff" stroke-width="0.4" textLength="165.6" lengthAdjust="spacingAndGlyphs">APÓSTOLES</text>
<text class="mono" x="1045" y="1299.7" font-size="32" fill="#fff" stroke="#fff" stroke-width="0.4" textLength="184" lengthAdjust="spacingAndGlyphs">SANTO TOMÉ</text>
<text class="mono" x="1320.4" y="1071.7" font-size="32" fill="#fff" stroke="#fff" stroke-width="0.4" textLength="184" lengthAdjust="spacingAndGlyphs">SAN JAVIER</text>
<text class="mono" x="1526.3" y="1069.6" font-size="32" fill="#fff" stroke="#fff" stroke-width="0.4" textLength="165.6" lengthAdjust="spacingAndGlyphs">SAN PEDRO</text>
<text class="mono" x="431.3" y="1515.1" font-size="32" fill="#fff" stroke="#fff" stroke-width="0.4" textLength="147.2" lengthAdjust="spacingAndGlyphs">MERCEDES</text>
<text class="mono" x="395.8" y="488.7" font-size="32" fill="#fff" stroke="#fff" stroke-width="0.4" textLength="128.8" lengthAdjust="spacingAndGlyphs">FORMOSA</text>
<text class="mono" x="103.6" y="338.9" font-size="32" fill="#fff" stroke="#fff" stroke-width="0.4" textLength="110.4" lengthAdjust="spacingAndGlyphs">PIRANE</text>
<rect x="26.3" y="1653" width="332.5" height="102" fill="rgba(102,102,102,0.85)"/>
<rect x="40" y="1667.7" width="303.5" height="72.3" fill="none" stroke="#ffa500" stroke-width="5.5"/>
<text class="mono" x="50.3" y="1697.8" font-size="24.4" fill="#fff" textLength="282.2" lengthAdjust="spacingAndGlyphs">Avisos Meteorológicos</text>
<text class="mono" x="50.3" y="1724.7" font-size="24.4" fill="#fff" textLength="228.5" lengthAdjust="spacingAndGlyphs">a Muy Corto Plazo</text>
</g>
<g clip-path="url(#ct)">
<polygon points="598,217 598,214.4 601,216 605,199.7 608,216 612,215.8 615,214.8 617,216 621,202.4 623,216 626,216 629,214.3 632,215.4 635,214.2 637,208.6 639,207.8 643,212 646,207.9 649,206.7 653,200.7 657,204 660,205.6 664,195.7 668,201.6 671,193.6 675,188.7 678,190.1 681,187.2 683,192.1 687,195.8 691,183.1 693,184.6 696,187.7 700,184.4 703,174.2 706,187.4 710,190.7 712,187.8 716,183.5 720,182.4 723,184.6 725,186.9 728,179.1 732,180.1 735,183.3 738,184.6 741,167.5 744,180.8 748,184.1 750,181.1 754,180.5 756,175.4 760,178.9 764,185.5 766,184.1 768,178.3 771,183.9 773,177.9 775,185.8 777,171.2 780,184.9 782,185.4 786,177.4 790,177.7 793,180.9 796,180.4 799,164.1 803,185.8 807,178.1 811,183.3 815,179.1 817,184.2 819,170.6 823,180.7 826,169.5 828,180.5 830,180.6 834,162.7 838,180 841,164.4 843,176.9 845,172.7 848,175.5 851,181.2 853,179.7 855,183.5 857,162.3 861,175.6 864,167.8 867,180.5 869,184.5 871,180.1 874,182.5 876,178.2 880,178.2 884,172.5 888,177.4 891,178.8 895,176.8 898,171 901,177.7 904,175.1 908,180.5 911,180.5 915,179 919,161.7 921,178.9 925,182.3 927,176.9 929,181.9 933,182.9 935,173.7 939,178.5 943,180.6 945,178.6 947,181.3 949,179.5 953,181.4 956,180.7 960,170.5 963,185.1 966,184.4 970,187.8 972,185.6 974,181.3 977,190 980,188.1 982,185.8 986,190 990,192 994,195.4 998,196 1000,194.1 1003,194.6 1005,196.9 1007,198.9 1011,202.9 1015,204.6 1019,201.9 1023,198.9 1025,210.8 1027,215 1029,215.4 1030,217" fill="#3a6ea5"/>
<rect x="700" y="200" width="300" height="17" fill="#3878b0"/>
<rect x="720" y="207" width="240" height="10" fill="#2f86c0" opacity="0.8"/>
<ellipse cx="164.0" cy="83.0" rx="6.3" ry="19.8" fill="#2b9fd0"/>
<ellipse cx="177.6" cy="83.0" rx="6.3" ry="19.8" fill="#2b9fd0"/>
<ellipse cx="194.3" cy="78.8" rx="7.3" ry="18.8" fill="#2b9fd0"/>
<ellipse cx="222.4" cy="83.0" rx="6.7" ry="19.8" fill="#2b9fd0"/>
<ellipse cx="284.0" cy="80.9" rx="7.5" ry="19.8" fill="#2b9fd0"/>
<ellipse cx="293.4" cy="78.8" rx="6.3" ry="16.7" fill="#2b9fd0"/>
<ellipse cx="173.4" cy="141.4" rx="7.3" ry="23.0" fill="#2b9fd0"/>
<ellipse cx="193.2" cy="128.9" rx="4.2" ry="14.6" fill="#2b9fd0"/>
<ellipse cx="191.1" cy="99.6" rx="12.1" ry="23.0" fill="#45d135"/>
<ellipse cx="184.9" cy="124.7" rx="10.4" ry="21.9" fill="#45d135"/>
<ellipse cx="191.7" cy="97.6" rx="8.8" ry="19.8" fill="#c8c030"/>
<ellipse cx="184.9" cy="124.7" rx="7.5" ry="19.8" fill="#e0d83a"/>
<ellipse cx="248.9" cy="101.7" rx="5.8" ry="19.8" fill="#2e86c0"/>
<ellipse cx="304.8" cy="104.9" rx="6.3" ry="23.0" fill="#2b9fd0"/>
<ellipse cx="296.1" cy="104.9" rx="7.3" ry="23.0" fill="#36a82e"/>
<rect x="400.8" y="110.1" width="139.2" height="25.0" fill="#2baee0"/>
<rect x="471.8" y="80.9" width="68.2" height="41.7" fill="#2b9fd0"/>
<ellipse cx="478.0" cy="78.8" rx="6.3" ry="13.6" fill="#2e86c0"/>
<ellipse cx="489.5" cy="78.8" rx="6.3" ry="13.6" fill="#2e86c0"/>
<ellipse cx="521.8" cy="78.8" rx="6.3" ry="13.6" fill="#2e86c0"/>
<ellipse cx="532.3" cy="78.8" rx="6.3" ry="13.6" fill="#2e86c0"/>
<ellipse cx="504.1" cy="78.8" rx="7.3" ry="13.6" fill="#2baee0"/>
<ellipse cx="366.4" cy="143.5" rx="8.3" ry="24.0" fill="#2e86c0"/>
<ellipse cx="376.8" cy="153.9" rx="9.4" ry="33.4" fill="#2b9fd0"/>
<ellipse cx="386.2" cy="141.4" rx="8.3" ry="23.0" fill="#2e86c0"/>
<ellipse cx="396.7" cy="139.3" rx="8.3" ry="20.9" fill="#2e86c0"/>
<rect x="390.4" y="151.8" width="149.6" height="33.4" fill="#45d135"/>
<polygon points="398.7,137.2 540.0,128.9 540.0,189.4 398.7,185.2" fill="#45d135"/>
<polygon points="473.9,143.5 540.0,139.3 540.0,168.5 482.2,164.3" fill="#36a82e"/>
<ellipse cx="407.1" cy="164.3" rx="8.3" ry="27.1" fill="#3cbf33"/>
<ellipse cx="417.5" cy="164.3" rx="8.3" ry="27.1" fill="#3cbf33"/>
<ellipse cx="427.9" cy="164.3" rx="8.3" ry="27.1" fill="#3cbf33"/>
<ellipse cx="395.6" cy="170.6" rx="6.3" ry="16.7" fill="#45d135"/>
<ellipse cx="475.9" cy="101.7" rx="7.3" ry="19.8" fill="#55ee3a"/>
<ellipse cx="515.6" cy="99.6" rx="10.0" ry="19.8" fill="#55ee3a"/>
<ellipse cx="453.0" cy="124.7" rx="8.3" ry="12.5" fill="#55ee3a"/>
<ellipse cx="347.6" cy="89.2" rx="6.9" ry="24.0" fill="#2a8a22"/>
<ellipse cx="357.0" cy="89.2" rx="6.9" ry="24.0" fill="#eaea3a"/>
<ellipse cx="368.5" cy="89.2" rx="6.9" ry="24.0" fill="#e0e040"/>
<ellipse cx="378.9" cy="89.2" rx="6.9" ry="24.0" fill="#257a1e"/>
<ellipse cx="388.3" cy="89.2" rx="6.9" ry="24.0" fill="#eaea3a"/>
<ellipse cx="399.8" cy="89.2" rx="6.9" ry="24.0" fill="#d0021b"/>
<ellipse cx="410.2" cy="89.2" rx="6.9" ry="24.0" fill="#d0d03a"/>
<ellipse cx="420.6" cy="89.2" rx="6.9" ry="24.0" fill="#e08a1a"/>
<ellipse cx="433.2" cy="89.2" rx="6.9" ry="24.0" fill="#eaea3a"/>
<ellipse cx="443.6" cy="89.2" rx="6.9" ry="24.0" fill="#3cbf33"/>
<ellipse cx="454.0" cy="89.2" rx="6.9" ry="24.0" fill="#257a1e"/>
<ellipse cx="465.5" cy="89.2" rx="6.9" ry="24.0" fill="#55ee3a"/>
<ellipse cx="434.2" cy="161.2" rx="6.3" ry="20.9" fill="#eaea3a"/>
<ellipse cx="463.4" cy="164.3" rx="7.5" ry="23.0" fill="#d0d03a"/>
<ellipse cx="475.9" cy="175.8" rx="6.3" ry="11.5" fill="#eaea3a"/>
<ellipse cx="443.6" cy="160.2" rx="5.8" ry="21.9" fill="#e8102a"/>
<ellipse cx="453.0" cy="162.2" rx="7.3" ry="24.0" fill="#b8000f"/>
<ellipse cx="457.2" cy="197.7" rx="7.3" ry="12.5" fill="#2e86c0"/>
<ellipse cx="480.1" cy="197.7" rx="10.4" ry="12.5" fill="#36a82e"/>
<rect x="494.7" y="168.5" width="45.3" height="35.5" fill="#36a82e"/>
<ellipse cx="505.2" cy="185.2" rx="4.6" ry="16.7" fill="#c8b830"/>
<ellipse cx="513.5" cy="185.2" rx="5.2" ry="16.7" fill="#d0021b"/>
<ellipse cx="521.8" cy="185.2" rx="2.1" ry="12.5" fill="#eaea3a"/>
<ellipse cx="427.9" cy="185.2" rx="5.2" ry="7.3" fill="#2b9fd0"/>
<rect x="574.3" y="122.6" width="15.6" height="75.1" fill="#2b9fd0"/>
<rect x="589.9" y="143.5" width="48.0" height="52.2" fill="#2b9fd0"/>
<ellipse cx="597.2" cy="147.6" rx="7.9" ry="14.6" fill="#2b9fd0"/>
<ellipse cx="609.7" cy="142.4" rx="6.7" ry="12.5" fill="#2b9fd0"/>
<ellipse cx="620.2" cy="142.4" rx="6.7" ry="12.5" fill="#2b9fd0"/>
<ellipse cx="631.6" cy="151.8" rx="6.7" ry="12.5" fill="#2b9fd0"/>
<ellipse cx="582.6" cy="122.6" rx="8.3" ry="12.5" fill="#2b9fd0"/>
<ellipse cx="609.7" cy="142.4" rx="6.3" ry="12.5" fill="#2b9fd0"/>
<ellipse cx="620.2" cy="142.4" rx="6.3" ry="12.5" fill="#2b9fd0"/>
<ellipse cx="636.8" cy="168.5" rx="6.3" ry="25.0" fill="#2e86c0"/>
<ellipse cx="645.2" cy="176.8" rx="4.2" ry="25.0" fill="#3572a8"/>
<ellipse cx="609.7" cy="193.5" rx="8.3" ry="18.8" fill="#2e86c0"/>
<ellipse cx="590.9" cy="193.5" rx="8.3" ry="12.5" fill="#2b9fd0"/>
<polygon points="520.0,122.6 532.5,128.9 545.0,122.6 568.0,120.5 576.3,143.5 588.9,151.8 588.9,185.2 578.4,201.9 532.5,206.1 520.0,204.0" fill="#55ee3a"/>
<polygon points="520.0,151.8 636.8,151.8 636.8,172.7 520.0,176.8" fill="#32a02a"/>
<polygon points="520.0,176.8 582.6,172.7 578.4,189.4 520.0,193.5" fill="#36a82e"/>
<ellipse cx="547.1" cy="197.7" rx="10.4" ry="10.4" fill="#55ee3a"/>
<ellipse cx="520.0" cy="176.8" rx="5.2" ry="8.3" fill="#2a8a22"/>
<ellipse cx="521.0" cy="193.5" rx="2.9" ry="9.4" fill="#eaea3a"/>
<ellipse cx="602.4" cy="162.2" rx="4.6" ry="11.5" fill="#e0a020"/>
<ellipse cx="607.2" cy="162.2" rx="2.9" ry="11.5" fill="#eaea3a"/>
<ellipse cx="612.4" cy="162.2" rx="4.6" ry="11.5" fill="#d0d03a"/>
<ellipse cx="628.5" cy="162.2" rx="4.2" ry="11.5" fill="#45d135"/>
<ellipse cx="528.3" cy="78.8" rx="8.3" ry="13.6" fill="#2b9fd0"/>
<ellipse cx="557.6" cy="101.7" rx="7.3" ry="16.7" fill="#2b9fd0"/>
<ellipse cx="582.6" cy="78.8" rx="9.4" ry="13.6" fill="#2e86c0"/>
<ellipse cx="594.1" cy="76.7" rx="9.4" ry="12.5" fill="#2e86c0"/>
<ellipse cx="608.7" cy="74.6" rx="3.1" ry="10.4" fill="#2e86c0"/>
<ellipse cx="633.7" cy="91.3" rx="6.3" ry="14.6" fill="#2b9fd0"/>
<rect x="649.4" y="65.2" width="30.3" height="18.8" fill="#2e86c0"/>
<ellipse cx="530.4" cy="114.3" rx="8.3" ry="11.5" fill="#2b9fd0"/>
<ellipse cx="573.2" cy="120.5" rx="6.3" ry="10.4" fill="#2b9fd0"/>
<rect x="599.3" y="91.3" width="35.5" height="19.8" fill="#2e86c0"/>
<rect x="643.1" y="91.3" width="19.8" height="19.8" fill="#2b9fd0"/>
<rect x="666.1" y="91.3" width="44.2" height="19.8" fill="#2e86c0"/>
<ellipse cx="719.7" cy="101.7" rx="5.6" ry="11.5" fill="#2e86c0"/>
<ellipse cx="640.0" cy="112.2" rx="3.8" ry="10.4" fill="#2e86c0"/>
<ellipse cx="579.5" cy="101.7" rx="3.1" ry="10.4" fill="#3572a8"/>
<ellipse cx="794.4" cy="87.1" rx="7.3" ry="23.0" fill="#2b9fd0"/>
<ellipse cx="784.0" cy="137.2" rx="6.3" ry="16.7" fill="#2e86c0"/>
<ellipse cx="795.4" cy="128.9" rx="4.2" ry="16.7" fill="#2e86c0"/>
<ellipse cx="794.4" cy="162.2" rx="2.9" ry="11.5" fill="#3572a8"/>
<ellipse cx="772.5" cy="111.1" rx="6.7" ry="21.9" fill="#3cbf33"/>
<ellipse cx="784.0" cy="111.1" rx="6.3" ry="21.9" fill="#36a82e"/>
<ellipse cx="692.1" cy="162.2" rx="6.3" ry="24.0" fill="#2b9fd0"/>
<ellipse cx="705.7" cy="162.2" rx="6.9" ry="24.6" fill="#55ee3a"/>
<ellipse cx="661.9" cy="187.3" rx="5.2" ry="12.5" fill="#3572a8"/>
<ellipse cx="676.5" cy="189.4" rx="6.3" ry="12.5" fill="#3572a8"/>
<rect x="714.1" y="159.1" width="11.5" height="7.3" fill="#3572a8"/>
<rect x="737.0" y="159.1" width="10.4" height="7.3" fill="#3572a8"/>
<ellipse cx="922.2" cy="74.3" rx="3.9" ry="10.4" fill="#2e86c0"/>
<rect x="945.6" y="65.2" width="20.1" height="19.6" fill="#2e86c0"/>
<ellipse cx="994.4" cy="74.3" rx="5.7" ry="11.0" fill="#2e86c0"/>
<ellipse cx="1092.5" cy="74.3" rx="6.8" ry="11.0" fill="#2e86c0"/>
<polygon points="900.0,185.2 910.4,174.8 915.6,182.6 931.3,180.0 940.4,174.8 946.9,185.2 973.0,189.1 1025.2,206.1 1025.2,213.9 900.0,213.9" fill="#3a6ea5"/>
<clipPath id="k1"><rect x="900" y="60" width="700" height="144.8"/></clipPath><g clip-path="url(#k1)">
<ellipse cx="1017.4" cy="169.5" rx="44.3" ry="48.3" fill="#2b9fd0"/>
<ellipse cx="1035.6" cy="114.8" rx="7.3" ry="19.6" fill="#2e86c0"/>
<ellipse cx="1030.4" cy="146.1" rx="20.9" ry="28.7" fill="#2baee0"/>
<ellipse cx="1017.4" cy="176.1" rx="37.8" ry="33.9" fill="#45d135"/>
<ellipse cx="1035.6" cy="153.9" rx="10.4" ry="26.1" fill="#45d135"/>
<ellipse cx="991.3" cy="182.6" rx="10.4" ry="23.5" fill="#2a8a22"/>
<ellipse cx="1046.1" cy="182.6" rx="7.8" ry="20.9" fill="#2a8a22"/>
<ellipse cx="1013.5" cy="180.0" rx="11.0" ry="24.8" fill="#e0e040"/>
<ellipse cx="1035.6" cy="174.8" rx="9.9" ry="26.1" fill="#eaea3a"/>
<ellipse cx="1033.0" cy="178.7" rx="6.3" ry="13.0" fill="#e8a020"/>
</g>
<clipPath id="k2"><rect x="900" y="60" width="700" height="147.9"/></clipPath><g clip-path="url(#k2)">
<ellipse cx="1106.1" cy="174.8" rx="40.4" ry="39.1" fill="#2e86c0"/>
<ellipse cx="1095.6" cy="164.3" rx="15.6" ry="28.7" fill="#2b9fd0"/>
<ellipse cx="1126.9" cy="164.3" rx="13.0" ry="28.7" fill="#2b9fd0"/>
<ellipse cx="1098.2" cy="181.3" rx="18.8" ry="28.7" fill="#45d135"/>
<ellipse cx="1124.3" cy="178.7" rx="11.7" ry="30.0" fill="#45d135"/>
<ellipse cx="1095.6" cy="169.5" rx="7.8" ry="13.0" fill="#2a8a22"/>
<ellipse cx="1093.5" cy="187.8" rx="4.7" ry="20.3" fill="#eaea3a"/>
</g>
<clipPath id="k3"><rect x="900" y="60" width="700" height="142.7"/></clipPath><g clip-path="url(#k3)">
<ellipse cx="1179.1" cy="161.7" rx="28.7" ry="46.4" fill="#2b9fd0"/>
<ellipse cx="1179.1" cy="164.3" rx="24.8" ry="40.4" fill="#45d135"/>
<ellipse cx="1189.5" cy="151.3" rx="10.4" ry="26.1" fill="#2a8a22"/>
<ellipse cx="1170.0" cy="164.3" rx="7.3" ry="28.7" fill="#eaea3a"/>
<ellipse cx="1186.9" cy="174.8" rx="10.4" ry="22.2" fill="#d8d030"/>
<ellipse cx="1170.0" cy="160.4" rx="3.7" ry="10.4" fill="#e8a020"/>
</g>
<ellipse cx="1270.4" cy="172.2" rx="5.2" ry="17.0" fill="#2b9fd0"/>
<ellipse cx="1283.4" cy="172.2" rx="5.2" ry="18.3" fill="#2b9fd0"/>
<ellipse cx="1292.5" cy="172.2" rx="5.2" ry="17.0" fill="#2b9fd0"/>
<clipPath id="k4"><rect x="900" y="60" width="700" height="142.9"/></clipPath><g clip-path="url(#k4)">
<ellipse cx="1325.1" cy="165.6" rx="17.2" ry="38.6" fill="#2b9fd0"/>
<ellipse cx="1322.5" cy="138.2" rx="6.5" ry="11.7" fill="#2e86c0"/>
<ellipse cx="1323.8" cy="174.8" rx="11.7" ry="29.2" fill="#45d135"/>
<ellipse cx="1325.1" cy="164.3" rx="6.5" ry="15.6" fill="#2a8a22"/>
<ellipse cx="1321.2" cy="185.2" rx="5.7" ry="18.8" fill="#eaea3a"/>
<ellipse cx="1320.4" cy="190.4" rx="2.6" ry="11.7" fill="#e8a020"/>
<rect x="1318.9" y="199.8" width="3.1" height="3.1" fill="#e8102a"/>
</g>
</g>
<g clip-path="url(#cr)">
<polygon points="1571,790 1584.4,790 1588.4,794 1583.8,798 1589,800 1588,802 1590.6,805 1592.8,807 1595,809 1602.1,811 1600.8,814 1597.1,816 1598.7,818 1597.3,820 1595.7,822 1602.1,824 1596.8,827 1599.4,829 1602,833 1600.2,837 1601.2,840 1601,843 1612.8,846 1597.7,849 1600.2,852 1597.8,855 1598.3,857 1599.8,860 1599.1,864 1602.5,868 1597.4,871 1598.6,873 1603.5,876 1600.8,880 1599.1,883 1597.9,887 1607.8,890 1611.4,894 1602.4,897 1597.6,900 1596.7,904 1597.4,906 1600.9,908 1597.6,910 1602.3,912 1602.8,915 1603.1,917 1601,920 1598.2,923 1596.9,925 1602.7,929 1602,932 1597.8,935 1598.3,939 1600.6,942 1598.2,945 1601.5,948 1600.6,952 1600,955 1598.8,957 1600.1,960 1599.9,964 1597.2,967 1597.7,970 1598.3,974 1598.7,977 1596.4,979 1604.6,982 1596.1,985 1598.4,989 1599.1,992 1596.6,996 1595.8,998 1595.8,1002 1605.2,1004 1595.6,1006 1596.7,1008 1598.2,1010 1597,1013 1595.7,1017 1594.2,1020 1600.1,1023 1599.9,1027 1597.9,1029 1597.8,1032 1595.9,1036 1596.8,1038 1597.5,1042 1597.9,1044 1600.5,1046 1599.4,1049 1594.3,1052 1597.3,1056 1596,1060 1596.8,1062 1595.9,1066 1597.4,1068 1596.7,1071 1599.7,1074 1601.7,1077 1598.7,1080 1593,1083 1594.6,1086 1594.6,1088 1597.9,1090 1597,1093 1598.7,1097 1597.7,1099 1594.1,1103 1591.5,1107 1596.1,1111 1590.7,1113 1596.7,1117 1591.2,1121 1593.8,1124 1593.7,1128 1592.2,1131 1589.9,1135 1598.9,1137 1589.9,1141 1588.6,1144 1593.4,1148 1587.9,1152 1587.1,1154 1591.9,1156 1588.5,1158 1593,1160 1594,1162 1595.6,1164 1586.3,1167 1595.1,1170 1585.4,1174 1586.4,1176 1589.4,1178 1591.9,1180 1587.1,1183 1594.9,1186 1587.4,1190 1586.4,1194 1571,1195" fill="#3a6ea5"/>
<rect x="1571" y="880" width="12" height="280" fill="#3578b2" opacity="0.8"/>
<ellipse cx="1695.2" cy="272.4" rx="23.6" ry="7.5" fill="#2e86c0"/>
<ellipse cx="1657.4" cy="457.0" rx="17.3" ry="6.0" fill="#2e86c0"/>
<ellipse cx="1608.7" cy="499.5" rx="23.6" ry="7.1" fill="#2e86c0"/>
<ellipse cx="1657.5" cy="456.7" rx="17.8" ry="5.9" fill="#2e86c0"/>
<ellipse cx="1609.3" cy="500.1" rx="24.1" ry="6.7" fill="#2e86c0"/>
<polygon points="1585.2,516.4 1616.6,514.3 1618.7,531.1 1669.0,537.4 1669.0,550.0 1658.5,566.7 1662.7,575.1 1650.1,585.6 1658.5,594.0 1658.5,608.6 1654.3,629.6 1639.6,636.9 1581.0,638.0 1579.9,621.2 1584.1,608.6 1583.1,554.1 1585.2,537.4" fill="#2b9fd0"/>
<ellipse cx="1676.3" cy="556.2" rx="12.6" ry="5.9" fill="#3572a8"/>
<polygon points="1585.2,524.8 1616.6,523.8 1620.8,534.2 1650.1,535.3 1652.2,554.1 1639.6,566.7 1641.7,579.3 1633.4,587.7 1639.6,598.2 1658.5,604.4 1654.3,627.5 1622.9,634.8 1581.0,632.7 1581.0,621.2 1585.2,614.9 1583.1,556.2" fill="#45d135"/>
<ellipse cx="1639.6" cy="554.1" rx="10.5" ry="12.6" fill="#2a8a22"/>
<ellipse cx="1601.9" cy="564.6" rx="18.9" ry="5.2" fill="#2a8a22"/>
<ellipse cx="1591.4" cy="583.5" rx="8.4" ry="6.3" fill="#2a8a22"/>
<ellipse cx="1622.9" cy="598.2" rx="16.8" ry="5.2" fill="#2a8a22"/>
<ellipse cx="1591.4" cy="626.5" rx="10.5" ry="6.3" fill="#36a82e"/>
<ellipse cx="1645.9" cy="587.7" rx="10.5" ry="8.4" fill="#2b9fd0"/>
<ellipse cx="1652.2" cy="570.9" rx="8.4" ry="5.2" fill="#2b9fd0"/>
<ellipse cx="1612.0" cy="542.6" rx="21.6" ry="6.3" fill="#e0e040"/>
<ellipse cx="1606.1" cy="556.7" rx="23.1" ry="6.7" fill="#d0d03a"/>
<ellipse cx="1613.4" cy="575.1" rx="13.6" ry="5.4" fill="#e0e040"/>
<ellipse cx="1609.3" cy="605.5" rx="26.2" ry="8.0" fill="#e0e040"/>
<ellipse cx="1608.2" cy="605.5" rx="7.3" ry="5.2" fill="#e8a020"/>
<ellipse cx="1612.8" cy="626.5" rx="17.4" ry="6.7" fill="#e0e040"/>
<ellipse cx="1625.0" cy="653.1" rx="45.1" ry="15.7" fill="#2b9fd0"/>
<ellipse cx="1591.4" cy="665.2" rx="13.6" ry="5.9" fill="#3572a8"/>
<ellipse cx="1627.1" cy="653.1" rx="41.9" ry="13.0" fill="#45d135"/>
<ellipse cx="1616.6" cy="653.1" rx="31.4" ry="6.3" fill="#e0e040"/>
<ellipse cx="1625.0" cy="653.1" rx="8.4" ry="4.6" fill="#e8a020"/>
<polygon points="1587.2,688.3 1614.5,687.2 1650.1,696.7 1650.1,713.4 1639.6,721.8 1650.1,732.3 1650.1,740.7 1627.1,750.1 1585.2,747.0 1575.7,747.0 1579.9,734.4 1579.9,694.6" fill="#2b9fd0"/>
<ellipse cx="1633.4" cy="735.4" rx="16.8" ry="7.3" fill="#2e86c0"/>
<polygon points="1581.0,698.8 1622.9,696.7 1633.4,707.2 1631.3,717.6 1639.6,721.8 1629.2,734.4 1629.2,743.8 1597.7,745.9 1581.0,738.6" fill="#45d135"/>
<ellipse cx="1606.1" cy="701.9" rx="23.1" ry="3.8" fill="#2a8a22"/>
<ellipse cx="1627.1" cy="709.2" rx="4.6" ry="9.4" fill="#2a8a22"/>
<ellipse cx="1610.3" cy="722.9" rx="25.2" ry="2.5" fill="#55ee3a"/>
<ellipse cx="1601.9" cy="730.2" rx="18.9" ry="3.8" fill="#3cbf33"/>
<ellipse cx="1600.9" cy="711.8" rx="20.5" ry="4.6" fill="#e0e040"/>
<ellipse cx="1612.4" cy="756.8" rx="10.1" ry="3.8" fill="#3572a8"/>
<ellipse cx="1614.1" cy="779.5" rx="15.7" ry="5.2" fill="#2e86c0"/>
<ellipse cx="1615.5" cy="803.1" rx="17.8" ry="5.2" fill="#2e86c0"/>
<ellipse cx="1701.5" cy="699.8" rx="18.9" ry="7.3" fill="#2b9fd0"/>
<ellipse cx="1709.9" cy="717.6" rx="9.4" ry="4.2" fill="#3572a8"/>
<ellipse cx="1709.9" cy="737.5" rx="9.4" ry="7.3" fill="#3572a8"/>
<ellipse cx="1701.5" cy="762.7" rx="18.9" ry="8.4" fill="#2b9fd0"/>
<ellipse cx="1702.5" cy="772.1" rx="18.9" ry="6.3" fill="#2e86c0"/>
<ellipse cx="1702.5" cy="814.0" rx="18.9" ry="6.3" fill="#2b9fd0"/>
<ellipse cx="1587.2" cy="803.6" rx="11.5" ry="18.9" fill="#3a6ea5"/>
<ellipse cx="1615.0" cy="803.9" rx="17.0" ry="3.9" fill="#2b9fd0"/>
<ellipse cx="1613.7" cy="838.8" rx="15.7" ry="5.8" fill="#2e86c0"/>
<ellipse cx="1621.5" cy="867.6" rx="7.9" ry="2.6" fill="#2e86c0"/>
<ellipse cx="1621.5" cy="893.7" rx="8.4" ry="6.5" fill="#2e86c0"/>
<ellipse cx="1622.1" cy="915.2" rx="7.9" ry="2.6" fill="#2e86c0"/>
<ellipse cx="1701.4" cy="813.1" rx="18.3" ry="6.5" fill="#2b9fd0"/>
<ellipse cx="1701.4" cy="868.1" rx="18.3" ry="6.5" fill="#2b9fd0"/>
<ellipse cx="1683.1" cy="904.0" rx="19.6" ry="5.2" fill="#2e86c0"/>
<ellipse cx="1683.1" cy="893.0" rx="5.2" ry="2.6" fill="#2e86c0"/>
<ellipse cx="1683.1" cy="913.9" rx="4.7" ry="3.7" fill="#2e86c0"/>
<ellipse cx="1681.8" cy="929.1" rx="5.8" ry="2.6" fill="#2e86c0"/>
<ellipse cx="1709.8" cy="995.1" rx="9.2" ry="24.9" fill="#2e86c0"/>
<ellipse cx="1709.8" cy="1052.2" rx="9.2" ry="3.1" fill="#2e86c0"/>
<ellipse cx="1621.5" cy="946.6" rx="36.7" ry="19.6" fill="#2b9fd0"/>
<ellipse cx="1647.7" cy="949.3" rx="11.0" ry="7.9" fill="#2e86c0"/>
<ellipse cx="1615.0" cy="934.9" rx="28.8" ry="6.5" fill="#36a82e"/>
<ellipse cx="1634.6" cy="934.9" rx="7.9" ry="4.7" fill="#55ee3a"/>
<ellipse cx="1632.0" cy="949.3" rx="11.8" ry="10.5" fill="#2a8a22"/>
<ellipse cx="1635.9" cy="945.3" rx="7.9" ry="6.5" fill="#55ee3a"/>
<ellipse cx="1604.5" cy="944.0" rx="19.6" ry="5.2" fill="#e0e040"/>
<ellipse cx="1616.3" cy="953.2" rx="7.9" ry="4.7" fill="#e0e040"/>
<ellipse cx="1599.3" cy="953.2" rx="13.1" ry="4.7" fill="#e8a020"/>
<rect x="1584.9" y="951.3" width="3.1" height="3.1" fill="#e8102a"/>
<ellipse cx="1596.7" cy="1177.1" rx="20.9" ry="15.7" fill="#2b9fd0"/>
<ellipse cx="1591.4" cy="1158.7" rx="15.7" ry="7.9" fill="#2b9fd0"/>
<ellipse cx="1584.9" cy="1161.9" rx="10.0" ry="4.7" fill="#45d135"/>
<ellipse cx="1587.5" cy="1179.7" rx="10.5" ry="8.4" fill="#45d135"/>
<ellipse cx="1622.8" cy="1080.2" rx="3.1" ry="4.7" fill="#3572a8"/>
<ellipse cx="1624.2" cy="1095.4" rx="3.9" ry="2.6" fill="#3572a8"/>
<ellipse cx="1600.6" cy="1111.6" rx="2.6" ry="2.6" fill="#3572a8"/>
<ellipse cx="1604.5" cy="1139.1" rx="5.2" ry="9.2" fill="#3572a8"/>
<ellipse cx="1592.7" cy="1195.9" rx="7.3" ry="2.1" fill="#3572a8"/>
<ellipse cx="1603.2" cy="1209.0" rx="9.2" ry="2.6" fill="#3572a8"/>
<ellipse cx="1684.4" cy="1195.9" rx="10.5" ry="3.1" fill="#2e86c0"/>
<ellipse cx="1601.9" cy="1234.7" rx="9.2" ry="7.9" fill="#3572a8"/>
<ellipse cx="1624.2" cy="1226.8" rx="10.5" ry="5.2" fill="#3572a8"/>
<ellipse cx="1638.6" cy="1237.8" rx="27.5" ry="4.7" fill="#2b9fd0"/>
<rect x="1613.2" y="1237.8" width="22.0" height="62.1" fill="#2b9fd0"/>
<ellipse cx="1684.4" cy="1229.4" rx="11.0" ry="15.7" fill="#3572a8"/>
<ellipse cx="1709.8" cy="1220.3" rx="9.2" ry="10.5" fill="#3572a8"/>
<ellipse cx="1706.6" cy="1260.9" rx="13.1" ry="10.5" fill="#2b9fd0"/>
<ellipse cx="1650.3" cy="1271.3" rx="10.5" ry="3.9" fill="#2b9fd0"/>
<ellipse cx="1670.0" cy="1289.7" rx="7.9" ry="3.1" fill="#2b9fd0"/>
<ellipse cx="1664.7" cy="1248.3" rx="22.3" ry="5.8" fill="#3cbf33"/>
<ellipse cx="1683.1" cy="1279.2" rx="22.3" ry="7.3" fill="#36a82e"/>
<ellipse cx="1660.8" cy="1259.5" rx="20.9" ry="5.8" fill="#e0e040"/>
<ellipse cx="1683.1" cy="1268.7" rx="22.3" ry="7.3" fill="#d0d03a"/>
<ellipse cx="1683.1" cy="1258.2" rx="3.9" ry="5.2" fill="#2a8a22"/>
<rect x="1613.1" y="1249.2" width="22.1" height="59.1" fill="#2b9fd0"/>
<rect x="1613.1" y="1254.3" width="22.1" height="50.1" fill="#45d135"/>
<rect x="1613.1" y="1264.6" width="22.1" height="15.4" fill="#36a82e"/>
<rect x="1613.1" y="1280.0" width="22.1" height="7.7" fill="#e8a020"/>
<rect x="1613.1" y="1287.7" width="22.1" height="7.7" fill="#e0e040"/>
<ellipse cx="1624.2" cy="1308.2" rx="11.0" ry="3.6" fill="#2e86c0"/>
<ellipse cx="1683.2" cy="1282.6" rx="23.1" ry="4.6" fill="#36a82e"/>
<ellipse cx="1674.2" cy="1290.8" rx="10.8" ry="3.1" fill="#2e86c0"/>
<ellipse cx="1611.3" cy="1333.9" rx="13.4" ry="3.9" fill="#2e86c0"/>
<ellipse cx="1706.3" cy="1304.4" rx="12.8" ry="4.6" fill="#2e86c0"/>
<ellipse cx="1706.3" cy="1315.9" rx="12.8" ry="5.6" fill="#2e86c0"/>
<ellipse cx="1706.3" cy="1330.1" rx="12.8" ry="9.0" fill="#2baee0"/>
<ellipse cx="1706.3" cy="1344.2" rx="12.8" ry="8.2" fill="#2e86c0"/>
<ellipse cx="1706.3" cy="1381.4" rx="12.8" ry="9.0" fill="#2e86c0"/>
<ellipse cx="1707.6" cy="1404.5" rx="11.6" ry="11.6" fill="#2e86c0"/>
<ellipse cx="1601.1" cy="1394.2" rx="15.4" ry="4.6" fill="#2e86c0"/>
<ellipse cx="1630.6" cy="1400.7" rx="14.1" ry="13.4" fill="#2e86c0"/>
<rect x="1585.2" y="1407.1" width="32.9" height="35.2" fill="#45d135"/>
<ellipse cx="1601.6" cy="1407.6" rx="16.4" ry="3.1" fill="#45d135"/>
<ellipse cx="1601.6" cy="1441.2" rx="16.4" ry="3.1" fill="#45d135"/>
<rect x="1585.2" y="1410.9" width="32.9" height="6.4" fill="#c8b030"/>
<rect x="1585.2" y="1417.4" width="32.9" height="7.7" fill="#d0021b"/>
<rect x="1585.2" y="1425.1" width="32.9" height="3.9" fill="#eaea3a"/>
<rect x="1585.2" y="1428.9" width="32.9" height="5.1" fill="#36a82e"/>
<ellipse cx="1680.7" cy="1418.6" rx="21.8" ry="8.2" fill="#2b9fd0"/>
<ellipse cx="1680.7" cy="1405.8" rx="22.6" ry="7.2" fill="#36a82e"/>
<rect x="1664.0" y="1430.2" width="38.5" height="38.5" fill="#2b9fd0"/>
<ellipse cx="1683.2" cy="1440.5" rx="18.5" ry="6.4" fill="#55ee3a"/>
<ellipse cx="1683.2" cy="1462.8" rx="19.3" ry="8.2" fill="#55ee3a"/>
<ellipse cx="1629.3" cy="1481.5" rx="25.7" ry="7.7" fill="#2e86c0"/>
<ellipse cx="1604.9" cy="1530.3" rx="10.3" ry="4.6" fill="#2e86c0"/>
<ellipse cx="1606.2" cy="1518.8" rx="11.6" ry="4.6" fill="#55ee3a"/>
<ellipse cx="1627.3" cy="1548.3" rx="21.8" ry="8.2" fill="#2baee0"/>
<rect x="1606.2" y="1482.8" width="42.4" height="56.5" fill="#3cbf33"/>
<ellipse cx="1627.3" cy="1485.4" rx="21.1" ry="4.6" fill="#3cbf33"/>
<rect x="1606.2" y="1495.7" width="42.4" height="7.7" fill="#eaea3a"/>
<rect x="1607.5" y="1501.3" width="40.3" height="9.8" fill="#e8102a"/>
<ellipse cx="1628.0" cy="1511.8" rx="20.0" ry="6.2" fill="#b8000f"/>
<rect x="1606.2" y="1517.5" width="42.4" height="5.1" fill="#eaea3a"/>
<rect x="1606.2" y="1522.6" width="42.4" height="6.4" fill="#2a8a22"/>
<ellipse cx="1626.2" cy="1535.5" rx="21.1" ry="5.6" fill="#55ee3a"/>
<polygon points="1637.0,1556.0 1673.0,1552.1 1673.0,1588.1 1667.8,1639.4 1678.1,1644.6 1676.8,1665.1 1699.9,1675.4 1688.4,1681.8 1647.3,1681.8 1647.3,1703.6 1599.8,1703.6 1599.8,1577.8 1619.1,1572.7 1637.0,1565.0" fill="#2b9fd0"/>
<polygon points="1599.8,1595.8 1649.9,1595.8 1649.9,1611.2 1673.0,1626.6 1673.0,1636.9 1649.9,1639.4 1665.3,1660.0 1662.7,1685.6 1601.1,1688.2" fill="#45d135"/>
<ellipse cx="1624.2" cy="1660.0" rx="25.7" ry="14.1" fill="#298420"/>
<ellipse cx="1662.7" cy="1604.0" rx="10.3" ry="7.2" fill="#36a82e"/>
<ellipse cx="1631.9" cy="1644.6" rx="20.5" ry="7.7" fill="#36a82e"/>
<ellipse cx="1619.1" cy="1631.7" rx="23.1" ry="7.7" fill="#e0e040"/>
<ellipse cx="1628.0" cy="1626.6" rx="12.8" ry="6.4" fill="#e8a020"/>
<ellipse cx="1611.3" cy="1626.1" rx="11.6" ry="4.6" fill="#e8102a"/>
<ellipse cx="1606.2" cy="1649.7" rx="6.4" ry="2.6" fill="#eaea3a"/>
<rect x="1599.8" y="1689.5" width="48.3" height="27.0" fill="#2baee0"/>
<ellipse cx="1624.2" cy="1713.9" rx="24.4" ry="3.9" fill="#55ee3a"/>
<rect x="1673.0" y="1556.0" width="45.7" height="80.9" fill="#e0e040"/>
<ellipse cx="1696.1" cy="1556.0" rx="23.1" ry="5.6" fill="#298420"/>
<rect x="1673.0" y="1556.0" width="45.7" height="5.9" fill="#298420"/>
<rect x="1673.0" y="1577.8" width="45.7" height="3.9" fill="#36a82e"/>
<rect x="1673.0" y="1581.7" width="45.7" height="6.4" fill="#eaea3a"/>
<ellipse cx="1696.1" cy="1594.5" rx="22.8" ry="7.7" fill="#d0021b"/>
<rect x="1674.2" y="1601.4" width="44.4" height="13.6" fill="#e08a1a"/>
<rect x="1673.0" y="1615.0" width="45.7" height="5.1" fill="#eaea3a"/>
<rect x="1674.2" y="1620.2" width="44.4" height="11.6" fill="#257a1e"/>
<ellipse cx="1696.1" cy="1635.6" rx="22.6" ry="4.6" fill="#55ee3a"/>
</g>
<g fill="none" stroke="#000">
<rect x="20" y="64" width="1549" height="153.5" stroke-width="2.2"/>
<rect x="20" y="219.5" width="1549.7" height="1540.5" stroke-width="3"/>
<rect x="1569.7" y="219.8" width="151" height="1540" stroke-width="2.2"/>
</g>
<g stroke="#fff" stroke-width="1.9">
<line x1="21" x2="1568" y1="115.5" y2="115.5"/><line x1="21" x2="1568" y1="167.4" y2="167.4"/>
<line y1="221" y2="1758.5" x1="1620.5" x2="1620.5" stroke-width="1.4"/><line y1="221" y2="1758.5" x1="1670.6" x2="1670.6" stroke-width="1.4"/>
</g>
<text class="sans" x="19.6" y="87.9" font-size="26" fill="#fff" textLength="72.8" lengthAdjust="spacingAndGlyphs">15 km</text>
<text class="sans" x="19.6" y="139.2" font-size="26" fill="#fff" textLength="72.8" lengthAdjust="spacingAndGlyphs">10 km</text>
<text class="sans" x="19.6" y="190.5" font-size="26" fill="#fff" textLength="57.8" lengthAdjust="spacingAndGlyphs">5 km</text>
<text class="sans" font-size="26" fill="#fff" transform="translate(1598.3,221.6) rotate(90)" textLength="57.8" lengthAdjust="spacingAndGlyphs">5 km</text>
<text class="sans" font-size="26" fill="#fff" transform="translate(1647.8,221.6) rotate(90)" textLength="72.8" lengthAdjust="spacingAndGlyphs">10 km</text>
<text class="sans" font-size="26" fill="#fff" transform="translate(1698,221.6) rotate(90)" textLength="72.8" lengthAdjust="spacingAndGlyphs">15 km</text>
<rect x="1721" y="220.00" width="36.6" height="120.83" fill="#8adfc0"/>
<rect x="1721" y="340.33" width="36.6" height="48.63" fill="#98e4c8"/>
<rect x="1721" y="388.46" width="36.6" height="24.57" fill="#a5e8d0"/>
<rect x="1721" y="412.52" width="36.6" height="24.57" fill="#b5ecd8"/>
<rect x="1721" y="436.59" width="36.6" height="24.57" fill="#c5f0e0"/>
<rect x="1721" y="460.66" width="36.6" height="24.57" fill="#e0f5ec"/>
<rect x="1721" y="484.72" width="36.6" height="24.57" fill="#ffffff"/>
<rect x="1721" y="508.79" width="36.6" height="24.57" fill="#9c0099"/>
<rect x="1721" y="532.85" width="36.6" height="24.57" fill="#b800b0"/>
<rect x="1721" y="556.92" width="36.6" height="24.57" fill="#cc00c0"/>
<rect x="1721" y="580.98" width="36.6" height="24.57" fill="#e800e8"/>
<rect x="1721" y="605.05" width="36.6" height="24.57" fill="#d8009a"/>
<rect x="1721" y="629.12" width="36.6" height="24.57" fill="#c00060"/>
<rect x="1721" y="653.18" width="36.6" height="24.57" fill="#9c0000"/>
<rect x="1721" y="677.25" width="36.6" height="24.57" fill="#b00008"/>
<rect x="1721" y="701.31" width="36.6" height="24.57" fill="#c00018"/>
<rect x="1721" y="725.38" width="36.6" height="24.57" fill="#cc0020"/>
<rect x="1721" y="749.44" width="36.6" height="24.57" fill="#e81030"/>
<rect x="1721" y="773.51" width="36.6" height="24.57" fill="#e08818"/>
<rect x="1721" y="797.58" width="36.6" height="24.57" fill="#d89a1e"/>
<rect x="1721" y="821.64" width="36.6" height="24.57" fill="#d0ac22"/>
<rect x="1721" y="845.71" width="36.6" height="24.57" fill="#c4c230"/>
<rect x="1721" y="869.77" width="36.6" height="24.57" fill="#cfd030"/>
<rect x="1721" y="893.84" width="36.6" height="24.57" fill="#d8d835"/>
<rect x="1721" y="917.90" width="36.6" height="24.57" fill="#e4e43a"/>
<rect x="1721" y="941.97" width="36.6" height="24.57" fill="#f0f040"/>
<rect x="1721" y="966.03" width="36.6" height="24.57" fill="#226e1a"/>
<rect x="1721" y="990.10" width="36.6" height="24.57" fill="#298420"/>
<rect x="1721" y="1014.17" width="36.6" height="24.57" fill="#2f9a24"/>
<rect x="1721" y="1038.23" width="36.6" height="24.57" fill="#36ae2a"/>
<rect x="1721" y="1062.30" width="36.6" height="24.57" fill="#3cbe2e"/>
<rect x="1721" y="1086.36" width="36.6" height="24.57" fill="#45cc32"/>
<rect x="1721" y="1110.43" width="36.6" height="24.57" fill="#4fdc36"/>
<rect x="1721" y="1134.49" width="36.6" height="24.57" fill="#58ee3a"/>
<rect x="1721" y="1158.56" width="36.6" height="24.57" fill="#2baee0"/>
<rect x="1721" y="1182.62" width="36.6" height="24.57" fill="#2aa4d6"/>
<rect x="1721" y="1206.69" width="36.6" height="24.57" fill="#2a9acc"/>
<rect x="1721" y="1230.76" width="36.6" height="24.57" fill="#2b92c6"/>
<rect x="1721" y="1254.82" width="36.6" height="24.57" fill="#2c8cc0"/>
<rect x="1721" y="1278.89" width="36.6" height="24.57" fill="#2d86ba"/>
<rect x="1721" y="1302.95" width="36.6" height="48.63" fill="#3580b8"/>
<rect x="1721" y="1351.08" width="36.6" height="72.70" fill="#3a70a8"/>
<rect x="1721" y="1423.28" width="36.6" height="72.70" fill="#3d6498"/>
<rect x="1721" y="1495.48" width="36.6" height="72.70" fill="#3f5a8c"/>
<rect x="1721" y="1567.67" width="36.6" height="72.70" fill="#404a7c"/>
<rect x="1721" y="1639.87" width="36.6" height="120.83" fill="#3f3f6e"/>
<rect x="1720.4" y="220.4" width="38" height="1539.4" fill="none" stroke="#000" stroke-width="2.2"/>
<line x1="1759" x2="1767.8" y1="244.1" y2="244.1" stroke="#000" stroke-width="2.1"/>
<text class="sans" x="1779" y="255.9" font-size="30" fill="#000">75</text>
<line x1="1759" x2="1767.8" y1="324.3" y2="324.3" stroke="#000" stroke-width="2.1"/>
<text class="sans" x="1779" y="336.1" font-size="30" fill="#000">70</text>
<line x1="1759" x2="1767.8" y1="404.5" y2="404.5" stroke="#000" stroke-width="2.1"/>
<text class="sans" x="1779" y="416.3" font-size="30" fill="#000">65</text>
<line x1="1759" x2="1767.8" y1="484.7" y2="484.7" stroke="#000" stroke-width="2.1"/>
<text class="sans" x="1779" y="496.5" font-size="30" fill="#000">60</text>
<line x1="1759" x2="1767.8" y1="565.0" y2="565.0" stroke="#000" stroke-width="2.1"/>
<text class="sans" x="1779" y="576.8" font-size="30" fill="#000">55</text>
<line x1="1759" x2="1767.8" y1="645.2" y2="645.2" stroke="#000" stroke-width="2.1"/>
<text class="sans" x="1779" y="657.0" font-size="30" fill="#000">50</text>
<line x1="1759" x2="1767.8" y1="725.4" y2="725.4" stroke="#000" stroke-width="2.1"/>
<text class="sans" x="1779" y="737.2" font-size="30" fill="#000">45</text>
<line x1="1759" x2="1767.8" y1="805.6" y2="805.6" stroke="#000" stroke-width="2.1"/>
<text class="sans" x="1779" y="817.4" font-size="30" fill="#000">40</text>
<line x1="1759" x2="1767.8" y1="885.8" y2="885.8" stroke="#000" stroke-width="2.1"/>
<text class="sans" x="1779" y="897.6" font-size="30" fill="#000">35</text>
<line x1="1759" x2="1767.8" y1="966.0" y2="966.0" stroke="#000" stroke-width="2.1"/>
<text class="sans" x="1779" y="977.8" font-size="30" fill="#000">30</text>
<line x1="1759" x2="1767.8" y1="1046.2" y2="1046.2" stroke="#000" stroke-width="2.1"/>
<text class="sans" x="1779" y="1058.0" font-size="30" fill="#000">25</text>
<line x1="1759" x2="1767.8" y1="1126.5" y2="1126.5" stroke="#000" stroke-width="2.1"/>
<text class="sans" x="1779" y="1138.3" font-size="30" fill="#000">20</text>
<line x1="1759" x2="1767.8" y1="1206.7" y2="1206.7" stroke="#000" stroke-width="2.1"/>
<text class="sans" x="1779" y="1218.5" font-size="30" fill="#000">15</text>
<line x1="1759" x2="1767.8" y1="1286.9" y2="1286.9" stroke="#000" stroke-width="2.1"/>
<text class="sans" x="1779" y="1298.7" font-size="30" fill="#000">10</text>
<line x1="1759" x2="1767.8" y1="1367.1" y2="1367.1" stroke="#000" stroke-width="2.1"/>
<text class="sans" x="1779" y="1378.9" font-size="30" fill="#000">5</text>
<line x1="1759" x2="1767.8" y1="1447.3" y2="1447.3" stroke="#000" stroke-width="2.1"/>
<text class="sans" x="1779" y="1459.1" font-size="30" fill="#000">0</text>
<line x1="1759" x2="1767.8" y1="1527.5" y2="1527.5" stroke="#000" stroke-width="2.1"/>
<text class="sans" x="1778.6" y="1539.3" font-size="30" fill="#000" textLength="42" lengthAdjust="spacingAndGlyphs">−5</text>
<line x1="1759" x2="1767.8" y1="1607.8" y2="1607.8" stroke="#000" stroke-width="2.1"/>
<text class="sans" x="1778.6" y="1619.6" font-size="30" fill="#000" textLength="60.5" lengthAdjust="spacingAndGlyphs">−10</text>
<line x1="1759" x2="1767.8" y1="1688.0" y2="1688.0" stroke="#000" stroke-width="2.1"/>
<text class="sans" x="1778.6" y="1699.8" font-size="30" fill="#000" textLength="60.5" lengthAdjust="spacingAndGlyphs">−15</text>
<path d="M139.9 1816.4 A38.2 38.2 0 1 0 139.9 1851.0" fill="none" stroke="#fdb400" stroke-width="18.6"/>
<rect x="97.5" y="1812.8" width="71.2095" height="42.7257" fill="#e6e6e6"/>
<path d="M99 1818.3 Q109.6 1815.4 116.2 1815.2 Q122.7 1815 129.2 1815.8 Q135.8 1816.5 142.4 1817.4 Q149 1818.3 153.4 1817.8 Q157.8 1817.2 162.2 1815.6 L166.5 1813.9 L166.5 1829.2 Q157.8 1833.2 152.3 1834.0 Q146.8 1834.7 139.2 1833.1 Q131.5 1831.4 124.9 1830.3 Q118.3 1829.2 112.8 1829.6 Q107.4 1829.9 103.2 1831.5 L99 1833 Z" fill="#0093d7"/>
<path d="M99 1839.1 Q109.6 1836.3 116.2 1836.0 Q122.7 1835.8 129.2 1836.6 Q135.8 1837.4 142.4 1838.2 Q149 1839.1 153.4 1838.5 Q157.8 1838 162.2 1836.3 L166.5 1834.7 L166.5 1850.1 Q157.8 1854 152.3 1854.8 Q146.8 1855.5 139.2 1853.9 Q131.5 1852.3 124.9 1851.2 Q118.3 1850.1 112.8 1850.4 Q107.4 1850.7 103.2 1852.2 L99 1853.8 Z" fill="#0093d7"/>
<text class="sans" x="178.8" y="1807.3" font-size="28" fill="#232323" stroke="#232323" stroke-width="0.45" textLength="111.7" lengthAdjust="spacingAndGlyphs">Servicio</text>
<text class="sans" x="178.8" y="1833.6" font-size="28" fill="#232323" stroke="#232323" stroke-width="0.45" textLength="200.5" lengthAdjust="spacingAndGlyphs">Meteorológico</text>
<text class="sans" x="178.8" y="1859.9" font-size="28" fill="#232323" stroke="#232323" stroke-width="0.45" textLength="118.8" lengthAdjust="spacingAndGlyphs">Nacional</text>
<text class="sans" x="180.1" y="1880.7" font-size="18.4" fill="#232323" stroke="#232323" stroke-width="0.4" textLength="93.3" lengthAdjust="spacingAndGlyphs">Argentina</text>
<g fill="none" stroke="#3a4368" stroke-linecap="round">
<line x1="523.7" y1="1799.8" x2="517.0" y2="1804.1" stroke-width="1.1"/>
<line x1="523.1" y1="1798.7" x2="513.1" y2="1803.4" stroke-width="1.1"/>
<line x1="522.6" y1="1797.4" x2="515.0" y2="1799.9" stroke-width="1.1"/>
<line x1="522.3" y1="1796.2" x2="511.5" y2="1798.2" stroke-width="1.1"/>
<line x1="522.1" y1="1794.9" x2="514.1" y2="1795.4" stroke-width="1.1"/>
<line x1="522.1" y1="1793.5" x2="511.1" y2="1792.9" stroke-width="1.1"/>
<line x1="522.3" y1="1792.2" x2="514.4" y2="1790.7" stroke-width="1.1"/>
<line x1="522.6" y1="1791.0" x2="512.2" y2="1787.6" stroke-width="1.1"/>
<line x1="523.1" y1="1789.7" x2="515.9" y2="1786.3" stroke-width="1.1"/>
<line x1="523.7" y1="1788.6" x2="514.4" y2="1782.7" stroke-width="1.1"/>
<line x1="524.5" y1="1787.5" x2="518.3" y2="1782.4" stroke-width="1.1"/>
<line x1="525.4" y1="1786.5" x2="517.9" y2="1778.5" stroke-width="1.1"/>
<line x1="526.4" y1="1785.7" x2="521.7" y2="1779.2" stroke-width="1.1"/>
<line x1="527.5" y1="1785.0" x2="522.2" y2="1775.4" stroke-width="1.1"/>
<line x1="528.7" y1="1784.4" x2="525.8" y2="1777.0" stroke-width="1.1"/>
<line x1="530.0" y1="1784.0" x2="527.3" y2="1773.4" stroke-width="1.1"/>
<line x1="531.3" y1="1783.8" x2="530.3" y2="1775.8" stroke-width="1.1"/>
<line x1="532.6" y1="1783.7" x2="532.6" y2="1772.7" stroke-width="1.1"/>
<line x1="533.9" y1="1783.8" x2="534.9" y2="1775.8" stroke-width="1.1"/>
<line x1="535.2" y1="1784.0" x2="537.9" y2="1773.4" stroke-width="1.1"/>
<line x1="536.5" y1="1784.4" x2="539.4" y2="1777.0" stroke-width="1.1"/>
<line x1="537.7" y1="1785.0" x2="543.0" y2="1775.4" stroke-width="1.1"/>
<line x1="538.8" y1="1785.7" x2="543.5" y2="1779.2" stroke-width="1.1"/>
<line x1="539.8" y1="1786.5" x2="547.3" y2="1778.5" stroke-width="1.1"/>
<line x1="540.7" y1="1787.5" x2="546.9" y2="1782.4" stroke-width="1.1"/>
<line x1="541.5" y1="1788.6" x2="550.8" y2="1782.7" stroke-width="1.1"/>
<line x1="542.1" y1="1789.7" x2="549.3" y2="1786.3" stroke-width="1.1"/>
<line x1="542.6" y1="1791.0" x2="553.0" y2="1787.6" stroke-width="1.1"/>
<line x1="542.9" y1="1792.2" x2="550.8" y2="1790.7" stroke-width="1.1"/>
<line x1="543.1" y1="1793.5" x2="554.1" y2="1792.9" stroke-width="1.1"/>
<line x1="543.1" y1="1794.9" x2="551.1" y2="1795.4" stroke-width="1.1"/>
<line x1="542.9" y1="1796.2" x2="553.7" y2="1798.2" stroke-width="1.1"/>
<line x1="542.6" y1="1797.4" x2="550.2" y2="1799.9" stroke-width="1.1"/>
<line x1="542.1" y1="1798.7" x2="552.1" y2="1803.4" stroke-width="1.1"/>
<line x1="541.5" y1="1799.8" x2="548.2" y2="1804.1" stroke-width="1.1"/>
<circle cx="532.6" cy="1794.2" r="8.6" stroke-width="1.2" fill="#e6e6e6"/>
<path d="M527.6 1793.2 h3 M534.6 1793.2 h3 M532.6 1795.2 v3" stroke-width="1.1"/>
<ellipse cx="532.6" cy="1841.5" rx="34.5" ry="45" stroke-width="5.5" stroke-dasharray="2.2 1.8" stroke-linecap="butt" opacity="0.62"/>
<ellipse cx="532.6" cy="1841.5" rx="34.5" ry="45" stroke-width="1" opacity="0.9"/>
<ellipse cx="532.6" cy="1840.5" rx="28" ry="39.6" stroke-width="1.5" fill="#e6e6e6"/>
<line x1="520.4" x2="544.8" y1="1806" y2="1806" stroke-width="0.7" opacity="0.8"/>
<line x1="516.2" x2="549.0" y1="1810" y2="1810" stroke-width="0.7" opacity="0.8"/>
<line x1="513.3" x2="551.9" y1="1814" y2="1814" stroke-width="0.7" opacity="0.8"/>
<line x1="511.1" x2="554.1" y1="1818" y2="1818" stroke-width="0.7" opacity="0.8"/>
<line x1="509.3" x2="555.9" y1="1822" y2="1822" stroke-width="0.7" opacity="0.8"/>
<line x1="508.0" x2="557.2" y1="1826" y2="1826" stroke-width="0.7" opacity="0.8"/>
<line x1="507.1" x2="558.1" y1="1830" y2="1830" stroke-width="0.7" opacity="0.8"/>
<line x1="506.5" x2="558.7" y1="1834" y2="1834" stroke-width="0.7" opacity="0.8"/>
<line x1="506.2" x2="559.0" y1="1838" y2="1838" stroke-width="0.7" opacity="0.8"/>
<line x1="506.1" x2="559.1" y1="1842" y2="1842" stroke-width="0.7" opacity="0.8"/>
<line x1="506.4" x2="558.8" y1="1846" y2="1846" stroke-width="0.7" opacity="0.8"/>
<line x1="506.9" x2="558.3" y1="1850" y2="1850" stroke-width="0.7" opacity="0.8"/>
<path d="M509.6 1861 L526.6 1848 L532.6 1853 L538.6 1848 L555.6 1861" stroke-width="1" fill="#e6e6e6"/>
<path d="M506.6 1852 Q520.6 1844 532.6 1846 Q544.6 1844 558.6 1852" stroke-width="0.9"/>
<line x1="532.6" x2="532.6" y1="1824" y2="1872" stroke-width="1.8"/>
<path d="M525.6 1826 q-3 -12 6 -13 q9 1 9 9 q0 4 -2 5 z" stroke-width="1.3" fill="#e6e6e6"/>
<path d="M528.1 1883 h9 v7 h-9 z" stroke-width="1.6" fill="#3a4368"/>
<path d="M529.6 1888 L521.6 1897 L526.6 1893 M535.6 1888 L543.6 1897 L538.6 1893" stroke-width="2.2"/>
</g>
<text class="serif" x="583.5" y="1827.6" font-size="28" font-weight="bold" fill="#232b4e" textLength="132" lengthAdjust="spacingAndGlyphs">Ministerio</text>
<text class="serif" x="583.5" y="1853.2" font-size="28" font-weight="bold" fill="#232b4e" textLength="132.7" lengthAdjust="spacingAndGlyphs">de Defensa</text>
<text class="serif" x="584" y="1873.5" font-size="16.6" fill="#38406a" textLength="149.8" lengthAdjust="spacingAndGlyphs">República Argentina</text>
<g fill="none" stroke="#3a4368" stroke-linecap="round">
<line x1="885.4" y1="1799.8" x2="878.7" y2="1804.1" stroke-width="1.1"/>
<line x1="884.8" y1="1798.7" x2="874.8" y2="1803.4" stroke-width="1.1"/>
<line x1="884.3" y1="1797.4" x2="876.7" y2="1799.9" stroke-width="1.1"/>
<line x1="884.0" y1="1796.2" x2="873.2" y2="1798.2" stroke-width="1.1"/>
<line x1="883.8" y1="1794.9" x2="875.8" y2="1795.4" stroke-width="1.1"/>
<line x1="883.8" y1="1793.5" x2="872.8" y2="1792.9" stroke-width="1.1"/>
<line x1="884.0" y1="1792.2" x2="876.1" y2="1790.7" stroke-width="1.1"/>
<line x1="884.3" y1="1791.0" x2="873.9" y2="1787.6" stroke-width="1.1"/>
<line x1="884.8" y1="1789.7" x2="877.6" y2="1786.3" stroke-width="1.1"/>
<line x1="885.4" y1="1788.6" x2="876.1" y2="1782.7" stroke-width="1.1"/>
<line x1="886.2" y1="1787.5" x2="880.0" y2="1782.4" stroke-width="1.1"/>
<line x1="887.1" y1="1786.5" x2="879.6" y2="1778.5" stroke-width="1.1"/>
<line x1="888.1" y1="1785.7" x2="883.4" y2="1779.2" stroke-width="1.1"/>
<line x1="889.2" y1="1785.0" x2="883.9" y2="1775.4" stroke-width="1.1"/>
<line x1="890.4" y1="1784.4" x2="887.5" y2="1777.0" stroke-width="1.1"/>
<line x1="891.7" y1="1784.0" x2="889.0" y2="1773.4" stroke-width="1.1"/>
<line x1="893.0" y1="1783.8" x2="892.0" y2="1775.8" stroke-width="1.1"/>
<line x1="894.3" y1="1783.7" x2="894.3" y2="1772.7" stroke-width="1.1"/>
<line x1="895.6" y1="1783.8" x2="896.6" y2="1775.8" stroke-width="1.1"/>
<line x1="896.9" y1="1784.0" x2="899.6" y2="1773.4" stroke-width="1.1"/>
<line x1="898.2" y1="1784.4" x2="901.1" y2="1777.0" stroke-width="1.1"/>
<line x1="899.4" y1="1785.0" x2="904.7" y2="1775.4" stroke-width="1.1"/>
<line x1="900.5" y1="1785.7" x2="905.2" y2="1779.2" stroke-width="1.1"/>
<line x1="901.5" y1="1786.5" x2="909.0" y2="1778.5" stroke-width="1.1"/>
<line x1="902.4" y1="1787.5" x2="908.6" y2="1782.4" stroke-width="1.1"/>
<line x1="903.2" y1="1788.6" x2="912.5" y2="1782.7" stroke-width="1.1"/>
<line x1="903.8" y1="1789.7" x2="911.0" y2="1786.3" stroke-width="1.1"/>
<line x1="904.3" y1="1791.0" x2="914.7" y2="1787.6" stroke-width="1.1"/>
<line x1="904.6" y1="1792.2" x2="912.5" y2="1790.7" stroke-width="1.1"/>
<line x1="904.8" y1="1793.5" x2="915.8" y2="1792.9" stroke-width="1.1"/>
<line x1="904.8" y1="1794.9" x2="912.8" y2="1795.4" stroke-width="1.1"/>
<line x1="904.6" y1="1796.2" x2="915.4" y2="1798.2" stroke-width="1.1"/>
<line x1="904.3" y1="1797.4" x2="911.9" y2="1799.9" stroke-width="1.1"/>
<line x1="903.8" y1="1798.7" x2="913.8" y2="1803.4" stroke-width="1.1"/>
<line x1="903.2" y1="1799.8" x2="909.9" y2="1804.1" stroke-width="1.1"/>
<circle cx="894.3" cy="1794.2" r="8.6" stroke-width="1.2" fill="#e6e6e6"/>
<path d="M889.3 1793.2 h3 M896.3 1793.2 h3 M894.3 1795.2 v3" stroke-width="1.1"/>
<ellipse cx="894.3" cy="1841.5" rx="34.5" ry="45" stroke-width="5.5" stroke-dasharray="2.2 1.8" stroke-linecap="butt" opacity="0.62"/>
<ellipse cx="894.3" cy="1841.5" rx="34.5" ry="45" stroke-width="1" opacity="0.9"/>
<ellipse cx="894.3" cy="1840.5" rx="28" ry="39.6" stroke-width="1.5" fill="#e6e6e6"/>
<line x1="882.1" x2="906.5" y1="1806" y2="1806" stroke-width="0.7" opacity="0.8"/>
<line x1="877.9" x2="910.7" y1="1810" y2="1810" stroke-width="0.7" opacity="0.8"/>
<line x1="875.0" x2="913.6" y1="1814" y2="1814" stroke-width="0.7" opacity="0.8"/>
<line x1="872.8" x2="915.8" y1="1818" y2="1818" stroke-width="0.7" opacity="0.8"/>
<line x1="871.0" x2="917.6" y1="1822" y2="1822" stroke-width="0.7" opacity="0.8"/>
<line x1="869.7" x2="918.9" y1="1826" y2="1826" stroke-width="0.7" opacity="0.8"/>
<line x1="868.8" x2="919.8" y1="1830" y2="1830" stroke-width="0.7" opacity="0.8"/>
<line x1="868.2" x2="920.4" y1="1834" y2="1834" stroke-width="0.7" opacity="0.8"/>
<line x1="867.9" x2="920.7" y1="1838" y2="1838" stroke-width="0.7" opacity="0.8"/>
<line x1="867.8" x2="920.8" y1="1842" y2="1842" stroke-width="0.7" opacity="0.8"/>
<line x1="868.1" x2="920.5" y1="1846" y2="1846" stroke-width="0.7" opacity="0.8"/>
<line x1="868.6" x2="920.0" y1="1850" y2="1850" stroke-width="0.7" opacity="0.8"/>
<path d="M871.3 1861 L888.3 1848 L894.3 1853 L900.3 1848 L917.3 1861" stroke-width="1" fill="#e6e6e6"/>
<path d="M868.3 1852 Q882.3 1844 894.3 1846 Q906.3 1844 920.3 1852" stroke-width="0.9"/>
<line x1="894.3" x2="894.3" y1="1824" y2="1872" stroke-width="1.8"/>
<path d="M887.3 1826 q-3 -12 6 -13 q9 1 9 9 q0 4 -2 5 z" stroke-width="1.3" fill="#e6e6e6"/>
<path d="M889.8 1883 h9 v7 h-9 z" stroke-width="1.6" fill="#3a4368"/>
<path d="M891.3 1888 L883.3 1897 L888.3 1893 M897.3 1888 L905.3 1897 L900.3 1893" stroke-width="2.2"/>
</g>
<text class="serif" x="946.9" y="1826.8" font-size="28" font-weight="bold" fill="#232b4e" textLength="134.4" lengthAdjust="spacingAndGlyphs">Ministerio</text>
<text class="serif" x="946.9" y="1852.7" font-size="28" font-weight="bold" fill="#232b4e" textLength="161.1" lengthAdjust="spacingAndGlyphs">de Economía</text>
<text class="serif" x="946.5" y="1873.5" font-size="16.6" fill="#38406a" textLength="152.6" lengthAdjust="spacingAndGlyphs">República Argentina</text>
</svg></body></html>
